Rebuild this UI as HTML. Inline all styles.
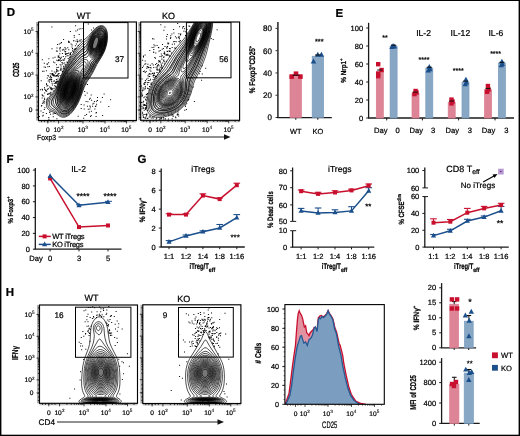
<!DOCTYPE html>
<html><head><meta charset="utf-8"><style>
html,body{margin:0;padding:0;background:#fff;}
svg{display:block;font-family:"Liberation Sans", sans-serif;will-change:transform;text-rendering:geometricPrecision;}
text{stroke:#000;stroke-width:0.22px;}
</style></head><body>
<svg width="520" height="436" viewBox="0 0 520 436" font-family='"Liberation Sans", sans-serif'>
<defs><clipPath id="cdw"><rect x="38.5" y="22.0" width="97.9" height="98.5"/></clipPath><clipPath id="cdk"><rect x="140.7" y="22.0" width="98.9" height="98.3"/></clipPath><clipPath id="chw"><rect x="39.5" y="305.0" width="98.0" height="98.30000000000001"/></clipPath><clipPath id="chk"><rect x="142.8" y="304.8" width="98.1" height="98.69999999999999"/></clipPath><clipPath id="chist"><rect x="284.9" y="304.6" width="99.40000000000003" height="99.69999999999999"/></clipPath></defs>
<rect x="0" y="0" width="520" height="436" fill="#fff"/>
<text x="6.80" y="16.40" font-size="11.5" text-anchor="start" font-weight="bold" fill="#000">D</text>
<text x="335.60" y="16.60" font-size="11.5" text-anchor="start" font-weight="bold" fill="#000">E</text>
<text x="6.60" y="163.00" font-size="11.5" text-anchor="start" font-weight="bold" fill="#000">F</text>
<text x="137.40" y="163.30" font-size="11.5" text-anchor="start" font-weight="bold" fill="#000">G</text>
<text x="5.80" y="296.40" font-size="11.5" text-anchor="start" font-weight="bold" fill="#000">H</text>
<line x1="277.90" y1="22.00" x2="277.90" y2="117.50" stroke="#333" stroke-width="1.6"/>
<line x1="275.50" y1="117.50" x2="277.90" y2="117.50" stroke="#333" stroke-width="1.0"/>
<text x="272.00" y="120.36" font-size="8.0" text-anchor="end" font-weight="normal" fill="#000">0</text>
<line x1="275.50" y1="95.22" x2="277.90" y2="95.22" stroke="#333" stroke-width="1.0"/>
<text x="272.00" y="98.08" font-size="8.0" text-anchor="end" font-weight="normal" fill="#000">20</text>
<line x1="275.50" y1="72.94" x2="277.90" y2="72.94" stroke="#333" stroke-width="1.0"/>
<text x="272.00" y="75.80" font-size="8.0" text-anchor="end" font-weight="normal" fill="#000">40</text>
<line x1="275.50" y1="50.66" x2="277.90" y2="50.66" stroke="#333" stroke-width="1.0"/>
<text x="272.00" y="53.52" font-size="8.0" text-anchor="end" font-weight="normal" fill="#000">60</text>
<line x1="275.50" y1="28.38" x2="277.90" y2="28.38" stroke="#333" stroke-width="1.0"/>
<text x="272.00" y="31.24" font-size="8.0" text-anchor="end" font-weight="normal" fill="#000">80</text>
<line x1="277.20" y1="117.60" x2="331.80" y2="117.60" stroke="#1a1a1a" stroke-width="1.3"/>
<line x1="295.80" y1="117.60" x2="295.80" y2="119.80" stroke="#1a1a1a" stroke-width="1.0"/>
<line x1="317.80" y1="117.60" x2="317.80" y2="119.80" stroke="#1a1a1a" stroke-width="1.0"/>
<rect x="290.00" y="76.28" width="11.40" height="41.22" fill="#dd8596" stroke="#d97a8d" stroke-width="0.7"/>
<rect x="312.20" y="56.23" width="11.40" height="61.27" fill="#87a7c4" stroke="#789cbd" stroke-width="0.7"/>
<rect x="289.40" y="74.30" width="4.60" height="4.60" fill="#c8102e"/>
<rect x="293.70" y="71.40" width="4.60" height="4.60" fill="#c8102e"/>
<rect x="298.10" y="74.30" width="4.60" height="4.60" fill="#c8102e"/>
<line x1="292.50" y1="75.20" x2="299.50" y2="75.20" stroke="#111" stroke-width="1.0"/>
<polygon points="313.50,58.58 310.70,63.62 316.30,63.62" fill="#1b4f8c"/>
<polygon points="317.80,51.78 315.00,56.82 320.60,56.82" fill="#1b4f8c"/>
<polygon points="321.40,51.78 318.60,56.82 324.20,56.82" fill="#1b4f8c"/>
<line x1="315.00" y1="55.00" x2="320.50" y2="55.00" stroke="#111" stroke-width="1.0"/>
<text x="319.20" y="44.40" font-size="7.4" text-anchor="middle" font-weight="normal" fill="#000">***</text>
<text x="295.80" y="133.60" font-size="7.4" text-anchor="middle" font-weight="normal" fill="#000">WT</text>
<text x="317.80" y="133.60" font-size="7.4" text-anchor="middle" font-weight="normal" fill="#000">KO</text>
<line x1="368.60" y1="22.80" x2="368.60" y2="118.00" stroke="#1a1a1a" stroke-width="1.3"/>
<line x1="366.20" y1="118.00" x2="368.60" y2="118.00" stroke="#1a1a1a" stroke-width="1.0"/>
<text x="363.10" y="120.69" font-size="7.5" text-anchor="end" font-weight="normal" fill="#000">0</text>
<line x1="366.20" y1="100.00" x2="368.60" y2="100.00" stroke="#1a1a1a" stroke-width="1.0"/>
<text x="363.10" y="102.69" font-size="7.5" text-anchor="end" font-weight="normal" fill="#000">20</text>
<line x1="366.20" y1="82.00" x2="368.60" y2="82.00" stroke="#1a1a1a" stroke-width="1.0"/>
<text x="363.10" y="84.69" font-size="7.5" text-anchor="end" font-weight="normal" fill="#000">40</text>
<line x1="366.20" y1="64.00" x2="368.60" y2="64.00" stroke="#1a1a1a" stroke-width="1.0"/>
<text x="363.10" y="66.69" font-size="7.5" text-anchor="end" font-weight="normal" fill="#000">60</text>
<line x1="366.20" y1="46.00" x2="368.60" y2="46.00" stroke="#1a1a1a" stroke-width="1.0"/>
<text x="363.10" y="48.69" font-size="7.5" text-anchor="end" font-weight="normal" fill="#000">80</text>
<line x1="366.20" y1="28.00" x2="368.60" y2="28.00" stroke="#1a1a1a" stroke-width="1.0"/>
<text x="363.10" y="30.68" font-size="7.5" text-anchor="end" font-weight="normal" fill="#000">100</text>
<line x1="368.00" y1="118.00" x2="514.00" y2="118.00" stroke="#1a1a1a" stroke-width="1.3"/>
<line x1="386.70" y1="118.00" x2="386.70" y2="120.40" stroke="#1a1a1a" stroke-width="1.0"/>
<line x1="422.40" y1="118.00" x2="422.40" y2="120.40" stroke="#1a1a1a" stroke-width="1.0"/>
<line x1="458.60" y1="118.00" x2="458.60" y2="120.40" stroke="#1a1a1a" stroke-width="1.0"/>
<line x1="495.00" y1="118.00" x2="495.00" y2="120.40" stroke="#1a1a1a" stroke-width="1.0"/>
<rect x="376.30" y="71.20" width="7.00" height="46.80" fill="#dd8596" stroke="#d97a8d" stroke-width="0.7"/>
<rect x="390.10" y="46.00" width="7.00" height="72.00" fill="#87a7c4" stroke="#789cbd" stroke-width="0.7"/>
<rect x="376.00" y="62.00" width="4.40" height="4.40" fill="#c8102e"/>
<rect x="379.40" y="67.80" width="4.40" height="4.40" fill="#c8102e"/>
<rect x="376.00" y="71.60" width="4.40" height="4.40" fill="#c8102e"/>
<rect x="376.00" y="74.00" width="4.40" height="4.40" fill="#c8102e"/>
<polygon points="393.10,43.10 390.41,47.94 395.79,47.94" fill="#1b4f8c"/>
<polygon points="392.00,44.10 389.31,48.94 394.69,48.94" fill="#1b4f8c"/>
<polygon points="394.50,43.70 391.81,48.54 397.19,48.54" fill="#1b4f8c"/>
<line x1="377.20" y1="70.00" x2="382.20" y2="70.00" stroke="#111" stroke-width="1.0"/>
<line x1="391.00" y1="45.20" x2="396.20" y2="45.20" stroke="#111" stroke-width="1.0"/>
<text x="385.00" y="39.90" font-size="7.0" text-anchor="middle" font-weight="normal" fill="#000">**</text>
<rect x="412.00" y="93.25" width="7.00" height="24.75" fill="#dd8596" stroke="#d97a8d" stroke-width="0.7"/>
<rect x="425.80" y="68.05" width="7.00" height="49.95" fill="#87a7c4" stroke="#789cbd" stroke-width="0.7"/>
<rect x="413.40" y="88.80" width="4.40" height="4.40" fill="#c8102e"/>
<rect x="412.30" y="91.90" width="4.40" height="4.40" fill="#c8102e"/>
<rect x="414.30" y="90.30" width="4.40" height="4.40" fill="#c8102e"/>
<polygon points="429.30,64.00 426.61,68.84 431.99,68.84" fill="#1b4f8c"/>
<polygon points="428.30,67.70 425.61,72.54 430.99,72.54" fill="#1b4f8c"/>
<polygon points="430.00,66.30 427.31,71.14 432.69,71.14" fill="#1b4f8c"/>
<line x1="412.90" y1="92.05" x2="417.90" y2="92.05" stroke="#111" stroke-width="1.0"/>
<line x1="426.70" y1="67.25" x2="431.90" y2="67.25" stroke="#111" stroke-width="1.0"/>
<text x="424.00" y="61.80" font-size="7.0" text-anchor="middle" font-weight="normal" fill="#000">****</text>
<rect x="448.20" y="102.25" width="7.00" height="15.75" fill="#dd8596" stroke="#d97a8d" stroke-width="0.7"/>
<rect x="462.00" y="82.00" width="7.00" height="36.00" fill="#87a7c4" stroke="#789cbd" stroke-width="0.7"/>
<rect x="449.30" y="97.40" width="4.40" height="4.40" fill="#c8102e"/>
<rect x="449.30" y="101.20" width="4.40" height="4.40" fill="#c8102e"/>
<rect x="450.30" y="99.30" width="4.40" height="4.40" fill="#c8102e"/>
<polygon points="465.90,76.70 463.21,81.54 468.59,81.54" fill="#1b4f8c"/>
<polygon points="465.30,81.50 462.61,86.34 467.99,86.34" fill="#1b4f8c"/>
<polygon points="466.40,79.60 463.71,84.44 469.09,84.44" fill="#1b4f8c"/>
<line x1="449.10" y1="101.05" x2="454.10" y2="101.05" stroke="#111" stroke-width="1.0"/>
<line x1="462.90" y1="81.20" x2="468.10" y2="81.20" stroke="#111" stroke-width="1.0"/>
<text x="458.30" y="72.90" font-size="7.0" text-anchor="middle" font-weight="normal" fill="#000">****</text>
<rect x="484.60" y="89.65" width="7.00" height="28.35" fill="#dd8596" stroke="#d97a8d" stroke-width="0.7"/>
<rect x="498.40" y="63.10" width="7.00" height="54.90" fill="#87a7c4" stroke="#789cbd" stroke-width="0.7"/>
<rect x="485.70" y="83.80" width="4.40" height="4.40" fill="#c8102e"/>
<rect x="484.90" y="89.60" width="4.40" height="4.40" fill="#c8102e"/>
<rect x="486.30" y="87.30" width="4.40" height="4.40" fill="#c8102e"/>
<polygon points="501.90,58.70 499.21,63.54 504.59,63.54" fill="#1b4f8c"/>
<polygon points="501.30,62.50 498.61,67.34 503.99,67.34" fill="#1b4f8c"/>
<polygon points="502.30,61.10 499.61,65.94 504.99,65.94" fill="#1b4f8c"/>
<line x1="485.50" y1="88.45" x2="490.50" y2="88.45" stroke="#111" stroke-width="1.0"/>
<line x1="499.30" y1="62.30" x2="504.50" y2="62.30" stroke="#111" stroke-width="1.0"/>
<text x="495.60" y="56.20" font-size="7.0" text-anchor="middle" font-weight="normal" fill="#000">****</text>
<text x="380.70" y="133.30" font-size="7.6" text-anchor="middle" font-weight="normal" fill="#000">Day</text>
<text x="416.20" y="133.30" font-size="7.6" text-anchor="middle" font-weight="normal" fill="#000">Day</text>
<text x="452.30" y="133.30" font-size="7.6" text-anchor="middle" font-weight="normal" fill="#000">Day</text>
<text x="488.60" y="133.30" font-size="7.6" text-anchor="middle" font-weight="normal" fill="#000">Day</text>
<text x="397.70" y="133.30" font-size="7.6" text-anchor="middle" font-weight="normal" fill="#000">0</text>
<text x="433.10" y="133.30" font-size="7.6" text-anchor="middle" font-weight="normal" fill="#000">3</text>
<text x="469.90" y="133.30" font-size="7.6" text-anchor="middle" font-weight="normal" fill="#000">3</text>
<text x="506.40" y="133.30" font-size="7.6" text-anchor="middle" font-weight="normal" fill="#000">3</text>
<text x="423.60" y="36.40" font-size="8.6" text-anchor="middle" font-weight="normal" fill="#000">IL-2</text>
<text x="460.40" y="36.40" font-size="8.6" text-anchor="middle" font-weight="normal" fill="#000">IL-12</text>
<text x="495.90" y="36.40" font-size="8.6" text-anchor="middle" font-weight="normal" fill="#000">IL-6</text>
<line x1="35.30" y1="168.00" x2="35.30" y2="249.20" stroke="#1a1a1a" stroke-width="1.3"/>
<line x1="32.90" y1="249.20" x2="35.30" y2="249.20" stroke="#1a1a1a" stroke-width="1.0"/>
<text x="29.80" y="251.88" font-size="7.5" text-anchor="end" font-weight="normal" fill="#000">0</text>
<line x1="32.90" y1="233.38" x2="35.30" y2="233.38" stroke="#1a1a1a" stroke-width="1.0"/>
<text x="29.80" y="236.06" font-size="7.5" text-anchor="end" font-weight="normal" fill="#000">20</text>
<line x1="32.90" y1="217.56" x2="35.30" y2="217.56" stroke="#1a1a1a" stroke-width="1.0"/>
<text x="29.80" y="220.25" font-size="7.5" text-anchor="end" font-weight="normal" fill="#000">40</text>
<line x1="32.90" y1="201.74" x2="35.30" y2="201.74" stroke="#1a1a1a" stroke-width="1.0"/>
<text x="29.80" y="204.42" font-size="7.5" text-anchor="end" font-weight="normal" fill="#000">60</text>
<line x1="32.90" y1="185.92" x2="35.30" y2="185.92" stroke="#1a1a1a" stroke-width="1.0"/>
<text x="29.80" y="188.60" font-size="7.5" text-anchor="end" font-weight="normal" fill="#000">80</text>
<line x1="32.90" y1="170.10" x2="35.30" y2="170.10" stroke="#1a1a1a" stroke-width="1.0"/>
<text x="29.80" y="172.78" font-size="7.5" text-anchor="end" font-weight="normal" fill="#000">100</text>
<line x1="34.60" y1="249.20" x2="121.50" y2="249.20" stroke="#1a1a1a" stroke-width="1.3"/>
<line x1="50.10" y1="249.20" x2="50.10" y2="251.40" stroke="#1a1a1a" stroke-width="1.0"/>
<line x1="79.00" y1="249.20" x2="79.00" y2="251.40" stroke="#1a1a1a" stroke-width="1.0"/>
<line x1="108.00" y1="249.20" x2="108.00" y2="251.40" stroke="#1a1a1a" stroke-width="1.0"/>
<text x="36.00" y="261.00" font-size="7.6" text-anchor="middle" font-weight="normal" fill="#000">Day</text>
<text x="50.10" y="261.00" font-size="7.6" text-anchor="middle" font-weight="normal" fill="#000">0</text>
<text x="79.00" y="261.00" font-size="7.6" text-anchor="middle" font-weight="normal" fill="#000">3</text>
<text x="108.00" y="261.00" font-size="7.6" text-anchor="middle" font-weight="normal" fill="#000">5</text>
<text x="78.60" y="172.20" font-size="8.6" text-anchor="middle" font-weight="normal" fill="#000">IL-2</text>
<polyline points="50.10,178.41 79.00,227.05 108.00,225.47" fill="none" stroke="#c8102e" stroke-width="1.5"/>
<polyline points="50.10,176.03 79.00,205.30 108.00,202.14" fill="none" stroke="#1b4f8c" stroke-width="1.5"/>
<rect x="48.10" y="176.41" width="4.00" height="4.00" fill="#c8102e"/>
<rect x="77.00" y="225.05" width="4.00" height="4.00" fill="#c8102e"/>
<rect x="106.00" y="223.47" width="4.00" height="4.00" fill="#c8102e"/>
<polygon points="50.10,173.25 47.52,177.89 52.68,177.89" fill="#1b4f8c"/>
<polygon points="79.00,202.52 76.42,207.15 81.58,207.15" fill="#1b4f8c"/>
<polygon points="108.00,199.35 105.42,203.99 110.58,203.99" fill="#1b4f8c"/>
<line x1="76.00" y1="204.80" x2="82.00" y2="204.80" stroke="#1b4f8c" stroke-width="1.0"/>
<line x1="105.00" y1="201.34" x2="112.00" y2="201.34" stroke="#1b4f8c" stroke-width="1.0"/>
<text x="83.00" y="199.20" font-size="8.4" text-anchor="middle" font-weight="normal" fill="#000">****</text>
<text x="110.00" y="199.20" font-size="8.4" text-anchor="middle" font-weight="normal" fill="#000">****</text>
<line x1="38.80" y1="236.40" x2="50.80" y2="236.40" stroke="#c8102e" stroke-width="1.5"/>
<rect x="42.60" y="234.40" width="4.00" height="4.00" fill="#c8102e"/>
<text x="52.20" y="239.30" font-size="7.5" text-anchor="start" font-weight="normal" fill="#000" textLength="32.4">WT iTregs</text>
<line x1="38.80" y1="244.40" x2="50.80" y2="244.40" stroke="#1b4f8c" stroke-width="1.5"/>
<polygon points="44.60,241.62 42.02,246.25 47.18,246.25" fill="#1b4f8c"/>
<text x="52.20" y="247.30" font-size="7.5" text-anchor="start" font-weight="normal" fill="#000" textLength="31.2">KO iTregs</text>
<line x1="161.20" y1="168.50" x2="161.20" y2="247.00" stroke="#1a1a1a" stroke-width="1.3"/>
<line x1="158.80" y1="247.00" x2="161.20" y2="247.00" stroke="#1a1a1a" stroke-width="1.0"/>
<text x="155.70" y="249.69" font-size="7.5" text-anchor="end" font-weight="normal" fill="#000">0</text>
<line x1="158.80" y1="228.06" x2="161.20" y2="228.06" stroke="#1a1a1a" stroke-width="1.0"/>
<text x="155.70" y="230.75" font-size="7.5" text-anchor="end" font-weight="normal" fill="#000">2</text>
<line x1="158.80" y1="209.12" x2="161.20" y2="209.12" stroke="#1a1a1a" stroke-width="1.0"/>
<text x="155.70" y="211.81" font-size="7.5" text-anchor="end" font-weight="normal" fill="#000">4</text>
<line x1="158.80" y1="190.18" x2="161.20" y2="190.18" stroke="#1a1a1a" stroke-width="1.0"/>
<text x="155.70" y="192.87" font-size="7.5" text-anchor="end" font-weight="normal" fill="#000">6</text>
<line x1="158.80" y1="171.24" x2="161.20" y2="171.24" stroke="#1a1a1a" stroke-width="1.0"/>
<text x="155.70" y="173.93" font-size="7.5" text-anchor="end" font-weight="normal" fill="#000">8</text>
<line x1="160.60" y1="247.00" x2="244.80" y2="247.00" stroke="#1a1a1a" stroke-width="1.3"/>
<line x1="169.00" y1="247.00" x2="169.00" y2="249.20" stroke="#1a1a1a" stroke-width="1.0"/>
<line x1="186.00" y1="247.00" x2="186.00" y2="249.20" stroke="#1a1a1a" stroke-width="1.0"/>
<line x1="202.90" y1="247.00" x2="202.90" y2="249.20" stroke="#1a1a1a" stroke-width="1.0"/>
<line x1="219.70" y1="247.00" x2="219.70" y2="249.20" stroke="#1a1a1a" stroke-width="1.0"/>
<line x1="236.80" y1="247.00" x2="236.80" y2="249.20" stroke="#1a1a1a" stroke-width="1.0"/>
<line x1="202.90" y1="195.60" x2="202.90" y2="193.90" stroke="#c8102e" stroke-width="1.0"/>
<line x1="199.60" y1="193.90" x2="206.20" y2="193.90" stroke="#c8102e" stroke-width="1.1"/>
<line x1="236.80" y1="185.20" x2="236.80" y2="183.20" stroke="#c8102e" stroke-width="1.0"/>
<line x1="233.50" y1="183.20" x2="240.10" y2="183.20" stroke="#c8102e" stroke-width="1.1"/>
<line x1="219.70" y1="199.10" x2="219.70" y2="198.00" stroke="#c8102e" stroke-width="1.0"/>
<line x1="216.40" y1="198.00" x2="223.00" y2="198.00" stroke="#c8102e" stroke-width="1.1"/>
<line x1="169.00" y1="214.60" x2="169.00" y2="213.80" stroke="#c8102e" stroke-width="1.0"/>
<line x1="165.70" y1="213.80" x2="172.30" y2="213.80" stroke="#c8102e" stroke-width="1.1"/>
<line x1="186.00" y1="214.60" x2="186.00" y2="213.80" stroke="#c8102e" stroke-width="1.0"/>
<line x1="182.70" y1="213.80" x2="189.30" y2="213.80" stroke="#c8102e" stroke-width="1.1"/>
<line x1="169.00" y1="241.90" x2="169.00" y2="240.60" stroke="#1b4f8c" stroke-width="1.0"/>
<line x1="165.70" y1="240.60" x2="172.30" y2="240.60" stroke="#1b4f8c" stroke-width="1.1"/>
<line x1="219.70" y1="228.00" x2="219.70" y2="224.50" stroke="#1b4f8c" stroke-width="1.0"/>
<line x1="216.40" y1="224.50" x2="223.00" y2="224.50" stroke="#1b4f8c" stroke-width="1.1"/>
<line x1="236.80" y1="217.70" x2="236.80" y2="214.60" stroke="#1b4f8c" stroke-width="1.0"/>
<line x1="233.50" y1="214.60" x2="240.10" y2="214.60" stroke="#1b4f8c" stroke-width="1.1"/>
<line x1="186.00" y1="235.90" x2="186.00" y2="235.00" stroke="#1b4f8c" stroke-width="1.0"/>
<line x1="182.70" y1="235.00" x2="189.30" y2="235.00" stroke="#1b4f8c" stroke-width="1.1"/>
<line x1="202.90" y1="231.70" x2="202.90" y2="230.80" stroke="#1b4f8c" stroke-width="1.0"/>
<line x1="199.60" y1="230.80" x2="206.20" y2="230.80" stroke="#1b4f8c" stroke-width="1.1"/>
<polyline points="169.00,214.60 186.00,214.60 202.90,195.60 219.70,199.10 236.80,185.20" fill="none" stroke="#c8102e" stroke-width="1.5"/>
<rect x="167.00" y="212.60" width="4.00" height="4.00" fill="#c8102e"/>
<rect x="184.00" y="212.60" width="4.00" height="4.00" fill="#c8102e"/>
<rect x="200.90" y="193.60" width="4.00" height="4.00" fill="#c8102e"/>
<rect x="217.70" y="197.10" width="4.00" height="4.00" fill="#c8102e"/>
<rect x="234.80" y="183.20" width="4.00" height="4.00" fill="#c8102e"/>
<polyline points="169.00,241.90 186.00,235.90 202.90,231.70 219.70,228.00 236.80,217.70" fill="none" stroke="#1b4f8c" stroke-width="1.5"/>
<polygon points="169.00,239.12 166.42,243.75 171.58,243.75" fill="#1b4f8c"/>
<polygon points="186.00,233.12 183.42,237.75 188.58,237.75" fill="#1b4f8c"/>
<polygon points="202.90,228.92 200.32,233.55 205.48,233.55" fill="#1b4f8c"/>
<polygon points="219.70,225.22 217.12,229.85 222.28,229.85" fill="#1b4f8c"/>
<polygon points="236.80,214.92 234.22,219.55 239.38,219.55" fill="#1b4f8c"/>
<text x="235.10" y="239.60" font-size="8.0" text-anchor="middle" font-weight="normal" fill="#000">***</text>
<text x="203.00" y="172.20" font-size="8.6" text-anchor="middle" font-weight="normal" fill="#000">iTregs</text>
<text x="169.00" y="258.60" font-size="7.5" text-anchor="middle" font-weight="normal" fill="#000">1:1</text>
<text x="186.00" y="258.60" font-size="7.5" text-anchor="middle" font-weight="normal" fill="#000">1:2</text>
<text x="202.90" y="258.60" font-size="7.5" text-anchor="middle" font-weight="normal" fill="#000">1:4</text>
<text x="219.70" y="258.60" font-size="7.5" text-anchor="middle" font-weight="normal" fill="#000">1:8</text>
<text x="236.80" y="258.60" font-size="7.5" text-anchor="middle" font-weight="normal" fill="#000">1:16</text>
<text x="189.60" y="269.3" font-size="8.2" font-weight="bold" textLength="19.2" lengthAdjust="spacingAndGlyphs">iTreg/T</text>
<text x="208.80" y="271.6" font-size="6.2" font-weight="bold" textLength="6.3" lengthAdjust="spacingAndGlyphs">eff</text>
<line x1="292.60" y1="167.50" x2="292.60" y2="221.40" stroke="#1a1a1a" stroke-width="1.3"/>
<line x1="292.60" y1="230.70" x2="292.60" y2="247.20" stroke="#1a1a1a" stroke-width="1.3"/>
<line x1="290.20" y1="170.80" x2="292.60" y2="170.80" stroke="#1a1a1a" stroke-width="1.0"/>
<text x="287.10" y="173.50" font-size="7.5" text-anchor="end" font-weight="normal" fill="#000">80</text>
<line x1="290.20" y1="187.70" x2="292.60" y2="187.70" stroke="#1a1a1a" stroke-width="1.0"/>
<text x="287.10" y="190.40" font-size="7.5" text-anchor="end" font-weight="normal" fill="#000">70</text>
<line x1="290.20" y1="204.90" x2="292.60" y2="204.90" stroke="#1a1a1a" stroke-width="1.0"/>
<text x="287.10" y="207.60" font-size="7.5" text-anchor="end" font-weight="normal" fill="#000">60</text>
<line x1="290.20" y1="221.40" x2="292.60" y2="221.40" stroke="#1a1a1a" stroke-width="1.0"/>
<text x="287.10" y="224.10" font-size="7.5" text-anchor="end" font-weight="normal" fill="#000">50</text>
<line x1="290.20" y1="230.70" x2="292.60" y2="230.70" stroke="#1a1a1a" stroke-width="1.0"/>
<text x="287.10" y="233.40" font-size="7.5" text-anchor="end" font-weight="normal" fill="#000">10</text>
<line x1="290.20" y1="247.20" x2="292.60" y2="247.20" stroke="#1a1a1a" stroke-width="1.0"/>
<text x="287.10" y="249.90" font-size="7.5" text-anchor="end" font-weight="normal" fill="#000">0</text>
<line x1="292.60" y1="221.40" x2="296.20" y2="221.40" stroke="#1a1a1a" stroke-width="1.0"/>
<line x1="292.60" y1="230.70" x2="296.20" y2="230.70" stroke="#1a1a1a" stroke-width="1.0"/>
<line x1="292.00" y1="247.20" x2="374.30" y2="247.20" stroke="#1a1a1a" stroke-width="1.3"/>
<line x1="301.10" y1="247.20" x2="301.10" y2="249.40" stroke="#1a1a1a" stroke-width="1.0"/>
<line x1="318.10" y1="247.20" x2="318.10" y2="249.40" stroke="#1a1a1a" stroke-width="1.0"/>
<line x1="335.00" y1="247.20" x2="335.00" y2="249.40" stroke="#1a1a1a" stroke-width="1.0"/>
<line x1="351.50" y1="247.20" x2="351.50" y2="249.40" stroke="#1a1a1a" stroke-width="1.0"/>
<line x1="368.70" y1="247.20" x2="368.70" y2="249.40" stroke="#1a1a1a" stroke-width="1.0"/>
<line x1="301.10" y1="191.20" x2="301.10" y2="190.00" stroke="#c8102e" stroke-width="1.0"/>
<line x1="297.80" y1="190.00" x2="304.40" y2="190.00" stroke="#c8102e" stroke-width="1.1"/>
<line x1="318.10" y1="193.90" x2="318.10" y2="192.30" stroke="#c8102e" stroke-width="1.0"/>
<line x1="314.80" y1="192.30" x2="321.40" y2="192.30" stroke="#c8102e" stroke-width="1.1"/>
<line x1="335.00" y1="192.50" x2="335.00" y2="190.80" stroke="#c8102e" stroke-width="1.0"/>
<line x1="331.70" y1="190.80" x2="338.30" y2="190.80" stroke="#c8102e" stroke-width="1.1"/>
<line x1="351.50" y1="190.40" x2="351.50" y2="189.20" stroke="#c8102e" stroke-width="1.0"/>
<line x1="348.20" y1="189.20" x2="354.80" y2="189.20" stroke="#c8102e" stroke-width="1.1"/>
<line x1="368.70" y1="185.70" x2="368.70" y2="184.00" stroke="#c8102e" stroke-width="1.0"/>
<line x1="365.40" y1="184.00" x2="372.00" y2="184.00" stroke="#c8102e" stroke-width="1.1"/>
<line x1="301.10" y1="210.90" x2="301.10" y2="208.40" stroke="#1b4f8c" stroke-width="1.0"/>
<line x1="297.80" y1="208.40" x2="304.40" y2="208.40" stroke="#1b4f8c" stroke-width="1.1"/>
<line x1="318.10" y1="212.90" x2="318.10" y2="208.00" stroke="#1b4f8c" stroke-width="1.0"/>
<line x1="314.80" y1="208.00" x2="321.40" y2="208.00" stroke="#1b4f8c" stroke-width="1.1"/>
<line x1="335.00" y1="212.50" x2="335.00" y2="209.80" stroke="#1b4f8c" stroke-width="1.0"/>
<line x1="331.70" y1="209.80" x2="338.30" y2="209.80" stroke="#1b4f8c" stroke-width="1.1"/>
<line x1="351.50" y1="210.90" x2="351.50" y2="206.70" stroke="#1b4f8c" stroke-width="1.0"/>
<line x1="348.20" y1="206.70" x2="354.80" y2="206.70" stroke="#1b4f8c" stroke-width="1.1"/>
<line x1="368.70" y1="190.80" x2="368.70" y2="187.70" stroke="#1b4f8c" stroke-width="1.0"/>
<line x1="365.40" y1="187.70" x2="372.00" y2="187.70" stroke="#1b4f8c" stroke-width="1.1"/>
<polyline points="301.10,191.20 318.10,193.90 335.00,192.50 351.50,190.40 368.70,185.70" fill="none" stroke="#c8102e" stroke-width="1.5"/>
<rect x="299.10" y="189.20" width="4.00" height="4.00" fill="#c8102e"/>
<rect x="316.10" y="191.90" width="4.00" height="4.00" fill="#c8102e"/>
<rect x="333.00" y="190.50" width="4.00" height="4.00" fill="#c8102e"/>
<rect x="349.50" y="188.40" width="4.00" height="4.00" fill="#c8102e"/>
<rect x="366.70" y="183.70" width="4.00" height="4.00" fill="#c8102e"/>
<polyline points="301.10,210.90 318.10,212.90 335.00,212.50 351.50,210.90 368.70,190.80" fill="none" stroke="#1b4f8c" stroke-width="1.5"/>
<polygon points="301.10,208.12 298.52,212.75 303.68,212.75" fill="#1b4f8c"/>
<polygon points="318.10,210.12 315.52,214.75 320.68,214.75" fill="#1b4f8c"/>
<polygon points="335.00,209.72 332.42,214.35 337.58,214.35" fill="#1b4f8c"/>
<polygon points="351.50,208.12 348.92,212.75 354.08,212.75" fill="#1b4f8c"/>
<polygon points="368.70,188.02 366.12,192.65 371.28,192.65" fill="#1b4f8c"/>
<text x="368.30" y="209.40" font-size="7.8" text-anchor="middle" font-weight="normal" fill="#000">**</text>
<text x="339.80" y="172.20" font-size="8.6" text-anchor="middle" font-weight="normal" fill="#000">iTregs</text>
<text x="301.10" y="258.60" font-size="7.5" text-anchor="middle" font-weight="normal" fill="#000">1:1</text>
<text x="318.10" y="258.60" font-size="7.5" text-anchor="middle" font-weight="normal" fill="#000">1:2</text>
<text x="335.00" y="258.60" font-size="7.5" text-anchor="middle" font-weight="normal" fill="#000">1:4</text>
<text x="351.50" y="258.60" font-size="7.5" text-anchor="middle" font-weight="normal" fill="#000">1:8</text>
<text x="368.70" y="258.60" font-size="7.5" text-anchor="middle" font-weight="normal" fill="#000">1:16</text>
<text x="321.75" y="269.3" font-size="8.2" font-weight="bold" textLength="19.2" lengthAdjust="spacingAndGlyphs">iTreg/T</text>
<text x="340.95" y="271.6" font-size="6.2" font-weight="bold" textLength="6.3" lengthAdjust="spacingAndGlyphs">eff</text>
<line x1="424.80" y1="167.60" x2="424.80" y2="187.90" stroke="#1a1a1a" stroke-width="1.3"/>
<line x1="424.80" y1="196.00" x2="424.80" y2="247.10" stroke="#1a1a1a" stroke-width="1.3"/>
<line x1="422.40" y1="170.50" x2="424.80" y2="170.50" stroke="#1a1a1a" stroke-width="1.0"/>
<text x="419.30" y="173.20" font-size="7.5" text-anchor="end" font-weight="normal" fill="#000">100</text>
<line x1="422.40" y1="187.90" x2="424.80" y2="187.90" stroke="#1a1a1a" stroke-width="1.0"/>
<text x="419.30" y="190.60" font-size="7.5" text-anchor="end" font-weight="normal" fill="#000">60</text>
<line x1="422.40" y1="247.10" x2="424.80" y2="247.10" stroke="#1a1a1a" stroke-width="1.0"/>
<text x="419.30" y="249.80" font-size="7.5" text-anchor="end" font-weight="normal" fill="#000">0</text>
<line x1="422.40" y1="230.25" x2="424.80" y2="230.25" stroke="#1a1a1a" stroke-width="1.0"/>
<text x="419.30" y="232.95" font-size="7.5" text-anchor="end" font-weight="normal" fill="#000">20</text>
<line x1="422.40" y1="213.40" x2="424.80" y2="213.40" stroke="#1a1a1a" stroke-width="1.0"/>
<text x="419.30" y="216.10" font-size="7.5" text-anchor="end" font-weight="normal" fill="#000">40</text>
<line x1="422.40" y1="196.55" x2="424.80" y2="196.55" stroke="#1a1a1a" stroke-width="1.0"/>
<text x="419.30" y="199.25" font-size="7.5" text-anchor="end" font-weight="normal" fill="#000">60</text>
<line x1="424.80" y1="187.90" x2="428.00" y2="187.90" stroke="#1a1a1a" stroke-width="1.0"/>
<line x1="424.80" y1="196.60" x2="428.00" y2="196.60" stroke="#1a1a1a" stroke-width="1.0"/>
<line x1="424.20" y1="247.10" x2="508.80" y2="247.10" stroke="#1a1a1a" stroke-width="1.3"/>
<line x1="433.50" y1="247.10" x2="433.50" y2="249.30" stroke="#1a1a1a" stroke-width="1.0"/>
<line x1="450.30" y1="247.10" x2="450.30" y2="249.30" stroke="#1a1a1a" stroke-width="1.0"/>
<line x1="467.30" y1="247.10" x2="467.30" y2="249.30" stroke="#1a1a1a" stroke-width="1.0"/>
<line x1="484.10" y1="247.10" x2="484.10" y2="249.30" stroke="#1a1a1a" stroke-width="1.0"/>
<line x1="501.10" y1="247.10" x2="501.10" y2="249.30" stroke="#1a1a1a" stroke-width="1.0"/>
<line x1="433.50" y1="222.70" x2="433.50" y2="218.80" stroke="#c8102e" stroke-width="1.0"/>
<line x1="430.20" y1="218.80" x2="436.80" y2="218.80" stroke="#c8102e" stroke-width="1.1"/>
<line x1="450.30" y1="221.70" x2="450.30" y2="219.50" stroke="#c8102e" stroke-width="1.0"/>
<line x1="447.00" y1="219.50" x2="453.60" y2="219.50" stroke="#c8102e" stroke-width="1.1"/>
<line x1="467.30" y1="212.70" x2="467.30" y2="208.40" stroke="#c8102e" stroke-width="1.0"/>
<line x1="464.00" y1="208.40" x2="470.60" y2="208.40" stroke="#c8102e" stroke-width="1.1"/>
<line x1="484.10" y1="208.40" x2="484.10" y2="206.40" stroke="#c8102e" stroke-width="1.0"/>
<line x1="480.80" y1="206.40" x2="487.40" y2="206.40" stroke="#c8102e" stroke-width="1.1"/>
<line x1="501.10" y1="205.10" x2="501.10" y2="203.30" stroke="#c8102e" stroke-width="1.0"/>
<line x1="497.80" y1="203.30" x2="504.40" y2="203.30" stroke="#c8102e" stroke-width="1.1"/>
<line x1="433.50" y1="235.60" x2="433.50" y2="234.50" stroke="#1b4f8c" stroke-width="1.0"/>
<line x1="430.20" y1="234.50" x2="436.80" y2="234.50" stroke="#1b4f8c" stroke-width="1.1"/>
<line x1="450.30" y1="230.80" x2="450.30" y2="229.30" stroke="#1b4f8c" stroke-width="1.0"/>
<line x1="447.00" y1="229.30" x2="453.60" y2="229.30" stroke="#1b4f8c" stroke-width="1.1"/>
<line x1="467.30" y1="221.00" x2="467.30" y2="219.30" stroke="#1b4f8c" stroke-width="1.0"/>
<line x1="464.00" y1="219.30" x2="470.60" y2="219.30" stroke="#1b4f8c" stroke-width="1.1"/>
<line x1="484.10" y1="217.10" x2="484.10" y2="216.00" stroke="#1b4f8c" stroke-width="1.0"/>
<line x1="480.80" y1="216.00" x2="487.40" y2="216.00" stroke="#1b4f8c" stroke-width="1.1"/>
<line x1="501.10" y1="210.80" x2="501.10" y2="206.40" stroke="#1b4f8c" stroke-width="1.0"/>
<line x1="497.80" y1="206.40" x2="504.40" y2="206.40" stroke="#1b4f8c" stroke-width="1.1"/>
<polyline points="433.50,222.70 450.30,221.70 467.30,212.70 484.10,208.40 501.10,205.10" fill="none" stroke="#c8102e" stroke-width="1.5"/>
<rect x="431.50" y="220.70" width="4.00" height="4.00" fill="#c8102e"/>
<rect x="448.30" y="219.70" width="4.00" height="4.00" fill="#c8102e"/>
<rect x="465.30" y="210.70" width="4.00" height="4.00" fill="#c8102e"/>
<rect x="482.10" y="206.40" width="4.00" height="4.00" fill="#c8102e"/>
<rect x="499.10" y="203.10" width="4.00" height="4.00" fill="#c8102e"/>
<polyline points="433.50,235.60 450.30,230.80 467.30,221.00 484.10,217.10 501.10,210.80" fill="none" stroke="#1b4f8c" stroke-width="1.5"/>
<polygon points="433.50,232.82 430.92,237.45 436.08,237.45" fill="#1b4f8c"/>
<polygon points="450.30,228.02 447.72,232.65 452.88,232.65" fill="#1b4f8c"/>
<polygon points="467.30,218.22 464.72,222.85 469.88,222.85" fill="#1b4f8c"/>
<polygon points="484.10,214.32 481.52,218.95 486.68,218.95" fill="#1b4f8c"/>
<polygon points="501.10,208.02 498.52,212.65 503.68,212.65" fill="#1b4f8c"/>
<text x="499.90" y="225.90" font-size="8.4" text-anchor="middle" font-weight="normal" fill="#000">**</text>
<text x="446.30" y="172.40" font-size="9.0" text-anchor="start" font-weight="normal" fill="#000">CD8 T<tspan font-size="6.8" dy="2">eff</tspan></text>
<rect x="498.10" y="168.70" width="5.60" height="5.80" fill="#b89bd2"/>
<circle cx="500.8" cy="171.5" r="0.75" fill="#5b1f7a"/>
<line x1="483.10" y1="182.00" x2="494.00" y2="175.90" stroke="#000" stroke-width="1.1"/>
<polygon points="497.4,174.0 494.5,177.9 492.5,174.5" fill="#000"/>
<text x="478.00" y="188.30" font-size="8.0" text-anchor="middle" font-weight="normal" fill="#000">No iTregs</text>
<text x="433.50" y="258.60" font-size="7.5" text-anchor="middle" font-weight="normal" fill="#000">1:1</text>
<text x="450.30" y="258.60" font-size="7.5" text-anchor="middle" font-weight="normal" fill="#000">1:2</text>
<text x="467.30" y="258.60" font-size="7.5" text-anchor="middle" font-weight="normal" fill="#000">1:4</text>
<text x="484.10" y="258.60" font-size="7.5" text-anchor="middle" font-weight="normal" fill="#000">1:8</text>
<text x="501.10" y="258.60" font-size="7.5" text-anchor="middle" font-weight="normal" fill="#000">1:16</text>
<text x="454.05" y="269.3" font-size="8.2" font-weight="bold" textLength="19.2" lengthAdjust="spacingAndGlyphs">iTreg/T</text>
<text x="473.25" y="271.6" font-size="6.2" font-weight="bold" textLength="6.3" lengthAdjust="spacingAndGlyphs">eff</text>
<g fill="none" stroke="#000" stroke-width="0.7" stroke-linejoin="round" clip-path="url(#cdw)">
<path d="M69.1 93.5l-0.7 0.1l-0.6-0.7l-0.2-1.3l0.1-1.5l0.5-1.5l0.7-1.4l1-1l0.7-0.2l0.5 0.5l0.3 0.6l0.1 1.3l-0.2 1.2l-0.9 2.6l-0.5 0.7l-0.8 0.6z" fill="#000" fill-opacity="0.14" stroke="none"/>
<path d="M68.6 95.4l-1-0.1l-0.7-1.2l-0.2-2l0.2-2.2l0.9-2.5l1.1-2l1.2-1.1l1-0.1l0.8 0.6l0.4 1.3l0.1 1.8l-0.3 2l-0.6 2l-0.9 1.7l-1 1.2l-1 0.6z" fill="#000" fill-opacity="0.14" stroke="none"/>
<path d="M68.1 96.9l-0.7-0.1l-0.5-0.3l-0.5-0.8l-0.3-0.8l-0.2-2.5l0.5-3l1-2.9l1.2-2.1l1.5-1.5l0.8-0.3l0.7 0.1l0.5 0.2l0.5 0.7l0.5 1.5l0.1 2.3l-0.4 2.7l-0.9 2.7l-1.2 2.1l-1.3 1.5l-1.3 0.5z" fill="#000" fill-opacity="0.14" stroke="none"/>
<path d="M96.9 46.2l-0.3-0.1l-0.2-0.5l0-1l0.5-1.1l0.7-0.5l0.3 0.1l0.2 0.5l-0.1 1l-0.4 1l-0.7 0.6zM68.4 97.9l-1 0.1l-0.8-0.3l-0.5-0.6l-0.5-1l-0.3-2.7l0.4-3.3l1-3.5l1.7-3l1.7-1.8l1-0.4l0.8 0l0.7 0.4l0.4 0.6l0.7 1.7l0.1 2.5l-0.4 3l-0.8 2.8l-1.2 2.6l-1.5 1.9l-1.5 1z" fill="#000" fill-opacity="0.14" stroke="none"/>
<path d="M96.6 47.7l-0.5-0.1l-0.5-0.7l-0.1-1l0.2-1.3l0.4-1.2l0.6-1l0.7-0.7l0.7-0.2l0.5 0.4l0.3 0.6l-0.1 2.1l-0.9 2.1l-0.7 0.7l-0.6 0.3zM68.4 98.7l-1 0.2l-0.8-0.2l-0.7-0.7l-0.5-0.9l-0.4-1.2l-0.1-1.8l0.3-3.7l1.2-3.9l1.7-3.3l1-1.3l1-0.8l1-0.5l1 0l0.8 0.3l0.5 0.6l0.6 1.9l0.2 2.7l-0.4 3.3l-0.9 3.2l-1.3 2.7l-1.5 2.1l-1.7 1.3z" fill="#000" fill-opacity="0.14" stroke="none"/>
<path d="M96.6 48.7l-0.9-0.1l-0.6-0.7l-0.2-1.3l0.2-1.7l0.5-1.8l0.8-1.4l1-1l1-0.3l0.7 0.5l0.3 0.7l0.1 1.3l-0.1 1.5l-0.5 1.5l-0.6 1.2l-0.9 1.1l-0.8 0.5zM67.6 99.7l-1-0.1l-0.7-0.5l-0.7-1l-0.5-1.2l-0.3-3.3l0.6-4l1.4-4l1.9-3.5l1.1-1.2l1-0.8l1-0.4l1 0l0.7 0.3l0.7 0.9l0.7 2.2l0.1 3.3l-0.6 3.7l-1.1 3.5l-1.6 3l-1.9 2.2l-1 0.6l-0.8 0.3z" fill="#000" fill-opacity="0.14" stroke="none"/>
<path d="M96.4 49.7l-1-0.1l-0.8-1.1l-0.2-1.6l0.2-2l0.7-2.3l1.1-1.7l1.2-1.2l1-0.2l0.8 0.5l0.5 1l0.1 1.6l-0.2 1.8l-0.6 2l-0.8 1.5l-1 1.2l-1 0.6zM67.6 100.4l-1 0l-1-0.5l-0.7-0.9l-0.5-1.2l-0.3-1.7l-0.1-1.7l0.6-4.5l1.4-4.5l2.1-3.8l1-1.2l1.3-1l1.2-0.6l1 0l0.8 0.3l0.7 0.8l0.5 1.1l0.3 1.4l0.2 3.5l-0.6 4l-1.2 3.7l-1.7 3.3l-2 2.4l-1 0.7l-1 0.4z" fill="#000" fill-opacity="0.14" stroke="none"/>
<path d="M96.4 50.4l-0.8 0.1l-0.5-0.1l-0.8-1l-0.4-2l0.3-2.5l0.8-2.5l1.1-2l1.5-1.4l1.3-0.3l0.9 0.7l0.5 1.2l0.2 1.8l-0.3 2l-0.6 2l-1 1.9l-1 1.2l-1.2 0.9zM67.6 101.2l-1.2 0l-1-0.5l-0.8-0.9l-0.6-1.4l-0.4-1.8l0-2l0.6-4.7l1.5-4.8l1.1-2.2l1.1-1.8l1.2-1.4l1.3-1.1l1.2-0.6l1.3-0.1l0.7 0.3l0.8 0.7l0.6 1.2l0.3 1.5l0.2 3.8l-0.6 4.2l-1.2 4l-1.8 3.7l-2 2.5l-1.3 1l-1 0.4z" fill="#000" fill-opacity="0.14" stroke="none"/>
<path d="M96.4 51.2l-0.8 0.1l-0.7-0.1l-0.5-0.4l-0.5-0.8l-0.4-2.1l0.2-2.8l0.9-2.8l1.4-2.4l1.6-1.6l0.8-0.3l0.7 0l1 0.6l0.6 1.3l0.2 2l-0.3 2.2l-0.7 2.5l-1 2l-1.3 1.7l-1.2 0.9zM67.6 101.9l-1.2 0.1l-1.1-0.4l-0.9-0.9l-0.8-1.6l-0.4-1.7l-0.1-2.3l0.2-2.5l0.5-2.7l0.8-2.8l1-2.7l1.2-2.3l1.3-2l1.3-1.4l1.5-1.2l1.2-0.5l1.3 0l0.8 0.4l0.7 0.8l0.5 1.2l0.4 1.7l0.1 4l-0.7 4.8l-1.3 4.2l-1.9 3.8l-2.1 2.6l-1.3 1l-1 0.4z" fill="#000" fill-opacity="0.14" stroke="none"/>
<path d="M95.6 52.1l-0.7 0l-0.8-0.4l-0.5-0.7l-0.3-0.9l-0.3-2.5l0.5-3l1-3l1.6-2.6l1.8-1.5l0.7-0.3l0.8 0l1 0.7l0.7 1.7l0.2 2.5l-0.5 2.8l-0.9 2.7l-1.3 2.2l-1.5 1.6l-1.5 0.7zM67.6 102.7l-1.2 0.2l-1.3-0.4l-1.1-1.1l-0.8-1.5l-0.4-2l-0.1-2.3l0.1-2.5l0.5-2.7l0.7-2.8l1.1-3l1.2-2.5l1.4-2.2l1.4-1.8l1.5-1.3l1.5-0.7l1.5-0.2l1 0.5l0.8 0.9l0.5 1.1l0.4 1.7l0.1 4.5l-0.7 5l-1.4 4.5l-1.9 4l-2.3 2.9l-1.2 1.1l-1.3 0.6z" fill="#000" fill-opacity="0.14" stroke="none"/>
<path d="M95.4 52.9l-0.8 0l-0.7-0.4l-0.7-0.9l-0.4-1l-0.2-2.7l0.5-3.5l1.2-3.3l1.7-2.7l1.9-1.6l1-0.3l0.7 0l0.8 0.4l0.5 0.6l0.7 1.9l0.1 2.5l-0.5 3l-1.1 3l-1.4 2.5l-1.6 1.7l-1 0.6l-0.7 0.2zM66.9 103.6l-1.5-0.1l-1.3-0.8l-0.9-1.3l-0.6-1.8l-0.4-2l0-2.5l0.3-2.7l0.7-3l0.9-3l1.1-3l1.3-2.5l1.4-2.1l1.5-1.8l1.7-1.4l1.5-0.6l1.5-0.1l1 0.5l0.8 0.9l0.5 1.3l0.4 2l0.1 2.5l-0.1 2.8l-0.9 5.5l-1.7 5l-2.3 4.2l-1.3 1.7l-1.2 1.1l-1.3 0.8l-1.2 0.4z" fill="#000" fill-opacity="0.14" stroke="none"/>
<path d="M95.4 53.7l-1 0l-0.8-0.3l-0.7-0.8l-0.4-1l-0.3-1.5l-0.1-1.7l0.6-3.8l1.3-3.7l1.9-3l1-1.1l1-0.7l1-0.4l1 0.1l0.7 0.4l0.5 0.5l0.5 1l0.4 1.2l0.1 2.7l-0.5 3.3l-1.2 3.2l-1.5 2.8l-1.8 1.9l-1.7 0.9zM67.1 104.4l-1.5 0.1l-1.5-0.7l-1.2-1.4l-0.7-1.8l-0.5-2.2l0-2.5l0.3-3l0.7-3.5l1-3.3l1.3-3.2l1.4-2.8l1.7-2.5l1.8-1.9l1.7-1.3l1.8-0.7l1.5 0l1 0.6l0.7 1l0.5 1.3l0.3 2l0.1 2.8l-0.2 3l-1 6l-1.6 5l-2.3 4.4l-1.3 1.7l-1.2 1.3l-1.5 1.1l-1.3 0.5z" fill="#000" fill-opacity="0.14" stroke="none"/>
<path d="M95.6 54.4l-1.2 0.2l-0.9-0.2l-0.9-0.8l-0.5-1l-0.3-1.5l-0.2-1.7l0.5-4l1.4-4.3l1.9-3.3l1-1.2l1.2-1l1.3-0.6l1 0l0.7 0.3l0.8 0.7l0.8 1.9l0.3 3l-0.4 3.5l-1.2 3.5l-1.5 3l-1.8 2.1l-2 1.4zM66.4 105.4l-1.5-0.2l-1.5-0.9l-1.2-1.7l-0.8-2.2l-0.2-2.5l0.1-2.8l0.5-3.5l0.9-3.7l1.1-3.3l1.4-3.2l1.7-2.9l1.7-2.4l1.8-1.7l2-1.4l2-0.7l1.5 0.1l1 0.6l0.5 0.9l0.5 1.6l0.2 2.4l-0.1 3.5l-0.3 3.5l-0.5 3.2l-0.7 3.3l-1.9 5.2l-1.3 2.5l-1.3 2l-1.4 1.8l-1.5 1.3l-1.5 0.9l-1.2 0.3z" fill="#000" fill-opacity="0.14" stroke="none"/>
<path d="M94.9 55.4l-1 0.1l-1.1-0.4l-0.7-0.7l-0.6-1.3l-0.3-1.7l0-2l0.6-4.5l1.5-4.3l2.1-3.5l1.2-1.4l1.3-0.9l1.2-0.5l1 0l0.9 0.3l0.7 0.8l0.6 1l0.4 1.2l0.2 3.3l-0.6 4l-1.3 3.7l-1.8 3.3l-2.1 2.3l-1.2 0.8l-1 0.4zM66.9 106.2l-1 0.1l-1-0.1l-1.6-0.8l-1.4-1.8l-1-2.5l-0.3-2.7l0.1-3l0.7-4.3l1.1-4l1.5-4l1.5-3.2l1.6-2.8l2-2.5l2.3-2l2.2-1.3l2.5-0.8l1.8 0.1l0.7 0.5l0.4 1.3l-0.2 6.5l-0.8 7.5l-1.5 6.2l-1.9 5l-2.5 4.3l-1.2 1.5l-1.5 1.4l-1.3 0.9l-1.2 0.5z" fill="#000" fill-opacity="0.14" stroke="none"/>
<path d="M94.4 56.2l-1 0l-1-0.4l-0.8-0.8l-0.5-1.4l-0.3-1.7l0-2.3l0.2-2.5l0.6-2.5l1.6-4.5l1.1-2l1.2-1.7l1.4-1.4l1.2-0.9l1.3-0.4l1 0l1 0.5l0.7 0.9l0.5 1l0.5 1.5l0.1 3.5l-0.7 4.3l-1.5 4l-2 3.2l-1.1 1.4l-1.3 1.1l-1.2 0.7l-1 0.4zM66.6 106.9l-1.2 0.1l-1-0.2l-1-0.5l-0.8-0.7l-0.8-1l-0.8-1.5l-0.8-3l0-3.2l0.5-4l1.2-5l1.6-4.5l1.5-3.3l1.5-2.7l1.8-2.5l1.8-2l3-2.3l5.2-2.7l3.6-2.9l0.7-0.3l0.8 0l0.5 0.7l-0.1 1.5l-0.7 1.3l-2 3.2l-1 2.7l-2 13.8l-1.1 4.2l-1.2 3.5l-2 4.3l-2.4 3.5l-2.3 2.2l-1.2 0.8l-1.3 0.5z" fill="#000" fill-opacity="0.14" stroke="none"/>
<path d="M69.1 93.5l-0.7 0.1l-0.6-0.7l-0.2-1.3l0.1-1.5l0.5-1.5l0.7-1.4l1-1l0.7-0.2l0.5 0.5l0.3 0.6l0.1 1.3l-0.2 1.2l-0.9 2.6l-0.5 0.7l-0.8 0.6M68.6 95.4l-1-0.1l-0.7-1.2l-0.2-2l0.2-2.2l0.9-2.5l1.1-2l1.2-1.1l1-0.1l0.8 0.6l0.4 1.3l0.1 1.8l-0.3 2l-0.6 2l-0.9 1.7l-1 1.2l-1 0.6M68.1 96.9l-0.7-0.1l-0.5-0.3l-0.5-0.8l-0.3-0.8l-0.2-2.5l0.5-3l1-2.9l1.2-2.1l1.5-1.5l0.8-0.3l0.7 0.1l0.5 0.2l0.5 0.7l0.5 1.5l0.1 2.3l-0.4 2.7l-0.9 2.7l-1.2 2.1l-1.3 1.5l-1.3 0.5M96.9 46.2l-0.3-0.1l-0.2-0.5l0-1l0.5-1.1l0.7-0.5l0.3 0.1l0.2 0.5l-0.1 1l-0.4 1l-0.7 0.6M68.4 97.9l-1 0.1l-0.8-0.3l-0.5-0.6l-0.5-1l-0.3-2.7l0.4-3.3l1-3.5l1.7-3l1.7-1.8l1-0.4l0.8 0l0.7 0.4l0.4 0.6l0.7 1.7l0.1 2.5l-0.4 3l-0.8 2.8l-1.2 2.6l-1.5 1.9l-1.5 1M96.6 47.7l-0.5-0.1l-0.5-0.7l-0.1-1l0.2-1.3l0.4-1.2l0.6-1l0.7-0.7l0.7-0.2l0.5 0.4l0.3 0.6l-0.1 2.1l-0.9 2.1l-0.7 0.7l-0.6 0.3M68.4 98.7l-1 0.2l-0.8-0.2l-0.7-0.7l-0.5-0.9l-0.4-1.2l-0.1-1.8l0.3-3.7l1.2-3.9l1.7-3.3l1-1.3l1-0.8l1-0.5l1 0l0.8 0.3l0.5 0.6l0.6 1.9l0.2 2.7l-0.4 3.3l-0.9 3.2l-1.3 2.7l-1.5 2.1l-1.7 1.3M96.6 48.7l-0.9-0.1l-0.6-0.7l-0.2-1.3l0.2-1.7l0.5-1.8l0.8-1.4l1-1l1-0.3l0.7 0.5l0.3 0.7l0.1 1.3l-0.1 1.5l-0.5 1.5l-0.6 1.2l-0.9 1.1l-0.8 0.5M67.6 99.7l-1-0.1l-0.7-0.5l-0.7-1l-0.5-1.2l-0.3-3.3l0.6-4l1.4-4l1.9-3.5l1.1-1.2l1-0.8l1-0.4l1 0l0.7 0.3l0.7 0.9l0.7 2.2l0.1 3.3l-0.6 3.7l-1.1 3.5l-1.6 3l-1.9 2.2l-1 0.6l-0.8 0.3M96.4 49.7l-1-0.1l-0.8-1.1l-0.2-1.6l0.2-2l0.7-2.3l1.1-1.7l1.2-1.2l1-0.2l0.8 0.5l0.5 1l0.1 1.6l-0.2 1.8l-0.6 2l-0.8 1.5l-1 1.2l-1 0.6M67.6 100.4l-1 0l-1-0.5l-0.7-0.9l-0.5-1.2l-0.3-1.7l-0.1-1.7l0.6-4.5l1.4-4.5l2.1-3.8l1-1.2l1.3-1l1.2-0.6l1 0l0.8 0.3l0.7 0.8l0.5 1.1l0.3 1.4l0.2 3.5l-0.6 4l-1.2 3.7l-1.7 3.3l-2 2.4l-1 0.7l-1 0.4M96.4 50.4l-0.8 0.1l-0.5-0.1l-0.8-1l-0.4-2l0.3-2.5l0.8-2.5l1.1-2l1.5-1.4l1.3-0.3l0.9 0.7l0.5 1.2l0.2 1.8l-0.3 2l-0.6 2l-1 1.9l-1 1.2l-1.2 0.9M67.6 101.2l-1.2 0l-1-0.5l-0.8-0.9l-0.6-1.4l-0.4-1.8l0-2l0.6-4.7l1.5-4.8l1.1-2.2l1.1-1.8l1.2-1.4l1.3-1.1l1.2-0.6l1.3-0.1l0.7 0.3l0.8 0.7l0.6 1.2l0.3 1.5l0.2 3.8l-0.6 4.2l-1.2 4l-1.8 3.7l-2 2.5l-1.3 1l-1 0.4M96.4 51.2l-0.8 0.1l-0.7-0.1l-0.5-0.4l-0.5-0.8l-0.4-2.1l0.2-2.8l0.9-2.8l1.4-2.4l1.6-1.6l0.8-0.3l0.7 0l1 0.6l0.6 1.3l0.2 2l-0.3 2.2l-0.7 2.5l-1 2l-1.3 1.7l-1.2 0.9M67.6 101.9l-1.2 0.1l-1.1-0.4l-0.9-0.9l-0.8-1.6l-0.4-1.7l-0.1-2.3l0.2-2.5l0.5-2.7l0.8-2.8l1-2.7l1.2-2.3l1.3-2l1.3-1.4l1.5-1.2l1.2-0.5l1.3 0l0.8 0.4l0.7 0.8l0.5 1.2l0.4 1.7l0.1 4l-0.7 4.8l-1.3 4.2l-1.9 3.8l-2.1 2.6l-1.3 1l-1 0.4M95.6 52.1l-0.7 0l-0.8-0.4l-0.5-0.7l-0.3-0.9l-0.3-2.5l0.5-3l1-3l1.6-2.6l1.8-1.5l0.7-0.3l0.8 0l1 0.7l0.7 1.7l0.2 2.5l-0.5 2.8l-0.9 2.7l-1.3 2.2l-1.5 1.6l-1.5 0.7M67.6 102.7l-1.2 0.2l-1.3-0.4l-1.1-1.1l-0.8-1.5l-0.4-2l-0.1-2.3l0.1-2.5l0.5-2.7l0.7-2.8l1.1-3l1.2-2.5l1.4-2.2l1.4-1.8l1.5-1.3l1.5-0.7l1.5-0.2l1 0.5l0.8 0.9l0.5 1.1l0.4 1.7l0.1 4.5l-0.7 5l-1.4 4.5l-1.9 4l-2.3 2.9l-1.2 1.1l-1.3 0.6M95.4 52.9l-0.8 0l-0.7-0.4l-0.7-0.9l-0.4-1l-0.2-2.7l0.5-3.5l1.2-3.3l1.7-2.7l1.9-1.6l1-0.3l0.7 0l0.8 0.4l0.5 0.6l0.7 1.9l0.1 2.5l-0.5 3l-1.1 3l-1.4 2.5l-1.6 1.7l-1 0.6l-0.7 0.2M66.9 103.6l-1.5-0.1l-1.3-0.8l-0.9-1.3l-0.6-1.8l-0.4-2l0-2.5l0.3-2.7l0.7-3l0.9-3l1.1-3l1.3-2.5l1.4-2.1l1.5-1.8l1.7-1.4l1.5-0.6l1.5-0.1l1 0.5l0.8 0.9l0.5 1.3l0.4 2l0.1 2.5l-0.1 2.8l-0.9 5.5l-1.7 5l-2.3 4.2l-1.3 1.7l-1.2 1.1l-1.3 0.8l-1.2 0.4M95.4 53.7l-1 0l-0.8-0.3l-0.7-0.8l-0.4-1l-0.3-1.5l-0.1-1.7l0.6-3.8l1.3-3.7l1.9-3l1-1.1l1-0.7l1-0.4l1 0.1l0.7 0.4l0.5 0.5l0.5 1l0.4 1.2l0.1 2.7l-0.5 3.3l-1.2 3.2l-1.5 2.8l-1.8 1.9l-1.7 0.9M67.1 104.4l-1.5 0.1l-1.5-0.7l-1.2-1.4l-0.7-1.8l-0.5-2.2l0-2.5l0.3-3l0.7-3.5l1-3.3l1.3-3.2l1.4-2.8l1.7-2.5l1.8-1.9l1.7-1.3l1.8-0.7l1.5 0l1 0.6l0.7 1l0.5 1.3l0.3 2l0.1 2.8l-0.2 3l-1 6l-1.6 5l-2.3 4.4l-1.3 1.7l-1.2 1.3l-1.5 1.1l-1.3 0.5M95.6 54.4l-1.2 0.2l-0.9-0.2l-0.9-0.8l-0.5-1l-0.3-1.5l-0.2-1.7l0.5-4l1.4-4.3l1.9-3.3l1-1.2l1.2-1l1.3-0.6l1 0l0.7 0.3l0.8 0.7l0.8 1.9l0.3 3l-0.4 3.5l-1.2 3.5l-1.5 3l-1.8 2.1l-2 1.4M66.4 105.4l-1.5-0.2l-1.5-0.9l-1.2-1.7l-0.8-2.2l-0.2-2.5l0.1-2.8l0.5-3.5l0.9-3.7l1.1-3.3l1.4-3.2l1.7-2.9l1.7-2.4l1.8-1.7l2-1.4l2-0.7l1.5 0.1l1 0.6l0.5 0.9l0.5 1.6l0.2 2.4l-0.1 3.5l-0.3 3.5l-0.5 3.2l-0.7 3.3l-1.9 5.2l-1.3 2.5l-1.3 2l-1.4 1.8l-1.5 1.3l-1.5 0.9l-1.2 0.3M94.9 55.4l-1 0.1l-1.1-0.4l-0.7-0.7l-0.6-1.3l-0.3-1.7l0-2l0.6-4.5l1.5-4.3l2.1-3.5l1.2-1.4l1.3-0.9l1.2-0.5l1 0l0.9 0.3l0.7 0.8l0.6 1l0.4 1.2l0.2 3.3l-0.6 4l-1.3 3.7l-1.8 3.3l-2.1 2.3l-1.2 0.8l-1 0.4M66.9 106.2l-1 0.1l-1-0.1l-1.6-0.8l-1.4-1.8l-1-2.5l-0.3-2.7l0.1-3l0.7-4.3l1.1-4l1.5-4l1.5-3.2l1.6-2.8l2-2.5l2.3-2l2.2-1.3l2.5-0.8l1.8 0.1l0.7 0.5l0.4 1.3l-0.2 6.5l-0.8 7.5l-1.5 6.2l-1.9 5l-2.5 4.3l-1.2 1.5l-1.5 1.4l-1.3 0.9l-1.2 0.5M94.4 56.2l-1 0l-1-0.4l-0.8-0.8l-0.5-1.4l-0.3-1.7l0-2.3l0.2-2.5l0.6-2.5l1.6-4.5l1.1-2l1.2-1.7l1.4-1.4l1.2-0.9l1.3-0.4l1 0l1 0.5l0.7 0.9l0.5 1l0.5 1.5l0.1 3.5l-0.7 4.3l-1.5 4l-2 3.2l-1.1 1.4l-1.3 1.1l-1.2 0.7l-1 0.4M66.6 106.9l-1.2 0.1l-1-0.2l-1-0.5l-0.8-0.7l-0.8-1l-0.8-1.5l-0.8-3l0-3.2l0.5-4l1.2-5l1.6-4.5l1.5-3.3l1.5-2.7l1.8-2.5l1.8-2l3-2.3l5.2-2.7l3.6-2.9l0.7-0.3l0.8 0l0.5 0.7l-0.1 1.5l-0.7 1.3l-2 3.2l-1 2.7l-2 13.8l-1.1 4.2l-1.2 3.5l-2 4.3l-2.4 3.5l-2.3 2.2l-1.2 0.8l-1.3 0.5M93.9 56.9l-1.3 0l-1-0.5l-0.7-1l-0.4-1.3l-0.2-2.2l0.1-2.5l0.4-2.8l0.7-2.7l1.7-4.5l1.2-2l1.2-1.7l1.3-1.3l1.2-0.8l1.3-0.4l1.2 0l1 0.5l0.8 0.9l0.6 1.3l0.4 1.5l0.1 3.7l-0.8 4.5l-1.7 4.3l-2.1 3.5l-1.3 1.4l-1.2 1l-1.3 0.7l-1.2 0.4M65.9 107.6l-1.3 0l-1-0.4l-1.7-1.5l-0.8-1.1l-0.7-1.5l-0.7-3l0.1-3.5l0.7-4.2l1.3-5l1.7-5l1.4-3l1.7-2.9l1.8-2.4l2-2.2l2-1.7l4.7-3.3l4.8-4.3l1.7-0.8l0.8-0.1l0.7 0.2l0.8 0.7l0.3 0.8l0 1.2l-0.2 1.3l-0.9 2.2l-3.2 4.6l-1.2 2.7l-0.8 3l-1.7 10.5l-1.2 4.2l-1.2 3.5l-2.3 4.5l-2.4 3.3l-1.2 1.2l-1.5 1.2l-1.3 0.6l-1.2 0.2M93.4 57.9l-1.5 0.1l-1-0.3l-0.6-0.6l-0.4-1.2l-0.2-2.5l0.2-3l0.4-3l0.7-3.3l1-2.7l1-2.3l1.3-2.2l1.3-1.8l1.3-1.2l1.5-1l1.2-0.4l1.3 0.1l1 0.6l0.8 0.9l0.7 1.5l0.4 1.8l0.1 2l-0.1 2.2l-1 4.5l-1.7 4.3l-2.2 3.6l-1.3 1.4l-1.5 1.2l-1.5 0.9l-1.2 0.4M66.1 108.4l-1.2 0l-1-0.2l-1.3-0.7l-0.9-0.9l-1-1.2l-0.7-1.5l-0.8-3.3l0-3.5l0.8-4.5l1.5-5.7l1.9-5.3l1.6-3.2l1.9-3.2l2-2.6l2.2-2.3l4.7-3.9l4.3-4.4l1.8-1.4l1.2-0.7l1.3-0.4l1.2 0l1.3 0.3l0.7 0.6l0.4 1.2l0 1.8l-0.4 2l-1.5 3.4l-3.7 5.3l-1.3 2.5l-0.7 2.8l-2.1 10.7l-1 3.5l-1.3 3.5l-2.2 4.3l-2.5 3.5l-1.4 1.5l-1.3 0.9l-1.2 0.7l-1.3 0.4M66.1 109.2l-1.2 0.1l-1.3-0.3l-1.2-0.7l-1.1-0.9l-1.1-1.5l-0.9-1.8l-0.6-1.7l-0.2-1.8l0.1-3.5l1.1-5.2l1.8-6.3l2.2-5.5l2.4-4.5l2.5-3.6l2-2.2l4.7-4.4l4.3-4.6l1.5-1.4l1.5-0.9l1.5-0.7l2.8-0.7l1-0.7l0.8-1.8l1-6.5l0.8-3.5l1.3-3.7l1.4-3l2.1-3l2.1-2l2-1l1-0.1l1 0.3l1.1 0.8l0.9 1.5l0.6 2l0.2 2.5l-0.1 2.7l-0.5 2.8l-0.9 3l-1 2.5l-1.9 3.5l-2.4 2.8l-2.3 1.8l-3.8 1.9l-1 1l-1.8 5.2l-1 2.3l-1.4 2.3l-3.2 4.4l-1.3 2.4l-0.8 2.9l-1.6 7.5l-0.9 3.7l-1.3 4l-1.8 4l-2.1 3.7l-2.2 2.8l-2.5 2.1l-2.3 1M66.4 110.2l-1.5 0.2l-1.3-0.2l-1.2-0.5l-1.4-1.1l-1.2-1.5l-1.2-2l-0.8-2l-0.3-1.7l0-3l1-4.5l2.5-8.5l2.3-5.8l2.2-4.2l2.6-4l10-11.3l3.3-3l1.7-1l3-1.4l1.1-1.1l0.9-1.9l1.7-6.6l1.2-3.7l1.8-3.8l2-3l1.8-1.9l1.8-1.2l1.7-0.5l1.5 0.2l1.3 0.9l0.9 1.5l0.6 2l0.3 2.5l-0.1 2.8l-0.4 2.7l-0.8 3l-1.2 3.3l-1.7 3.2l-2.1 3l-2 1.9l-3.5 2.7l-1.1 1.2l-0.7 1.2l-1.8 4.3l-1.2 2.5l-5.3 7.5l-1.4 3.7l-1.9 8.3l-1.5 5l-1.8 4.5l-2 3.7l-1.8 2.8l-2 2.2l-2 1.6l-2 1M65.9 111.7l-1.5 0.1l-1.5-0.2l-1.3-0.7l-1.3-1l-1.5-1.8l-1.8-2.5l-0.9-2l-0.5-1.7l0.1-2l0.6-2.5l4.4-13.3l2.1-5.2l2.2-4.5l2.6-4l9.5-11.9l3.5-3.6l1.8-1.2l3-1.7l1.2-1.2l1-2l2.2-6.2l1.2-3l1.7-3.2l1.9-2.7l2-2.1l2-1.3l1.8-0.5l1.7 0.3l1.3 1l1 1.8l0.7 2.2l0.2 2.8l-0.1 2.7l-0.5 3.3l-0.9 3.5l-1.3 3.2l-1.6 3l-1.8 2.7l-1.7 2l-3.1 3.1l-1.2 1.5l-4.1 8l-4.4 6.2l-1.2 2l-1.3 3.2l-2.1 8.1l-1.5 4.7l-2 4.8l-2 3.7l-2 3l-2.1 2.4l-2.3 1.7l-2.2 1M64.4 113.9l-1.3-0.1l-1.2-0.4l-2.3-1.4l-6.7-6.4l-0.8-1.2l-0.4-1.5l0.2-1.5l0.4-1.5l3.3-5.8l1.3-2.5l5.4-14.2l1.9-4l2.5-4.3l9.4-13.4l4-4.5l1.8-1.5l3.2-2.2l1.5-1.7l4.6-8.9l1.6-2.5l1.5-2l2.1-2.1l2.2-1.5l2-0.6l1 0.1l1 0.3l1.5 1.2l1.1 1.8l0.7 2.5l0.3 3l-0.2 3.3l-0.5 3.5l-1 3.7l-1.5 3.8l-1.3 2.5l-1.5 2.5l-5.6 7.2l-4.3 8.5l-5.9 8.7l-1.5 3.6l-2.4 8l-1.7 4.7l-1.9 4.3l-2.2 4l-2.5 3.5l-2.6 2.6l-2.7 1.8l-1.3 0.4l-1.2 0.2M64.9 117.2l-2.3 0.1l-2-0.6l-1.7-1l-3.8-2.8l-5-2.2l-1.8-1.3l-1.3-1.8l-0.6-2.2l0.1-2.5l0.8-2.8l0.9-1.7l1.2-1.8l4.5-5.1l1.7-2.6l1.5-3.2l3.9-10.1l3-6.5l7.8-13.7l2.8-4.5l2.6-3.8l3.9-4.6l2.3-2.1l4.5-3.7l5.3-6.1l2.7-2.6l2-1.4l2-0.8l1.7-0.2l1.5 0.3l1.8 1.2l1.3 2l0.9 2.8l0.4 3.5l-0.1 3.7l-0.6 4.5l-1.1 4l-1.4 4l-2.6 5l-4.8 7.8l-4.6 9.2l-5.2 8l-1.5 2.7l-1.5 3.4l-4.4 11.7l-1.7 3.7l-2.1 3.8l-2.7 4l-2.8 3.1l-2.8 2l-2.7 1.2M65.6 110.6l-1.5 0l-1.2-0.3l-1.3-0.7l-1.2-1.2l-1.3-1.8l-1.1-2l-0.6-1.7l-0.3-1.8l0.2-3l1-4.2l2.6-8.8l2.3-5.7l2.3-4.5l2.5-3.8l9.9-11.3l3.2-3.1l1.8-1.1l3-1.5l1.2-1.2l0.9-2l1.7-6.3l1.3-3.5l1.8-3.7l2-3l1.8-2l1.8-1.2l1.7-0.5l1 0.1l0.8 0.2l1.2 1.1l0.9 1.5l0.6 2l0.2 2.8l-0.1 2.7l-0.5 3l-0.9 3.3l-1.1 2.7l-1.7 3.3l-1.9 2.6l-2 2.1l-3.3 2.8l-1.2 1.2l-0.7 1.3l-1.9 4.5l-1.2 2.2l-5.4 7.8l-1.3 3.3l-2.1 8.7l-1.3 4.2l-1.7 4.5l-2.2 4.3l-2.1 3l-2.1 2.3l-2.2 1.6l-2.3 0.8M65.1 111.9l-1.5-0.1l-1.2-0.4l-1.3-0.7l-1.2-1.1l-1.8-2.2l-1.6-2.5l-0.7-1.8l-0.3-1.5l0.1-1.7l0.6-2.5l4.5-13.5l2-5l2.3-4.5l2.5-4l9.4-11.8l2-2.2l1.7-1.6l1.8-1.3l3-1.7l1.2-1.2l1-2l2.1-6l1.3-3l1.7-3.2l1.9-2.8l2-2.1l2-1.3l1.8-0.4l1.7 0.3l1.3 1l1.1 1.8l0.6 2.2l0.3 2.8l-0.2 3l-0.5 3.2l-0.9 3.3l-1.3 3.2l-1.5 3l-1.7 2.5l-1.9 2.3l-3 3l-1.2 1.5l-4.2 8.2l-4.4 6.1l-1.1 1.9l-1.4 3.3l-2.1 8.2l-1.6 4.8l-1.8 4.5l-2.2 4l-2.3 3.2l-2.2 2.4l-2.5 1.7l-2.3 0.7M65.6 112.9l-1.5 0.2l-1.2-0.2l-1.5-0.7l-1.3-0.9l-1.7-1.7l-3.9-4.5l-0.7-1.2l-0.4-1.5l0.1-1.5l0.4-1.5l3.5-7.6l3.1-8.9l1.8-4.5l2.2-4.5l2.6-4.3l9.3-12.6l2-2.3l2-2l1.7-1.4l3-1.9l1.3-1.3l1-1.7l3.8-8.5l1.6-2.8l1.6-2.1l2.2-2.3l2-1.3l2-0.6l1.8 0.4l1.2 0.9l1.2 1.8l0.7 2.2l0.3 3l-0.1 3l-0.5 3.5l-1 3.8l-1.2 3.2l-1.5 3l-1.6 2.6l-5.9 7.2l-4.2 8.2l-4.7 6.7l-1.2 2.1l-1.3 3l-2.3 8.2l-1.5 4.5l-1.8 4.3l-2 3.7l-2.2 3.3l-2.4 2.7l-2.5 1.9l-2.3 0.9M64.9 114.1l-2.3-0.1l-2-0.9l-1.5-1.2l-3.2-3.1l-3.5-2.9l-0.9-1.3l-0.3-1.5l0.1-1.5l0.5-1.7l0.9-1.8l2.7-4.1l1.2-2.4l4.6-12.2l2.8-6l3.4-5.8l6.9-10l2.8-3.7l2.5-2.8l2.3-2l3.2-2.4l1.3-1.3l1.2-1.9l4.2-7.9l1.7-2.5l1.7-2l1.9-1.6l2-1.2l1.8-0.3l1.7 0.3l1.5 1.2l1.2 1.9l0.7 2.5l0.3 3l-0.1 3.2l-0.7 4l-1 3.8l-1.3 3.2l-1.2 2.5l-1.6 2.8l-5.5 7.2l-4.4 8.5l-4.9 7.1l-1.2 2.1l-1.3 3l-2.6 8.6l-1.5 4.2l-2 4.5l-1.9 3.5l-2.6 3.8l-2.6 2.7l-2.5 1.7l-2.5 0.8M64.9 115.2l-2.3-0.1l-2-0.7l-1.5-1.1l-3.5-3l-3.7-2.2l-1.2-1l-0.9-1.2l-0.5-1.8l0.1-2l0.6-2l1.3-2.2l3.3-4.5l1.8-2.9l4.8-12.6l3.6-7.3l4.2-7l6.8-10.2l2.3-3l2.3-2.4l5-4.2l1.2-1.2l5.6-8.7l3.2-3.8l2-1.6l2-1l1.7-0.4l1.8 0.4l1.5 1.2l1.2 1.9l0.8 2.8l0.3 3l-0.1 3.7l-0.6 3.8l-1 3.7l-1.4 3.8l-2.9 5.2l-5.2 7.5l-4.8 9.3l-4.6 6.7l-1.2 2.1l-1.5 3.6l-2.4 7.3l-1.8 4.8l-2 4.5l-1.9 3.5l-2.6 3.7l-2.6 2.7l-2.7 2l-2.5 0.9M64.9 116.2l-2.3 0l-2-0.6l-1.5-1l-3.7-3l-4.3-2l-1.6-1.2l-1.1-1.5l-0.6-2l0-2.3l0.8-2.5l1.7-3l3.8-4.5l1.5-2.3l1.5-3.1l4.2-10.8l2.7-5.8l7.5-12.7l5.1-7.8l4.3-5l6.5-5.7l5.4-7.3l2.8-3.1l2-1.5l1.8-0.8l1.7-0.4l1.8 0.3l1 0.6l0.7 0.7l1.3 2l0.9 2.7l0.3 3.3l-0.1 3.7l-0.5 3.8l-1.1 4l-1.4 4l-2.7 5.2l-5.2 7.8l-4.6 9.2l-6.1 9.4l-1.5 3.4l-4.4 12.2l-1.7 3.8l-2 3.7l-2.7 3.9l-2.7 3l-2.8 2.1l-2.7 1.1"/>
</g>
<path fill="#000" d="M63.4 66.6h1.0v1.0h-1.0zM56.1 69.6h1.0v1.0h-1.0zM56.7 81.5h1.0v1.0h-1.0zM58.1 59.2h1.0v1.0h-1.0zM93.4 102.8h1.0v1.0h-1.0zM93.9 101.0h1.0v1.0h-1.0zM66.8 55.2h1.0v1.0h-1.0zM77.5 40.7h1.0v1.0h-1.0zM56.0 64.2h1.0v1.0h-1.0zM56.6 70.2h1.0v1.0h-1.0zM87.8 23.4h1.0v1.0h-1.0zM75.5 40.7h1.0v1.0h-1.0zM51.5 48.2h1.0v1.0h-1.0zM53.7 83.0h1.0v1.0h-1.0zM95.5 112.5h1.0v1.0h-1.0zM60.0 60.6h1.0v1.0h-1.0zM57.1 44.0h1.0v1.0h-1.0zM48.1 93.5h1.0v1.0h-1.0zM75.4 30.5h1.0v1.0h-1.0zM41.7 97.6h1.0v1.0h-1.0zM68.4 59.6h1.0v1.0h-1.0zM41.2 105.0h1.0v1.0h-1.0zM60.2 69.2h1.0v1.0h-1.0zM59.4 58.8h1.0v1.0h-1.0zM59.8 47.0h1.0v1.0h-1.0zM87.4 101.3h1.0v1.0h-1.0zM63.9 58.4h1.0v1.0h-1.0zM45.9 112.9h1.0v1.0h-1.0zM50.3 93.8h1.0v1.0h-1.0zM42.6 111.9h1.0v1.0h-1.0zM58.7 60.0h1.0v1.0h-1.0zM72.5 51.1h1.0v1.0h-1.0zM89.0 98.7h1.0v1.0h-1.0zM64.6 64.3h1.0v1.0h-1.0zM45.0 66.7h1.0v1.0h-1.0zM78.7 33.9h1.0v1.0h-1.0zM73.8 36.8h1.0v1.0h-1.0zM50.2 76.1h1.0v1.0h-1.0zM45.8 90.6h1.0v1.0h-1.0zM57.4 73.9h1.0v1.0h-1.0zM51.2 79.1h1.0v1.0h-1.0zM95.5 105.6h1.0v1.0h-1.0zM56.6 81.7h1.0v1.0h-1.0zM53.8 112.7h1.0v1.0h-1.0zM46.8 77.4h1.0v1.0h-1.0zM38.9 116.0h1.0v1.0h-1.0zM88.8 111.5h1.0v1.0h-1.0zM75.1 25.2h1.0v1.0h-1.0zM59.6 47.4h1.0v1.0h-1.0zM52.5 57.6h1.0v1.0h-1.0zM49.2 112.0h1.0v1.0h-1.0zM72.0 48.1h1.0v1.0h-1.0zM55.0 82.8h1.0v1.0h-1.0zM58.8 43.5h1.0v1.0h-1.0zM62.5 49.6h1.0v1.0h-1.0zM87.0 84.1h1.0v1.0h-1.0zM43.8 109.0h1.0v1.0h-1.0zM101.9 97.0h1.0v1.0h-1.0zM94.4 108.5h1.0v1.0h-1.0zM56.5 67.1h1.0v1.0h-1.0zM61.2 60.0h1.0v1.0h-1.0zM58.1 73.3h1.0v1.0h-1.0zM45.9 70.2h1.0v1.0h-1.0zM59.8 69.7h1.0v1.0h-1.0zM54.3 62.3h1.0v1.0h-1.0zM44.1 97.7h1.0v1.0h-1.0zM51.1 76.9h1.0v1.0h-1.0zM57.5 60.3h1.0v1.0h-1.0zM80.7 39.2h1.0v1.0h-1.0zM64.3 58.2h1.0v1.0h-1.0zM63.4 59.9h1.0v1.0h-1.0zM66.5 61.5h1.0v1.0h-1.0zM42.1 70.8h1.0v1.0h-1.0zM52.5 74.0h1.0v1.0h-1.0zM61.0 41.9h1.0v1.0h-1.0zM51.5 73.1h1.0v1.0h-1.0zM45.3 89.6h1.0v1.0h-1.0zM57.8 80.7h1.0v1.0h-1.0zM65.3 48.7h1.0v1.0h-1.0zM92.1 105.8h1.0v1.0h-1.0zM66.6 55.3h1.0v1.0h-1.0zM77.7 115.8h1.0v1.0h-1.0zM60.5 67.6h1.0v1.0h-1.0zM43.9 100.8h1.0v1.0h-1.0zM63.5 66.2h1.0v1.0h-1.0zM53.7 87.8h1.0v1.0h-1.0zM110.1 99.3h1.0v1.0h-1.0zM46.0 99.4h1.0v1.0h-1.0zM41.9 102.7h1.0v1.0h-1.0zM68.1 40.7h1.0v1.0h-1.0zM74.5 48.2h1.0v1.0h-1.0zM43.8 102.5h1.0v1.0h-1.0zM49.9 92.6h1.0v1.0h-1.0zM64.5 47.1h1.0v1.0h-1.0zM46.0 83.3h1.0v1.0h-1.0zM55.7 71.4h1.0v1.0h-1.0zM56.4 118.2h1.0v1.0h-1.0zM57.5 75.3h1.0v1.0h-1.0zM46.7 63.2h1.0v1.0h-1.0zM95.6 115.9h1.0v1.0h-1.0zM96.1 103.7h1.0v1.0h-1.0zM57.3 80.5h1.0v1.0h-1.0zM42.7 114.7h1.0v1.0h-1.0zM71.6 44.5h1.0v1.0h-1.0zM57.4 73.8h1.0v1.0h-1.0zM48.6 79.3h1.0v1.0h-1.0zM78.7 28.5h1.0v1.0h-1.0zM73.7 35.1h1.0v1.0h-1.0zM49.5 76.9h1.0v1.0h-1.0zM49.6 79.1h1.0v1.0h-1.0zM74.3 49.1h1.0v1.0h-1.0zM66.9 62.0h1.0v1.0h-1.0zM61.6 63.7h1.0v1.0h-1.0zM55.1 72.8h1.0v1.0h-1.0zM70.1 54.1h1.0v1.0h-1.0zM70.0 52.7h1.0v1.0h-1.0zM53.0 61.4h1.0v1.0h-1.0zM56.5 69.4h1.0v1.0h-1.0zM56.3 59.8h1.0v1.0h-1.0zM64.8 52.4h1.0v1.0h-1.0zM76.6 39.3h1.0v1.0h-1.0zM75.9 43.4h1.0v1.0h-1.0zM51.4 26.5h1.0v1.0h-1.0zM77.1 41.4h1.0v1.0h-1.0zM56.2 82.3h1.0v1.0h-1.0zM45.8 101.6h1.0v1.0h-1.0zM58.8 56.9h1.0v1.0h-1.0zM69.7 56.5h1.0v1.0h-1.0zM52.8 116.3h1.0v1.0h-1.0zM47.4 74.9h1.0v1.0h-1.0zM53.8 71.5h1.0v1.0h-1.0zM73.4 40.3h1.0v1.0h-1.0zM54.9 113.0h1.0v1.0h-1.0zM69.1 41.7h1.0v1.0h-1.0zM49.5 111.3h1.0v1.0h-1.0zM45.0 90.1h1.0v1.0h-1.0zM89.4 108.4h1.0v1.0h-1.0zM80.4 28.2h1.0v1.0h-1.0zM90.9 110.7h1.0v1.0h-1.0zM44.2 88.7h1.0v1.0h-1.0zM61.5 62.0h1.0v1.0h-1.0zM54.8 75.8h1.0v1.0h-1.0zM43.2 95.4h1.0v1.0h-1.0zM50.4 86.9h1.0v1.0h-1.0zM83.7 108.4h1.0v1.0h-1.0zM44.0 87.2h1.0v1.0h-1.0zM56.2 75.8h1.0v1.0h-1.0zM48.4 118.7h1.0v1.0h-1.0zM103.6 93.4h1.0v1.0h-1.0zM61.9 71.0h1.0v1.0h-1.0zM59.7 50.6h1.0v1.0h-1.0zM86.9 105.7h1.0v1.0h-1.0zM50.9 88.7h1.0v1.0h-1.0zM46.8 97.7h1.0v1.0h-1.0zM62.5 62.7h1.0v1.0h-1.0zM53.9 75.3h1.0v1.0h-1.0zM58.5 72.9h1.0v1.0h-1.0zM41.7 94.3h1.0v1.0h-1.0zM47.5 93.2h1.0v1.0h-1.0zM91.1 29.4h1.0v1.0h-1.0zM67.7 58.1h1.0v1.0h-1.0zM68.3 52.4h1.0v1.0h-1.0zM51.9 84.6h1.0v1.0h-1.0zM56.1 68.8h1.0v1.0h-1.0zM54.9 82.3h1.0v1.0h-1.0zM55.6 86.8h1.0v1.0h-1.0zM56.5 47.6h1.0v1.0h-1.0zM86.1 113.9h1.0v1.0h-1.0zM56.5 50.6h1.0v1.0h-1.0zM46.1 84.1h1.0v1.0h-1.0zM57.7 70.5h1.0v1.0h-1.0zM56.7 50.7h1.0v1.0h-1.0zM68.0 41.7h1.0v1.0h-1.0zM43.5 70.7h1.0v1.0h-1.0zM51.2 81.1h1.0v1.0h-1.0zM63.1 39.1h1.0v1.0h-1.0zM40.7 80.3h1.0v1.0h-1.0zM89.8 97.7h1.0v1.0h-1.0zM52.2 73.0h1.0v1.0h-1.0zM73.1 51.5h1.0v1.0h-1.0zM47.9 75.4h1.0v1.0h-1.0zM74.9 45.3h1.0v1.0h-1.0zM40.9 105.6h1.0v1.0h-1.0zM67.3 47.3h1.0v1.0h-1.0zM59.3 48.6h1.0v1.0h-1.0zM52.6 113.6h1.0v1.0h-1.0zM65.2 56.2h1.0v1.0h-1.0zM56.6 83.3h1.0v1.0h-1.0zM55.3 81.5h1.0v1.0h-1.0zM64.1 50.4h1.0v1.0h-1.0zM41.7 88.7h1.0v1.0h-1.0zM49.9 88.3h1.0v1.0h-1.0zM83.6 104.6h1.0v1.0h-1.0zM48.4 58.3h1.0v1.0h-1.0zM52.6 74.7h1.0v1.0h-1.0zM60.5 68.3h1.0v1.0h-1.0zM50.5 91.8h1.0v1.0h-1.0zM69.8 31.1h1.0v1.0h-1.0zM65.0 64.5h1.0v1.0h-1.0zM85.6 101.1h1.0v1.0h-1.0zM97.0 96.9h1.0v1.0h-1.0zM49.7 92.4h1.0v1.0h-1.0zM68.8 41.4h1.0v1.0h-1.0zM49.2 86.5h1.0v1.0h-1.0zM47.7 87.9h1.0v1.0h-1.0zM95.9 112.0h1.0v1.0h-1.0zM90.7 114.9h1.0v1.0h-1.0zM84.5 115.1h1.0v1.0h-1.0zM63.4 48.8h1.0v1.0h-1.0zM48.9 93.3h1.0v1.0h-1.0zM52.9 90.5h1.0v1.0h-1.0zM46.4 85.5h1.0v1.0h-1.0zM67.3 53.1h1.0v1.0h-1.0zM95.9 100.8h1.0v1.0h-1.0zM80.7 103.9h1.0v1.0h-1.0zM41.9 95.2h1.0v1.0h-1.0zM56.3 71.1h1.0v1.0h-1.0zM61.4 69.6h1.0v1.0h-1.0zM65.0 53.9h1.0v1.0h-1.0zM52.4 73.4h1.0v1.0h-1.0zM93.1 27.5h1.0v1.0h-1.0zM80.7 108.1h1.0v1.0h-1.0zM73.5 49.5h1.0v1.0h-1.0zM54.5 56.7h1.0v1.0h-1.0zM60.8 56.8h1.0v1.0h-1.0zM39.9 89.2h1.0v1.0h-1.0zM61.9 49.4h1.0v1.0h-1.0zM54.8 86.0h1.0v1.0h-1.0zM49.0 81.5h1.0v1.0h-1.0zM50.4 78.3h1.0v1.0h-1.0zM62.8 55.9h1.0v1.0h-1.0zM52.1 74.0h1.0v1.0h-1.0zM47.4 66.3h1.0v1.0h-1.0zM56.7 67.1h1.0v1.0h-1.0zM52.5 75.1h1.0v1.0h-1.0zM40.5 110.4h1.0v1.0h-1.0zM44.3 107.3h1.0v1.0h-1.0zM48.3 117.0h1.0v1.0h-1.0zM62.8 67.7h1.0v1.0h-1.0zM57.3 81.0h1.0v1.0h-1.0zM75.5 48.3h1.0v1.0h-1.0zM97.0 100.0h1.0v1.0h-1.0zM44.1 99.1h1.0v1.0h-1.0zM100.2 101.4h1.0v1.0h-1.0zM60.3 57.7h1.0v1.0h-1.0zM44.2 92.4h1.0v1.0h-1.0zM55.9 50.6h1.0v1.0h-1.0zM57.4 78.5h1.0v1.0h-1.0zM68.4 55.3h1.0v1.0h-1.0zM49.4 79.6h1.0v1.0h-1.0zM91.1 99.8h1.0v1.0h-1.0zM61.9 53.0h1.0v1.0h-1.0zM73.0 40.3h1.0v1.0h-1.0zM46.2 90.8h1.0v1.0h-1.0zM79.4 39.7h1.0v1.0h-1.0zM43.6 66.6h1.0v1.0h-1.0zM55.7 74.9h1.0v1.0h-1.0zM65.5 53.0h1.0v1.0h-1.0zM94.9 106.1h1.0v1.0h-1.0zM43.8 62.7h1.0v1.0h-1.0zM102.1 115.1h1.0v1.0h-1.0zM41.8 59.3h1.0v1.0h-1.0zM90.1 116.0h1.0v1.0h-1.0zM70.4 55.6h1.0v1.0h-1.0zM71.5 46.6h1.0v1.0h-1.0zM84.7 94.7h1.0v1.0h-1.0zM63.2 65.8h1.0v1.0h-1.0zM65.2 50.9h1.0v1.0h-1.0zM66.2 53.6h1.0v1.0h-1.0zM50.7 87.4h1.0v1.0h-1.0zM92.3 103.5h1.0v1.0h-1.0zM51.4 74.3h1.0v1.0h-1.0zM108.3 106.1h1.0v1.0h-1.0zM57.7 55.6h1.0v1.0h-1.0zM42.0 89.4h1.0v1.0h-1.0zM60.6 65.6h1.0v1.0h-1.0zM89.9 106.6h1.0v1.0h-1.0zM83.2 117.7h1.0v1.0h-1.0zM59.8 58.5h1.0v1.0h-1.0zM59.7 64.2h1.0v1.0h-1.0zM42.9 102.2h1.0v1.0h-1.0zM86.7 92.6h1.0v1.0h-1.0zM77.7 44.9h1.0v1.0h-1.0zM51.3 88.3h1.0v1.0h-1.0zM50.8 79.5h1.0v1.0h-1.0zM65.4 48.2h1.0v1.0h-1.0zM57.7 56.8h1.0v1.0h-1.0zM42.8 100.6h1.0v1.0h-1.0zM56.1 80.7h1.0v1.0h-1.0zM48.1 62.2h1.0v1.0h-1.0zM49.9 113.8h1.0v1.0h-1.0zM70.6 43.5h1.0v1.0h-1.0zM47.1 94.1h1.0v1.0h-1.0zM59.3 53.3h1.0v1.0h-1.0zM57.9 55.8h1.0v1.0h-1.0zM85.4 83.4h1.0v1.0h-1.0zM46.7 64.1h1.0v1.0h-1.0zM51.5 89.3h1.0v1.0h-1.0zM59.6 75.1h1.0v1.0h-1.0zM51.6 82.7h1.0v1.0h-1.0zM49.9 75.6h1.0v1.0h-1.0zM58.4 55.5h1.0v1.0h-1.0zM47.2 89.0h1.0v1.0h-1.0zM48.9 66.0h1.0v1.0h-1.0zM68.3 49.2h1.0v1.0h-1.0zM77.0 40.7h1.0v1.0h-1.0zM55.9 79.0h1.0v1.0h-1.0zM79.5 40.8h1.0v1.0h-1.0zM70.6 51.9h1.0v1.0h-1.0zM90.7 94.4h1.0v1.0h-1.0zM58.0 59.9h1.0v1.0h-1.0zM54.3 85.1h1.0v1.0h-1.0zM60.3 42.7h1.0v1.0h-1.0zM63.7 68.2h1.0v1.0h-1.0zM42.3 115.4h1.0v1.0h-1.0zM49.7 73.2h1.0v1.0h-1.0zM58.1 66.7h1.0v1.0h-1.0zM69.1 57.3h1.0v1.0h-1.0zM47.3 85.3h1.0v1.0h-1.0zM57.8 76.2h1.0v1.0h-1.0zM89.3 105.4h1.0v1.0h-1.0zM62.5 59.2h1.0v1.0h-1.0zM87.8 108.7h1.0v1.0h-1.0zM53.2 75.0h1.0v1.0h-1.0zM53.6 74.2h1.0v1.0h-1.0zM71.9 49.8h1.0v1.0h-1.0zM64.2 62.6h1.0v1.0h-1.0zM77.0 29.4h1.0v1.0h-1.0zM56.5 75.1h1.0v1.0h-1.0zM52.4 88.2h1.0v1.0h-1.0zM53.7 80.3h1.0v1.0h-1.0zM53.5 80.9h1.0v1.0h-1.0zM82.5 28.1h1.0v1.0h-1.0zM69.4 53.8h1.0v1.0h-1.0zM53.3 75.4h1.0v1.0h-1.0zM84.2 91.0h1.0v1.0h-1.0zM56.2 69.5h1.0v1.0h-1.0zM51.4 70.5h1.0v1.0h-1.0zM56.2 82.6h1.0v1.0h-1.0zM47.7 80.4h1.0v1.0h-1.0z"/>
<ellipse cx="0" cy="0" rx="5.5" ry="1.8" fill="#fff" fill-opacity="0.45" transform="translate(95.5 43.0) rotate(-73)"/>
<line x1="35.50" y1="31.50" x2="38.50" y2="31.50" stroke="#1a1a1a" stroke-width="0.8"/>
<line x1="36.90" y1="46.74" x2="38.50" y2="46.74" stroke="#1a1a1a" stroke-width="0.8"/>
<line x1="36.90" y1="42.90" x2="38.50" y2="42.90" stroke="#1a1a1a" stroke-width="0.8"/>
<line x1="36.90" y1="40.18" x2="38.50" y2="40.18" stroke="#1a1a1a" stroke-width="0.8"/>
<line x1="36.90" y1="38.06" x2="38.50" y2="38.06" stroke="#1a1a1a" stroke-width="0.8"/>
<line x1="36.90" y1="36.34" x2="38.50" y2="36.34" stroke="#1a1a1a" stroke-width="0.8"/>
<line x1="36.90" y1="34.88" x2="38.50" y2="34.88" stroke="#1a1a1a" stroke-width="0.8"/>
<line x1="36.90" y1="33.61" x2="38.50" y2="33.61" stroke="#1a1a1a" stroke-width="0.8"/>
<line x1="36.90" y1="32.50" x2="38.50" y2="32.50" stroke="#1a1a1a" stroke-width="0.8"/>
<line x1="35.50" y1="53.30" x2="38.50" y2="53.30" stroke="#1a1a1a" stroke-width="0.8"/>
<line x1="36.90" y1="68.54" x2="38.50" y2="68.54" stroke="#1a1a1a" stroke-width="0.8"/>
<line x1="36.90" y1="64.70" x2="38.50" y2="64.70" stroke="#1a1a1a" stroke-width="0.8"/>
<line x1="36.90" y1="61.98" x2="38.50" y2="61.98" stroke="#1a1a1a" stroke-width="0.8"/>
<line x1="36.90" y1="59.86" x2="38.50" y2="59.86" stroke="#1a1a1a" stroke-width="0.8"/>
<line x1="36.90" y1="58.14" x2="38.50" y2="58.14" stroke="#1a1a1a" stroke-width="0.8"/>
<line x1="36.90" y1="56.68" x2="38.50" y2="56.68" stroke="#1a1a1a" stroke-width="0.8"/>
<line x1="36.90" y1="55.41" x2="38.50" y2="55.41" stroke="#1a1a1a" stroke-width="0.8"/>
<line x1="36.90" y1="54.30" x2="38.50" y2="54.30" stroke="#1a1a1a" stroke-width="0.8"/>
<line x1="35.50" y1="75.10" x2="38.50" y2="75.10" stroke="#1a1a1a" stroke-width="0.8"/>
<line x1="36.90" y1="90.34" x2="38.50" y2="90.34" stroke="#1a1a1a" stroke-width="0.8"/>
<line x1="36.90" y1="86.50" x2="38.50" y2="86.50" stroke="#1a1a1a" stroke-width="0.8"/>
<line x1="36.90" y1="83.78" x2="38.50" y2="83.78" stroke="#1a1a1a" stroke-width="0.8"/>
<line x1="36.90" y1="81.66" x2="38.50" y2="81.66" stroke="#1a1a1a" stroke-width="0.8"/>
<line x1="36.90" y1="79.94" x2="38.50" y2="79.94" stroke="#1a1a1a" stroke-width="0.8"/>
<line x1="36.90" y1="78.48" x2="38.50" y2="78.48" stroke="#1a1a1a" stroke-width="0.8"/>
<line x1="36.90" y1="77.21" x2="38.50" y2="77.21" stroke="#1a1a1a" stroke-width="0.8"/>
<line x1="36.90" y1="76.10" x2="38.50" y2="76.10" stroke="#1a1a1a" stroke-width="0.8"/>
<line x1="35.50" y1="96.90" x2="38.50" y2="96.90" stroke="#1a1a1a" stroke-width="0.8"/>
<line x1="36.90" y1="102.00" x2="38.50" y2="102.00" stroke="#1a1a1a" stroke-width="0.8"/>
<line x1="36.90" y1="106.00" x2="38.50" y2="106.00" stroke="#1a1a1a" stroke-width="0.8"/>
<line x1="36.90" y1="110.00" x2="38.50" y2="110.00" stroke="#1a1a1a" stroke-width="0.8"/>
<line x1="36.90" y1="114.00" x2="38.50" y2="114.00" stroke="#1a1a1a" stroke-width="0.8"/>
<line x1="36.90" y1="117.50" x2="38.50" y2="117.50" stroke="#1a1a1a" stroke-width="0.8"/>
<line x1="35.50" y1="110.00" x2="38.50" y2="110.00" stroke="#1a1a1a" stroke-width="0.8"/>
<line x1="36.90" y1="24.94" x2="38.50" y2="24.94" stroke="#1a1a1a" stroke-width="0.8"/>
<line x1="58.60" y1="120.50" x2="58.60" y2="123.50" stroke="#1a1a1a" stroke-width="0.8"/>
<line x1="65.95" y1="120.50" x2="65.95" y2="122.10" stroke="#1a1a1a" stroke-width="0.8"/>
<line x1="70.24" y1="120.50" x2="70.24" y2="122.10" stroke="#1a1a1a" stroke-width="0.8"/>
<line x1="73.29" y1="120.50" x2="73.29" y2="122.10" stroke="#1a1a1a" stroke-width="0.8"/>
<line x1="75.65" y1="120.50" x2="75.65" y2="122.10" stroke="#1a1a1a" stroke-width="0.8"/>
<line x1="77.59" y1="120.50" x2="77.59" y2="122.10" stroke="#1a1a1a" stroke-width="0.8"/>
<line x1="79.22" y1="120.50" x2="79.22" y2="122.10" stroke="#1a1a1a" stroke-width="0.8"/>
<line x1="80.64" y1="120.50" x2="80.64" y2="122.10" stroke="#1a1a1a" stroke-width="0.8"/>
<line x1="81.88" y1="120.50" x2="81.88" y2="122.10" stroke="#1a1a1a" stroke-width="0.8"/>
<line x1="83.00" y1="120.50" x2="83.00" y2="123.50" stroke="#1a1a1a" stroke-width="0.8"/>
<line x1="89.62" y1="120.50" x2="89.62" y2="122.10" stroke="#1a1a1a" stroke-width="0.8"/>
<line x1="93.50" y1="120.50" x2="93.50" y2="122.10" stroke="#1a1a1a" stroke-width="0.8"/>
<line x1="96.25" y1="120.50" x2="96.25" y2="122.10" stroke="#1a1a1a" stroke-width="0.8"/>
<line x1="98.38" y1="120.50" x2="98.38" y2="122.10" stroke="#1a1a1a" stroke-width="0.8"/>
<line x1="100.12" y1="120.50" x2="100.12" y2="122.10" stroke="#1a1a1a" stroke-width="0.8"/>
<line x1="101.59" y1="120.50" x2="101.59" y2="122.10" stroke="#1a1a1a" stroke-width="0.8"/>
<line x1="102.87" y1="120.50" x2="102.87" y2="122.10" stroke="#1a1a1a" stroke-width="0.8"/>
<line x1="103.99" y1="120.50" x2="103.99" y2="122.10" stroke="#1a1a1a" stroke-width="0.8"/>
<line x1="105.00" y1="120.50" x2="105.00" y2="123.50" stroke="#1a1a1a" stroke-width="0.8"/>
<line x1="111.47" y1="120.50" x2="111.47" y2="122.10" stroke="#1a1a1a" stroke-width="0.8"/>
<line x1="115.26" y1="120.50" x2="115.26" y2="122.10" stroke="#1a1a1a" stroke-width="0.8"/>
<line x1="117.94" y1="120.50" x2="117.94" y2="122.10" stroke="#1a1a1a" stroke-width="0.8"/>
<line x1="120.03" y1="120.50" x2="120.03" y2="122.10" stroke="#1a1a1a" stroke-width="0.8"/>
<line x1="121.73" y1="120.50" x2="121.73" y2="122.10" stroke="#1a1a1a" stroke-width="0.8"/>
<line x1="123.17" y1="120.50" x2="123.17" y2="122.10" stroke="#1a1a1a" stroke-width="0.8"/>
<line x1="124.42" y1="120.50" x2="124.42" y2="122.10" stroke="#1a1a1a" stroke-width="0.8"/>
<line x1="125.52" y1="120.50" x2="125.52" y2="122.10" stroke="#1a1a1a" stroke-width="0.8"/>
<line x1="126.50" y1="120.50" x2="126.50" y2="123.50" stroke="#1a1a1a" stroke-width="0.8"/>
<line x1="132.97" y1="120.50" x2="132.97" y2="122.10" stroke="#1a1a1a" stroke-width="0.8"/>
<line x1="41.50" y1="120.50" x2="41.50" y2="122.10" stroke="#1a1a1a" stroke-width="0.8"/>
<line x1="44.50" y1="120.50" x2="44.50" y2="122.10" stroke="#1a1a1a" stroke-width="0.8"/>
<line x1="47.80" y1="120.50" x2="47.80" y2="122.10" stroke="#1a1a1a" stroke-width="0.8"/>
<line x1="51.00" y1="120.50" x2="51.00" y2="122.10" stroke="#1a1a1a" stroke-width="0.8"/>
<line x1="54.00" y1="120.50" x2="54.00" y2="122.10" stroke="#1a1a1a" stroke-width="0.8"/>
<line x1="47.80" y1="120.50" x2="47.80" y2="123.50" stroke="#1a1a1a" stroke-width="0.8"/>
<rect x="36.10" y="22.00" width="2.40" height="98.50" fill="#000" fill-opacity="0.35"/>
<rect x="38.50" y="120.50" width="97.90" height="2.00" fill="#000" fill-opacity="0.25"/>
<rect x="38.50" y="22.00" width="97.90" height="98.50" fill="none" stroke="#000" stroke-width="1.15"/>
<text x="30.90" y="33.80" font-size="6.6" text-anchor="end" font-weight="normal" fill="#000">10</text>
<text x="31.10" y="31.10" font-size="4.6" text-anchor="start" font-weight="normal" fill="#000" style="stroke-width:0.1px">5</text>
<text x="30.90" y="55.60" font-size="6.6" text-anchor="end" font-weight="normal" fill="#000">10</text>
<text x="31.10" y="52.90" font-size="4.6" text-anchor="start" font-weight="normal" fill="#000" style="stroke-width:0.1px">4</text>
<text x="30.90" y="77.40" font-size="6.6" text-anchor="end" font-weight="normal" fill="#000">10</text>
<text x="31.10" y="74.70" font-size="4.6" text-anchor="start" font-weight="normal" fill="#000" style="stroke-width:0.1px">3</text>
<text x="30.90" y="99.20" font-size="6.6" text-anchor="end" font-weight="normal" fill="#000">10</text>
<text x="31.10" y="96.50" font-size="4.6" text-anchor="start" font-weight="normal" fill="#000" style="stroke-width:0.1px">2</text>
<text x="32.50" y="112.30" font-size="6.6" text-anchor="end" font-weight="normal" fill="#000">0</text>
<text x="47.80" y="131.70" font-size="6.6" text-anchor="middle" font-weight="normal" fill="#000">0</text>
<text x="57.10" y="131.70" font-size="6.6" text-anchor="middle" font-weight="normal" fill="#000">10</text>
<text x="60.90" y="129.00" font-size="4.6" text-anchor="start" font-weight="normal" fill="#000" style="stroke-width:0.1px">2</text>
<text x="81.50" y="131.70" font-size="6.6" text-anchor="middle" font-weight="normal" fill="#000">10</text>
<text x="85.30" y="129.00" font-size="4.6" text-anchor="start" font-weight="normal" fill="#000" style="stroke-width:0.1px">3</text>
<text x="103.50" y="131.70" font-size="6.6" text-anchor="middle" font-weight="normal" fill="#000">10</text>
<text x="107.30" y="129.00" font-size="4.6" text-anchor="start" font-weight="normal" fill="#000" style="stroke-width:0.1px">4</text>
<text x="125.00" y="131.70" font-size="6.6" text-anchor="middle" font-weight="normal" fill="#000">10</text>
<text x="128.80" y="129.00" font-size="4.6" text-anchor="start" font-weight="normal" fill="#000" style="stroke-width:0.1px">5</text>
<rect x="83.50" y="22.60" width="44.50" height="55.40" fill="none" stroke="#000" stroke-width="1.0"/>
<text x="124.00" y="61.70" font-size="8.2" text-anchor="end" font-weight="normal" fill="#000">37</text>
<text x="83.80" y="19.30" font-size="9.0" text-anchor="middle" font-weight="normal" fill="#000">WT</text>
<g fill="none" stroke="#000" stroke-width="0.7" stroke-linejoin="round" clip-path="url(#cdk)">
<path d="M197.3 41.7l-0.7 0.1l-0.5-0.8l0-1.6l0.4-1.8l0.8-2l1-1.6l1-1l0.8-0.2l0.5 0.5l0.1 0.8l-0.4 2.8l-1.2 2.8l-1 1.3l-0.8 0.7M196.1 44.2l-0.5-0.1l-0.5-0.5l-0.3-1.5l0.3-2.5l0.7-2.6l1.3-2.8l1.5-2.2l1.2-1.1l0.8-0.3l0.5 0.1l0.7 0.9l0.1 1.5l-0.3 2.3l-0.7 2.5l-1.1 2.3l-1.2 2l-1.3 1.3l-1.2 0.7M195.6 46.1l-0.8 0l-0.5-0.4l-0.3-0.8l-0.2-1l0.2-3l1-3.8l1.6-3.5l2-2.9l1.7-1.6l0.8-0.2l0.7 0.1l0.8 0.9l0.3 2l-0.4 2.7l-0.8 3l-1.3 3l-1.6 2.6l-1.7 2.1l-1.5 0.8M170.1 93.6l-0.6 0l-0.2-0.2l0-0.5l0.3-0.6l0.7-0.3l0.4 0.4l0.1 0.5l-0.7 0.7M195.3 46.9l-0.7 0l-0.6-0.5l-0.4-1l-0.2-1l0.3-3.3l1.1-4l1.8-4l2-2.9l1-1l1-0.7l0.7-0.3l0.8 0.1l0.5 0.4l0.3 0.7l0.3 2.2l-0.4 3l-0.9 3.3l-1.6 3.4l-1.7 2.8l-1.8 1.9l-1.5 0.9M170.1 95.9l-1.3 0.1l-1-0.5l-0.7-1.1l0-1.3l0.5-1.3l1-1.2l1.2-0.8l1.5-0.1l0.8 0.4l0.5 0.5l0.4 1l-0.1 1l-0.3 1l-0.6 1l-0.9 0.8l-1 0.5M195.1 47.6l-0.8 0l-0.7-0.5l-0.4-1l-0.2-1.2l0.3-3.5l1.2-4.3l1.8-4l2.1-3.2l1.2-1.2l1-0.8l1-0.3l0.7 0.1l0.5 0.4l0.5 0.8l0.3 2.2l-0.5 3.3l-1 3.5l-1.5 3.5l-1.8 2.9l-2 2.3l-1 0.7l-0.7 0.3M170.1 97.2l-1.8 0.1l-0.7-0.2l-0.8-0.5l-0.8-1.5l-0.1-2l0.8-2l1.4-1.6l1.7-0.9l1-0.2l1 0l1.1 0.5l0.9 1l0.4 1.2l-0.1 1.5l-0.5 1.5l-0.8 1.3l-1.2 1l-1.5 0.8M194.8 48.4l-0.7 0l-0.8-0.5l-0.4-1l-0.2-1.3l0-1.7l0.3-2.3l1.3-4.5l1.8-4.2l2.3-3.5l1.2-1.2l1.2-0.9l1-0.3l0.8 0.1l0.6 0.5l0.4 0.8l0.3 2.5l-0.4 3.2l-1.1 3.8l-1.7 3.7l-1.9 3.2l-2 2.3l-1 0.8l-1 0.5M169.1 98.4l-1 0l-1-0.3l-0.9-0.5l-0.6-0.7l-0.5-1l-0.2-1l0-1.3l0.2-1.2l1.2-2.3l1.8-1.7l2.2-1l1.3-0.1l1 0.1l1.5 0.9l0.8 1.3l0.3 1.8l-0.3 2l-0.9 1.7l-1.4 1.7l-1.8 1.1l-1.7 0.5M194.8 49.2l-1 0.1l-0.7-0.4l-0.5-0.9l-0.3-1.4l0-2l0.3-2.2l1.3-5l2.1-4.8l2.3-3.6l1.3-1.3l1.2-1l1-0.4l1 0.1l0.6 0.5l0.5 1l0.3 2.5l-0.4 3.5l-1.1 3.7l-1.6 3.8l-2 3.6l-2.3 2.7l-2 1.5M168.3 99.4l-1.2-0.2l-1-0.4l-0.9-0.7l-0.7-1l-0.5-1.2l-0.1-1.3l0.2-1.5l0.3-1.2l0.8-1.5l0.9-1.3l2.2-1.8l1.3-0.6l1.2-0.4l1.3-0.1l1.2 0.3l0.8 0.4l0.8 0.7l1 1.8l0.2 2.2l-0.5 2.3l-1.3 2.2l-1.7 1.7l-2 1.1l-2.3 0.5M194.1 50.2l-1-0.1l-0.7-0.7l-0.4-1.3l-0.2-1.5l0.5-4.5l1.5-5.2l2.2-4.8l2.6-3.9l1.2-1.3l1.3-0.8l1-0.4l1 0.1l0.7 0.6l0.5 1l0.3 2.7l-0.5 3.8l-1.3 4.2l-1.9 4.3l-2.3 3.8l-2.5 2.8l-1 0.8l-1 0.4M169.3 100.2l-1.5 0.1l-1.5-0.3l-1.2-0.6l-1-1l-0.7-1.3l-0.3-1.5l0-1.5l0.4-1.7l0.7-1.8l0.9-1.4l1.1-1.3l1.4-1.1l1.5-0.8l1.5-0.5l1.5-0.2l1.5 0.2l1 0.4l0.7 0.6l0.7 0.9l0.5 1l0.4 2.2l-0.3 2.7l-1.1 2.3l-1.7 2.1l-2.2 1.7l-2.3 0.8M193.6 51.2l-1-0.2l-0.6-0.6l-0.4-1.3l-0.2-2l0.2-2.2l0.4-2.8l1.6-5.5l2.3-5l2.7-3.9l1.2-1.3l1.3-0.9l1.2-0.5l1 0.2l0.8 0.6l0.4 0.8l0.3 1.3l0.1 1.7l-0.5 4l-1.4 4.8l-2 4.5l-2.7 4.2l-2.5 2.8l-1.2 0.9l-1 0.4M168.1 101.1l-1.5-0.1l-1.5-0.5l-1.2-0.9l-0.8-1.1l-0.6-1.4l-0.2-1.7l0.1-1.8l0.5-2l0.9-1.7l1-1.5l1.5-1.5l1.5-1.1l1.8-0.9l1.7-0.4l1.5-0.1l1.5 0.3l1 0.5l1 0.9l0.7 1l0.4 1.3l0.3 2.7l-0.6 3l-1.6 2.8l-2.2 2.2l-2.5 1.4l-2.7 0.6M193.6 52.2l-1.3 0.1l-0.7-0.6l-0.5-1.3l-0.2-1.8l0.1-2.5l0.5-3l1.7-6l2.3-5.2l1.3-2.3l1.5-2.1l1.5-1.6l1.5-1.1l1.3-0.4l1 0.1l0.7 0.5l0.6 1.1l0.3 1.3l0.1 1.7l-0.5 4.3l-1.3 4.5l-2.1 4.7l-2.6 4.4l-2.7 3.4l-1.3 1.1l-1.2 0.7M168.8 101.9l-1.7 0.1l-1.8-0.3l-1.5-0.8l-1-1l-0.8-1.5l-0.5-2l0-2l0.5-2.3l0.8-2l1.1-1.7l1.4-1.6l1.8-1.5l2-1.1l2-0.6l1.7-0.2l1.8 0.2l1.1 0.5l0.9 0.8l0.8 1l0.7 1.5l0.3 1.5l0.1 1.5l-0.1 1.7l-0.4 1.5l-1.4 3l-2.2 2.5l-2.6 1.8l-3 1M192.6 53.7l-1 0l-0.7-0.8l-0.4-1.5l-0.1-2.3l0.2-3l0.5-3l1.9-6.2l2.4-5.5l1.5-2.5l1.5-2l1.4-1.5l1.5-1.2l1.3-0.5l1.2 0.1l0.8 0.5l0.6 1.1l0.4 1.5l0.1 2l-0.7 4.7l-1.5 5l-2.3 5l-2.9 4.8l-3 3.5l-1.5 1.2l-1.2 0.6M169.1 102.6l-2 0.3l-2-0.3l-1.7-0.7l-1.3-1.3l-0.9-1.7l-0.4-2l-0.1-2.3l0.5-2.5l0.9-2.2l1.3-2l1.6-1.8l1.8-1.5l2-1.1l2.3-0.8l2.2-0.3l1.8 0.2l1.2 0.6l1 0.9l0.8 1l0.7 1.5l0.3 1.5l0.2 1.8l-0.1 1.7l-0.4 1.8l-0.6 1.7l-0.8 1.5l-2.3 2.8l-2.8 2l-1.5 0.7l-1.7 0.5M191.3 55.7l-0.5 0l-0.5-0.3l-0.4-1l-0.2-2l0.1-3l0.4-3.3l0.7-3.5l2.1-6.5l2.5-5.5l1.6-2.5l1.5-1.9l1.5-1.6l1.5-1.1l1.2-0.5l1.3 0.1l0.8 0.5l0.7 1.3l0.4 1.7l0 2l-0.2 2.5l-0.6 2.8l-1.7 5.5l-2.6 5.5l-3.1 4.8l-3.5 4l-1.7 1.4l-1.3 0.6M167.8 103.6l-2.2 0l-1.9-0.5l-1.5-1l-1.2-1.5l-0.8-2l-0.3-2.5l0.2-2.5l0.7-2.5l1.1-2.2l1.4-2l1.8-1.8l2-1.5l2.5-1.2l2.5-0.8l2.2-0.2l1.8 0.3l1.1 0.7l1 1l0.9 1.5l0.6 1.7l0.3 1.8l0 2l-0.2 2l-0.6 2l-0.8 1.7l-1.1 1.8l-1.2 1.5l-1.4 1.2l-1.6 1.2l-1.8 0.9l-1.7 0.6l-1.8 0.3M187.1 62.2l-0.1-0.6l0.9-2.7l0.5-2.3l1.1-8.2l0.9-4.8l1.3-4.7l1.7-4.5l2.7-5.3l3-4l1.5-1.4l1.5-1l1.2-0.3l1 0.1l1 0.7l0.7 1.4l0.3 2l0 2.3l-0.3 2.7l-0.8 3.3l-2.2 6.2l-2.6 5.3l-3.1 4.6l-2.7 3.3l-7.5 7.9M167.3 104.4l-2.2-0.1l-2-0.5l-1.7-1.2l-1.1-1.5l-0.8-2.2l-0.2-2.8l0.2-2.7l0.9-2.8l1.1-2.2l1.6-2.1l1.9-1.9l2.1-1.5l2.7-1.4l2.8-0.9l2.5-0.2l1.7 0.3l1.1 0.7l1 1.2l0.9 1.9l0.6 2.1l0.3 2l0 2.3l-0.4 2l-0.6 2l-0.9 1.7l-1.1 1.8l-1.4 1.5l-1.6 1.5l-1.6 1.1l-2 1l-1.8 0.5l-2 0.4M184.1 68.7l-0.8-0.2l-0.3-0.6l-0.1-1l0.3-1.5l0.9-2.4l2.6-4.9l1-2.5l2.8-13.2l1.2-4.3l1.7-4.2l2.8-5.3l1.5-2.2l1.6-1.9l1.5-1.4l1.5-0.9l2.5-0.1l1 1l0.5 1.5l0.3 2.3l-0.1 2.5l-0.5 3.2l-0.8 3l-2.3 6.3l-1.7 3.5l-2.2 3.7l-2.4 3.4l-5.2 6.6l-4.1 6.7l-1.7 2l-1.5 0.9M167.6 104.9l-2.5 0l-2.3-0.5l-1.7-1.2l-1.2-1.6l-0.8-2.2l-0.3-2.8l0.2-3l0.8-2.7l1.2-2.5l1.6-2.3l2-2l2.2-1.6l2.8-1.5l3.2-1.1l2.8-0.4l1.7 0.2l1 0.6l1 1.3l0.9 2l0.7 2.5l0.3 2.3l0 2l-0.4 2.2l-0.6 2l-0.9 2l-1.1 1.8l-1.4 1.6l-1.5 1.4l-1.7 1.3l-2 1.1l-2 0.7l-2 0.4M182.6 71.9l-1-0.2l-0.6-1.1l0-2l0.5-2.2l1.3-3.4l3.3-5.8l1.1-2.6l0.9-2.9l2.4-10.3l1.4-4.3l1.5-3.7l1.5-3l1.8-3l1.6-2.2l1.8-1.9l1.5-1.2l4 0l0.8 1.3l0.4 1.7l0.1 2.3l-0.2 2.7l-0.5 2.8l-1 3.5l-2.5 6.5l-3.3 6l-6.7 9.7l-4.9 8.5l-2.7 3.2l-1.3 1l-1.2 0.6M167.8 105.4l-2.7 0.2l-2.5-0.6l-1.8-1l-1.3-1.6l-0.9-2.3l-0.4-3l0.2-3.2l0.9-3l1.1-2.5l1.6-2.3l1.8-2l2.3-1.8l3-1.7l3.5-1.4l3.5-0.9l2 0l1 0.7l0.7 1.2l1 2.8l0.7 3.1l0.3 2.3l-0.1 2l-0.3 2.2l-0.6 2l-0.9 2l-1.3 2l-1.4 1.8l-1.6 1.5l-1.8 1.2l-2 1.1l-2 0.8l-2 0.4M166.3 106.1l-2.7-0.1l-2.3-0.8l-1.7-1.3l-1-1.8l-0.8-2.7l-0.1-3.5l0.5-3.3l1.2-3.2l1.1-2l1.3-1.9l1.8-1.8l1.7-1.5l3.8-2.2l7.1-3.1l1.4-0.9l0.8-0.9l0.5-1.2l0.8-4.8l1-3.2l1.5-3.5l3.5-6l1.1-2.5l1-3l1.9-7.5l1.3-4.3l1.7-4.5l1.7-3.7l1.6-2.8l1.7-2.5l1.6-1.9l1.7-1.6l5.2 0l0.6 1.5l0.3 2l0 2.5l-0.3 2.8l-0.6 3l-1 3.2l-2.5 6.3l-2.8 5.2l-6.2 9.5l-5.4 9.7l-2.2 3l-4.4 4.3l-0.8 1.3l-0.2 1l0 1.2l1.3 6.8l0.3 3.5l-0.4 3.7l-1.3 3.5l-1.1 2l-1.3 1.8l-1.6 1.7l-1.8 1.4l-2 1.2l-2.2 1l-2 0.6l-2.3 0.3M166.1 106.9l-2.8-0.1l-2.5-0.8l-1.8-1.4l-1.2-2l-0.7-3l-0.1-3.7l0.6-3.5l1.2-3.3l2.3-3.6l3-3.1l3.5-2.5l6.5-3.4l1.2-0.9l1.1-1.2l1-2l1.8-5.5l1.3-3.3l1.6-3l3.2-5.4l1.3-2.5l1-2.8l2.1-7.8l1.5-4.5l1.8-4.5l2.2-4.2l2.6-4l2.6-2.8l6.5 0l0.4 1.5l0.2 2l0 2.3l-0.4 2.7l-1.4 5.8l-2.2 6l-2.8 5.5l-6 10l-4.9 9.3l-2.2 3.4l-3.9 5l-1.1 2l-0.3 1.3l0 1.5l0.6 6.2l0 3.3l-0.5 3.2l-1.2 3.3l-1.1 2l-1.5 2l-1.8 1.8l-2 1.6l-2 1.1l-2.2 1l-2.3 0.7l-2.2 0.3M167.3 107.6l-3.5 0.2l-3-0.5l-2-1.2l-0.9-1l-0.7-1l-0.6-1.5l-0.3-1.7l-0.2-4.3l0.6-4l1.3-3.7l2.1-3.5l3-3.2l3.2-2.5l6.4-3.8l1.4-1.3l1.2-1.5l0.9-1.7l2.1-5.5l1.4-3.3l1.7-3l3.4-5.4l1.3-2.4l1.2-3.2l2.9-9.2l1.8-4.8l2.7-5.5l2.7-4.2l2.3-2.8l7.9 0l0.3 1.8l0.1 2l-0.5 4.7l-1.3 5.5l-2 5.5l-2.5 5.3l-5.8 10.5l-4.7 9.5l-2.1 3.5l-3.8 5.5l-1.3 2.5l-0.4 2.7l0.3 6.3l-0.2 3l-0.6 3l-1.1 3l-1.1 2l-1.4 2l-1.5 1.7l-1.9 1.7l-2 1.3l-2.3 1.2l-2.2 0.8l-2.3 0.5M166.3 108.9l-3.7 0.1l-3-0.6l-1.3-0.7l-1-0.8l-1.4-2l-0.5-1.5l-0.3-2l-0.1-4.8l0.7-4.2l1.5-4l2.1-3.5l2.8-3.2l3-2.5l6.3-4.3l1.3-1.3l1.2-1.5l5-10.7l6.7-10.8l1.2-2.9l3.1-9.1l2-5l2.8-5.5l3-4.5l1.2-1.5l4.7-0.1l4.7 0.1l0.3 4l-0.6 4.8l-1.3 5l-2 5.7l-2 4.5l-5.4 10.5l-4.5 9.8l-2.1 3.7l-3.9 6.1l-1.2 2.7l-0.6 3l0 6l-0.3 3l-0.7 3l-1.2 3l-1.4 2.5l-1.5 2l-1.8 1.9l-2 1.7l-2 1.3l-2.5 1.2l-2.5 0.8l-2.8 0.6M164.1 110.6l-3.5-0.1l-1.5-0.3l-1.5-0.6l-1.3-0.8l-1-0.9l-1.2-2.3l-0.5-1.7l-0.2-2.3l0.2-5.5l0.9-4.5l1.7-4.2l2-3.3l2.6-3.2l3-2.7l6-4.6l1.3-1.3l1.2-1.6l5.7-11.1l5.8-8.7l1.5-2.6l1.5-3.3l3.4-8.9l2-4.5l2.7-5l3.1-4.5l5.6-0.1l5.7 0.1l0.1 3.3l-0.4 3.7l-1 4.5l-1.3 4.5l-2.5 6.3l-4.9 10.7l-4.4 10.3l-2.2 4.2l-4.1 7l-1 2.3l-0.8 3.2l-0.4 6.3l-0.4 3l-0.9 3.2l-1.2 3l-1.7 2.8l-1.9 2.4l-2.2 2.1l-2.5 1.9l-2.5 1.4l-3 1.3l-3 0.7l-3 0.4M164.1 112.9l-4.5 0l-2-0.3l-1.8-0.6l-1.2-0.7l-1.3-1l-0.9-1.2l-0.7-1.5l-0.5-2l-0.2-2.2l0.5-7l1-5l1-2.8l1-2.2l1.9-3.3l2.4-3.1l2.8-2.9l5.6-5.2l2.6-3.3l7-12l8-11.3l1.8-3.4l5.3-11.8l2.4-4.2l2.4-3.8l6.9-0.2l7 0.2l-0.1 3.5l-0.6 4l-0.9 4.3l-1.5 5l-9.5 25l-2.2 4.7l-4.5 8.2l-1.2 2.8l-0.8 3l-0.8 6.3l-0.6 3l-0.9 3.2l-1.4 3l-1.6 2.8l-2.1 2.7l-2.3 2.4l-2.8 2.2l-3 1.8l-3 1.3l-3.2 1l-3.5 0.6M160.1 117.4l-2.5 0l-2.5-0.3l-2-0.6l-1.8-0.9l-1.5-1.1l-1.2-1.4l-1-1.7l-0.6-2l-0.3-2.5l0-2.8l1.3-9.2l0.7-3l0.9-3l1.2-2.8l1.5-3l2.9-4.7l6.8-9.5l6.5-10.3l3.9-5.7l4.6-6l6.8-7.8l2.3-2.9l8.5-14.1l9-0.2l9.1 0.2l-0.4 5.5l-1.1 6l-4 16.8l-1.7 6l-1.8 5l-1.9 4.7l-7.2 14.7l-1.1 3.1l-2.5 9.5l-1.3 3.2l-1.4 3l-2.4 3.8l-2.7 3.2l-3.1 2.9l-3.5 2.5l-3.8 2.1l-4.2 1.6l-4.3 1.1l-4.2 0.6M165.6 109.4l-3.5 0l-3-0.7l-1.3-0.6l-1-0.9l-0.7-0.9l-0.7-1.2l-0.4-1.5l-0.4-2l0-5l0.8-4.5l1.5-4l2.1-3.5l2.6-3l3-2.6l6.3-4.4l1.4-1.4l1.2-1.6l5.2-10.7l5.6-8.8l1.3-2.3l1.5-3.5l3.1-8.9l2-4.8l2.8-5.2l2.8-4.2l0.9-1.1l4.9-0.1l5 0.1l0.2 3.8l-0.6 4.7l-1.2 5l-2 5.8l-2.1 4.7l-5.1 10.2l-4.6 10.1l-2 3.7l-3.9 6.3l-1.2 2.6l-0.6 2.9l-0.1 6l-0.3 3l-0.8 3.2l-1.2 3l-1.5 2.5l-1.7 2.3l-1.8 1.9l-2.3 1.7l-2.2 1.4l-2.5 1.2l-2.8 0.8l-2.7 0.5M162.8 110.9l-3.2-0.3l-2.8-1.1l-1.8-1.6l-0.8-1.3l-0.5-1.2l-0.3-1.8l-0.2-2.5l0.3-5.5l1-4.5l1.6-4l2-3.2l2.5-3l3-2.7l5.8-4.6l1.5-1.5l1.2-1.6l5.8-11.1l7.2-11l1.5-3.2l3.4-8.8l2.2-5l2.7-5l3-4.3l5.7-0.1l5.8 0.1l0.1 3.3l-0.5 4l-0.8 4l-1.5 4.7l-2.2 6l-4.9 10.8l-4.4 10.2l-2.2 4.5l-4.1 7l-1.1 2.3l-0.8 3.2l-0.4 6.3l-0.5 3.2l-0.9 3.3l-1.3 3l-1.7 2.7l-2 2.5l-2.4 2.3l-2.7 1.9l-2.8 1.5l-3.2 1.2l-3.3 0.6l-3 0.3M163.6 112.1l-2.3 0.1l-2-0.2l-1.7-0.4l-1.5-0.6l-1.3-0.8l-1-1l-0.7-1.1l-0.7-1.5l-0.4-2l-0.1-2.2l0.3-6.3l1-4.7l0.9-2.5l1.1-2.3l1.9-3.2l2.5-3.1l2.7-2.8l6-5.1l2.5-3.2l6.3-11.3l6.5-9.2l1.5-2.5l1.5-3l3.3-8.1l2.3-4.7l2.4-4.5l2.6-3.8l6.4-0.2l6.5 0.2l0 3.5l-0.6 4l-0.9 4l-1.4 4.8l-2 5.5l-8.4 20.7l-2.1 4.3l-4.2 7.5l-1.2 2.7l-0.9 3.3l-0.7 6.5l-0.5 3l-0.9 3.2l-1.4 3l-1.6 2.8l-2.2 2.7l-2.3 2.3l-2.7 2l-2.8 1.6l-3.2 1.3l-3.3 0.9l-3.2 0.4M163.1 113.4l-2.3 0.1l-2.2-0.2l-1.8-0.4l-1.7-0.7l-1.4-0.8l-1.1-1l-0.8-1.3l-0.7-1.5l-0.4-2l-0.1-2.5l0.5-7.2l1.2-5l1.9-4.8l2-3.2l2.2-3l2.7-2.9l5.5-5.4l2.7-3.4l7.2-12.1l8.3-11.5l1.8-3.4l5.4-11.6l2.2-4l2.3-3.5l7.1-0.2l7.2 0.2l-0.2 3.8l-0.6 4.2l-1 4.5l-1.3 4.3l-9.3 25l-2.2 4.7l-4.4 8.2l-1.2 2.8l-0.9 3l-0.8 6.3l-0.7 3.2l-1 3.3l-1.3 3l-1.8 3l-2.2 2.7l-2.6 2.6l-2.7 2l-3 1.8l-3.5 1.4l-3.3 0.9l-3.7 0.6M162.6 114.6l-2.5 0.1l-2.3-0.1l-2-0.5l-1.7-0.6l-1.5-1l-1.2-1.1l-1-1.5l-0.6-1.5l-0.4-2l-0.1-2.5l0.7-8l1.2-5.3l1-2.7l1.2-2.5l1.8-3l2.2-3l7.1-8l2.1-2.6l9.1-14.4l8.6-11.2l2.3-3.9l5.6-11.2l3.7-6l7.7-0.2l7.8 0.2l-0.2 4l-0.7 4.5l-1.1 4.5l-1.5 5l-6 18l-1.7 4.8l-2.5 5.5l-4.6 8.7l-1.3 3l-0.8 3l-1.8 9.3l-1 3.2l-1.5 3.3l-2 3.2l-2.3 2.8l-2.6 2.5l-3 2.3l-3.2 1.9l-3.5 1.4l-3.8 1.1l-3.7 0.5M162.3 115.9l-2.5 0.1l-2.5-0.1l-2-0.4l-2-0.7l-1.6-0.9l-1.4-1.3l-1-1.5l-0.8-1.7l-0.4-2.3l-0.1-2.7l0.9-8.5l0.6-3l0.9-3l2.3-5.3l3.4-5.5l8.5-10.7l6.6-10.5l3.4-5l3.1-4l5.6-6.7l1.8-2.3l2-3.4l4.9-9.1l3.2-5.3l8.4-0.2l8.5 0.2l-0.4 5l-1.3 6.5l-1.4 5.5l-5.1 17.3l-1.7 5l-2 4.7l-6.9 14l-1 3.1l-2.1 9.4l-1 3l-1.5 3.3l-2 3.2l-2.5 3.3l-2.9 2.8l-3 2.3l-3.5 2l-3.5 1.5l-4 1.2l-4 0.7"/>
</g>
<path fill="#000" d="M179.3 41.4h1.0v1.0h-1.0zM145.6 116.2h1.0v1.0h-1.0zM153.3 66.9h1.0v1.0h-1.0zM163.4 59.4h1.0v1.0h-1.0zM159.1 70.6h1.0v1.0h-1.0zM174.1 47.4h1.0v1.0h-1.0zM149.2 76.0h1.0v1.0h-1.0zM142.9 65.4h1.0v1.0h-1.0zM143.2 87.6h1.0v1.0h-1.0zM147.0 92.9h1.0v1.0h-1.0zM142.5 106.7h1.0v1.0h-1.0zM159.0 61.1h1.0v1.0h-1.0zM147.8 80.0h1.0v1.0h-1.0zM143.7 83.9h1.0v1.0h-1.0zM141.4 105.7h1.0v1.0h-1.0zM186.5 28.9h1.0v1.0h-1.0zM168.5 54.7h1.0v1.0h-1.0zM141.5 78.5h1.0v1.0h-1.0zM150.0 78.8h1.0v1.0h-1.0zM157.7 72.5h1.0v1.0h-1.0zM167.6 43.5h1.0v1.0h-1.0zM183.9 28.3h1.0v1.0h-1.0zM164.5 46.1h1.0v1.0h-1.0zM167.1 54.5h1.0v1.0h-1.0zM205.2 67.8h1.0v1.0h-1.0zM150.5 67.6h1.0v1.0h-1.0zM145.2 107.1h1.0v1.0h-1.0zM156.2 63.0h1.0v1.0h-1.0zM161.1 64.8h1.0v1.0h-1.0zM152.8 64.5h1.0v1.0h-1.0zM141.1 85.5h1.0v1.0h-1.0zM164.1 53.2h1.0v1.0h-1.0zM155.1 63.9h1.0v1.0h-1.0zM176.0 37.5h1.0v1.0h-1.0zM157.7 69.5h1.0v1.0h-1.0zM179.8 39.9h1.0v1.0h-1.0zM179.9 34.6h1.0v1.0h-1.0zM163.5 53.1h1.0v1.0h-1.0zM162.8 117.1h1.0v1.0h-1.0zM146.5 93.9h1.0v1.0h-1.0zM143.2 89.6h1.0v1.0h-1.0zM163.1 118.5h1.0v1.0h-1.0zM157.8 64.0h1.0v1.0h-1.0zM174.0 43.5h1.0v1.0h-1.0zM171.7 118.3h1.0v1.0h-1.0zM145.1 108.1h1.0v1.0h-1.0zM161.3 65.2h1.0v1.0h-1.0zM142.1 95.3h1.0v1.0h-1.0zM141.5 87.5h1.0v1.0h-1.0zM146.1 102.7h1.0v1.0h-1.0zM160.8 53.6h1.0v1.0h-1.0zM156.7 69.4h1.0v1.0h-1.0zM146.7 118.0h1.0v1.0h-1.0zM167.2 54.7h1.0v1.0h-1.0zM142.0 67.1h1.0v1.0h-1.0zM176.7 114.5h1.0v1.0h-1.0zM151.6 47.1h1.0v1.0h-1.0zM142.6 114.8h1.0v1.0h-1.0zM142.1 113.3h1.0v1.0h-1.0zM157.1 74.3h1.0v1.0h-1.0zM156.4 72.1h1.0v1.0h-1.0zM167.1 46.0h1.0v1.0h-1.0zM147.4 117.8h1.0v1.0h-1.0zM171.8 114.2h1.0v1.0h-1.0zM177.9 113.8h1.0v1.0h-1.0zM145.3 81.7h1.0v1.0h-1.0zM162.0 44.0h1.0v1.0h-1.0zM178.2 115.5h1.0v1.0h-1.0zM172.7 114.6h1.0v1.0h-1.0zM176.8 114.5h1.0v1.0h-1.0zM141.2 92.6h1.0v1.0h-1.0zM185.9 28.4h1.0v1.0h-1.0zM175.0 47.7h1.0v1.0h-1.0zM178.4 33.2h1.0v1.0h-1.0zM196.4 76.7h1.0v1.0h-1.0zM153.4 38.5h1.0v1.0h-1.0zM160.3 24.3h1.0v1.0h-1.0zM159.6 60.5h1.0v1.0h-1.0zM170.3 35.2h1.0v1.0h-1.0zM173.1 29.1h1.0v1.0h-1.0zM166.6 50.8h1.0v1.0h-1.0zM171.4 33.6h1.0v1.0h-1.0zM153.6 116.6h1.0v1.0h-1.0zM144.8 104.4h1.0v1.0h-1.0zM155.8 75.5h1.0v1.0h-1.0zM148.6 89.6h1.0v1.0h-1.0zM152.9 74.6h1.0v1.0h-1.0zM147.5 77.8h1.0v1.0h-1.0zM178.5 40.9h1.0v1.0h-1.0zM145.6 99.8h1.0v1.0h-1.0zM184.3 109.7h1.0v1.0h-1.0zM171.8 43.8h1.0v1.0h-1.0zM159.4 119.0h1.0v1.0h-1.0zM149.5 69.6h1.0v1.0h-1.0zM180.0 33.7h1.0v1.0h-1.0zM175.4 117.3h1.0v1.0h-1.0zM145.7 71.0h1.0v1.0h-1.0zM161.4 58.5h1.0v1.0h-1.0zM147.7 66.6h1.0v1.0h-1.0zM164.0 63.6h1.0v1.0h-1.0zM166.4 47.8h1.0v1.0h-1.0zM143.2 107.7h1.0v1.0h-1.0zM163.5 56.3h1.0v1.0h-1.0zM166.8 34.1h1.0v1.0h-1.0zM144.3 63.7h1.0v1.0h-1.0zM166.0 38.5h1.0v1.0h-1.0zM159.7 50.1h1.0v1.0h-1.0zM152.8 75.3h1.0v1.0h-1.0zM141.8 90.6h1.0v1.0h-1.0zM143.9 104.0h1.0v1.0h-1.0zM167.3 53.7h1.0v1.0h-1.0zM143.3 108.1h1.0v1.0h-1.0zM179.0 38.2h1.0v1.0h-1.0zM146.8 110.0h1.0v1.0h-1.0zM146.4 93.7h1.0v1.0h-1.0zM146.3 96.4h1.0v1.0h-1.0zM153.3 49.0h1.0v1.0h-1.0zM182.6 26.2h1.0v1.0h-1.0zM144.9 81.8h1.0v1.0h-1.0zM142.7 103.8h1.0v1.0h-1.0zM142.9 55.6h1.0v1.0h-1.0zM145.8 99.4h1.0v1.0h-1.0zM153.8 72.9h1.0v1.0h-1.0zM198.8 73.2h1.0v1.0h-1.0zM183.4 30.8h1.0v1.0h-1.0zM141.8 89.4h1.0v1.0h-1.0zM145.4 114.1h1.0v1.0h-1.0zM155.8 76.2h1.0v1.0h-1.0zM144.3 82.0h1.0v1.0h-1.0zM154.9 75.8h1.0v1.0h-1.0zM186.3 32.2h1.0v1.0h-1.0zM156.8 65.7h1.0v1.0h-1.0zM159.3 69.4h1.0v1.0h-1.0zM159.7 70.4h1.0v1.0h-1.0zM144.4 88.5h1.0v1.0h-1.0zM167.2 50.9h1.0v1.0h-1.0zM152.1 72.8h1.0v1.0h-1.0zM143.3 105.1h1.0v1.0h-1.0zM150.8 82.6h1.0v1.0h-1.0zM160.8 68.6h1.0v1.0h-1.0zM159.8 66.7h1.0v1.0h-1.0zM185.9 108.9h1.0v1.0h-1.0zM149.4 79.9h1.0v1.0h-1.0zM153.4 44.3h1.0v1.0h-1.0zM147.1 84.3h1.0v1.0h-1.0zM152.1 116.6h1.0v1.0h-1.0zM152.0 73.0h1.0v1.0h-1.0zM145.8 94.3h1.0v1.0h-1.0zM141.1 102.0h1.0v1.0h-1.0zM170.4 114.4h1.0v1.0h-1.0zM161.6 55.0h1.0v1.0h-1.0zM161.2 56.2h1.0v1.0h-1.0zM164.3 53.7h1.0v1.0h-1.0zM163.1 60.5h1.0v1.0h-1.0zM176.9 113.6h1.0v1.0h-1.0zM156.6 45.0h1.0v1.0h-1.0zM189.2 25.7h1.0v1.0h-1.0zM144.5 117.0h1.0v1.0h-1.0zM178.5 36.1h1.0v1.0h-1.0zM141.4 94.5h1.0v1.0h-1.0zM154.3 56.9h1.0v1.0h-1.0zM164.4 26.5h1.0v1.0h-1.0zM142.1 111.8h1.0v1.0h-1.0zM168.2 42.7h1.0v1.0h-1.0zM142.8 116.3h1.0v1.0h-1.0zM177.6 111.5h1.0v1.0h-1.0zM142.5 101.8h1.0v1.0h-1.0zM210.8 38.1h1.0v1.0h-1.0zM168.6 50.3h1.0v1.0h-1.0zM167.3 42.6h1.0v1.0h-1.0zM145.3 63.3h1.0v1.0h-1.0zM169.8 50.7h1.0v1.0h-1.0zM159.5 56.0h1.0v1.0h-1.0zM172.6 115.9h1.0v1.0h-1.0zM159.6 118.1h1.0v1.0h-1.0zM184.9 104.5h1.0v1.0h-1.0zM143.6 114.0h1.0v1.0h-1.0zM142.9 117.0h1.0v1.0h-1.0zM144.7 117.9h1.0v1.0h-1.0zM153.2 52.0h1.0v1.0h-1.0zM212.7 39.0h1.0v1.0h-1.0zM147.5 67.2h1.0v1.0h-1.0zM171.7 46.9h1.0v1.0h-1.0zM156.2 68.8h1.0v1.0h-1.0zM179.1 26.2h1.0v1.0h-1.0zM169.8 50.8h1.0v1.0h-1.0zM143.0 56.6h1.0v1.0h-1.0zM158.5 50.8h1.0v1.0h-1.0zM141.3 95.7h1.0v1.0h-1.0zM216.6 29.2h1.0v1.0h-1.0zM150.6 73.5h1.0v1.0h-1.0zM154.5 45.2h1.0v1.0h-1.0zM159.8 61.7h1.0v1.0h-1.0zM145.0 87.5h1.0v1.0h-1.0zM201.6 65.3h1.0v1.0h-1.0zM144.1 70.6h1.0v1.0h-1.0zM164.2 52.6h1.0v1.0h-1.0zM144.5 96.2h1.0v1.0h-1.0zM201.1 79.7h1.0v1.0h-1.0zM148.5 67.1h1.0v1.0h-1.0zM142.2 59.8h1.0v1.0h-1.0zM169.9 38.1h1.0v1.0h-1.0zM144.8 85.9h1.0v1.0h-1.0zM185.0 35.0h1.0v1.0h-1.0zM158.5 65.3h1.0v1.0h-1.0zM161.1 118.3h1.0v1.0h-1.0zM145.9 107.3h1.0v1.0h-1.0zM155.7 118.6h1.0v1.0h-1.0zM144.7 60.5h1.0v1.0h-1.0zM146.7 66.1h1.0v1.0h-1.0zM153.2 51.5h1.0v1.0h-1.0zM149.3 50.1h1.0v1.0h-1.0zM156.8 67.4h1.0v1.0h-1.0zM156.7 69.2h1.0v1.0h-1.0zM150.2 73.6h1.0v1.0h-1.0zM157.9 47.0h1.0v1.0h-1.0zM186.4 33.1h1.0v1.0h-1.0zM173.4 32.5h1.0v1.0h-1.0zM168.3 115.3h1.0v1.0h-1.0zM174.9 116.5h1.0v1.0h-1.0zM175.7 41.3h1.0v1.0h-1.0zM164.7 118.2h1.0v1.0h-1.0zM158.3 47.2h1.0v1.0h-1.0zM174.9 36.2h1.0v1.0h-1.0zM143.7 109.8h1.0v1.0h-1.0zM170.3 37.0h1.0v1.0h-1.0zM193.9 101.0h1.0v1.0h-1.0zM153.0 74.9h1.0v1.0h-1.0zM199.6 70.9h1.0v1.0h-1.0zM162.9 48.0h1.0v1.0h-1.0zM161.7 48.8h1.0v1.0h-1.0zM146.3 114.4h1.0v1.0h-1.0zM154.9 57.8h1.0v1.0h-1.0zM182.0 27.6h1.0v1.0h-1.0zM150.2 67.0h1.0v1.0h-1.0zM161.7 67.7h1.0v1.0h-1.0zM147.1 82.2h1.0v1.0h-1.0zM174.3 40.9h1.0v1.0h-1.0zM171.0 52.6h1.0v1.0h-1.0zM165.7 55.0h1.0v1.0h-1.0zM161.4 58.7h1.0v1.0h-1.0zM169.8 48.3h1.0v1.0h-1.0zM169.4 55.5h1.0v1.0h-1.0zM153.4 72.7h1.0v1.0h-1.0zM178.7 36.8h1.0v1.0h-1.0zM173.1 41.2h1.0v1.0h-1.0zM160.6 63.6h1.0v1.0h-1.0zM145.1 108.9h1.0v1.0h-1.0zM157.2 65.1h1.0v1.0h-1.0zM157.8 69.5h1.0v1.0h-1.0zM149.8 64.8h1.0v1.0h-1.0zM161.5 66.7h1.0v1.0h-1.0zM166.7 46.2h1.0v1.0h-1.0zM153.9 74.8h1.0v1.0h-1.0zM155.3 52.4h1.0v1.0h-1.0zM147.4 63.8h1.0v1.0h-1.0zM167.9 118.4h1.0v1.0h-1.0zM161.1 66.5h1.0v1.0h-1.0zM161.9 67.7h1.0v1.0h-1.0zM158.2 61.6h1.0v1.0h-1.0zM148.3 82.0h1.0v1.0h-1.0zM150.4 83.6h1.0v1.0h-1.0zM152.6 79.1h1.0v1.0h-1.0zM165.9 60.7h1.0v1.0h-1.0zM163.8 51.5h1.0v1.0h-1.0zM155.0 76.4h1.0v1.0h-1.0zM165.8 54.0h1.0v1.0h-1.0zM152.6 117.7h1.0v1.0h-1.0zM158.3 59.9h1.0v1.0h-1.0zM180.3 33.5h1.0v1.0h-1.0zM145.7 105.1h1.0v1.0h-1.0zM143.4 83.2h1.0v1.0h-1.0zM144.6 54.4h1.0v1.0h-1.0zM146.0 114.7h1.0v1.0h-1.0zM162.2 62.5h1.0v1.0h-1.0zM148.8 72.9h1.0v1.0h-1.0zM148.5 74.0h1.0v1.0h-1.0zM159.1 68.6h1.0v1.0h-1.0zM141.5 93.8h1.0v1.0h-1.0zM144.3 83.6h1.0v1.0h-1.0zM177.8 37.2h1.0v1.0h-1.0zM166.3 47.3h1.0v1.0h-1.0zM147.5 75.3h1.0v1.0h-1.0zM183.2 26.0h1.0v1.0h-1.0zM201.8 73.4h1.0v1.0h-1.0zM149.8 116.3h1.0v1.0h-1.0zM149.0 86.1h1.0v1.0h-1.0zM163.4 29.8h1.0v1.0h-1.0zM155.6 66.7h1.0v1.0h-1.0zM185.3 31.2h1.0v1.0h-1.0zM153.3 46.7h1.0v1.0h-1.0zM154.4 78.2h1.0v1.0h-1.0zM146.2 67.8h1.0v1.0h-1.0zM144.4 105.0h1.0v1.0h-1.0zM166.2 35.9h1.0v1.0h-1.0zM146.1 113.6h1.0v1.0h-1.0zM164.9 118.4h1.0v1.0h-1.0zM142.9 70.9h1.0v1.0h-1.0zM177.2 22.9h1.0v1.0h-1.0zM160.9 117.2h1.0v1.0h-1.0zM143.1 100.7h1.0v1.0h-1.0zM150.4 70.8h1.0v1.0h-1.0zM145.6 107.9h1.0v1.0h-1.0zM169.3 56.0h1.0v1.0h-1.0zM186.2 103.2h1.0v1.0h-1.0zM146.4 113.6h1.0v1.0h-1.0zM145.9 106.3h1.0v1.0h-1.0zM144.7 72.0h1.0v1.0h-1.0zM169.1 51.1h1.0v1.0h-1.0zM150.8 117.6h1.0v1.0h-1.0zM145.1 98.7h1.0v1.0h-1.0zM143.4 97.3h1.0v1.0h-1.0zM147.7 87.9h1.0v1.0h-1.0zM152.6 75.6h1.0v1.0h-1.0zM143.9 83.8h1.0v1.0h-1.0zM147.0 87.8h1.0v1.0h-1.0zM171.6 114.5h1.0v1.0h-1.0zM163.2 56.9h1.0v1.0h-1.0zM156.2 117.4h1.0v1.0h-1.0zM146.1 78.8h1.0v1.0h-1.0zM150.8 84.1h1.0v1.0h-1.0zM148.6 76.0h1.0v1.0h-1.0zM188.2 98.9h1.0v1.0h-1.0zM169.1 48.0h1.0v1.0h-1.0zM187.5 99.7h1.0v1.0h-1.0zM153.5 77.0h1.0v1.0h-1.0zM144.9 79.9h1.0v1.0h-1.0zM159.4 71.4h1.0v1.0h-1.0zM154.0 72.4h1.0v1.0h-1.0zM146.3 97.3h1.0v1.0h-1.0zM141.6 108.2h1.0v1.0h-1.0zM151.6 63.2h1.0v1.0h-1.0zM188.4 25.5h1.0v1.0h-1.0zM164.2 61.3h1.0v1.0h-1.0zM149.4 114.7h1.0v1.0h-1.0zM184.9 106.0h1.0v1.0h-1.0zM148.7 116.4h1.0v1.0h-1.0zM152.0 38.2h1.0v1.0h-1.0zM159.7 117.8h1.0v1.0h-1.0zM192.8 86.4h1.0v1.0h-1.0z"/>
<line x1="137.70" y1="31.50" x2="140.70" y2="31.50" stroke="#1a1a1a" stroke-width="0.8"/>
<line x1="139.10" y1="46.74" x2="140.70" y2="46.74" stroke="#1a1a1a" stroke-width="0.8"/>
<line x1="139.10" y1="42.90" x2="140.70" y2="42.90" stroke="#1a1a1a" stroke-width="0.8"/>
<line x1="139.10" y1="40.18" x2="140.70" y2="40.18" stroke="#1a1a1a" stroke-width="0.8"/>
<line x1="139.10" y1="38.06" x2="140.70" y2="38.06" stroke="#1a1a1a" stroke-width="0.8"/>
<line x1="139.10" y1="36.34" x2="140.70" y2="36.34" stroke="#1a1a1a" stroke-width="0.8"/>
<line x1="139.10" y1="34.88" x2="140.70" y2="34.88" stroke="#1a1a1a" stroke-width="0.8"/>
<line x1="139.10" y1="33.61" x2="140.70" y2="33.61" stroke="#1a1a1a" stroke-width="0.8"/>
<line x1="139.10" y1="32.50" x2="140.70" y2="32.50" stroke="#1a1a1a" stroke-width="0.8"/>
<line x1="137.70" y1="53.30" x2="140.70" y2="53.30" stroke="#1a1a1a" stroke-width="0.8"/>
<line x1="139.10" y1="68.54" x2="140.70" y2="68.54" stroke="#1a1a1a" stroke-width="0.8"/>
<line x1="139.10" y1="64.70" x2="140.70" y2="64.70" stroke="#1a1a1a" stroke-width="0.8"/>
<line x1="139.10" y1="61.98" x2="140.70" y2="61.98" stroke="#1a1a1a" stroke-width="0.8"/>
<line x1="139.10" y1="59.86" x2="140.70" y2="59.86" stroke="#1a1a1a" stroke-width="0.8"/>
<line x1="139.10" y1="58.14" x2="140.70" y2="58.14" stroke="#1a1a1a" stroke-width="0.8"/>
<line x1="139.10" y1="56.68" x2="140.70" y2="56.68" stroke="#1a1a1a" stroke-width="0.8"/>
<line x1="139.10" y1="55.41" x2="140.70" y2="55.41" stroke="#1a1a1a" stroke-width="0.8"/>
<line x1="139.10" y1="54.30" x2="140.70" y2="54.30" stroke="#1a1a1a" stroke-width="0.8"/>
<line x1="137.70" y1="75.10" x2="140.70" y2="75.10" stroke="#1a1a1a" stroke-width="0.8"/>
<line x1="139.10" y1="90.34" x2="140.70" y2="90.34" stroke="#1a1a1a" stroke-width="0.8"/>
<line x1="139.10" y1="86.50" x2="140.70" y2="86.50" stroke="#1a1a1a" stroke-width="0.8"/>
<line x1="139.10" y1="83.78" x2="140.70" y2="83.78" stroke="#1a1a1a" stroke-width="0.8"/>
<line x1="139.10" y1="81.66" x2="140.70" y2="81.66" stroke="#1a1a1a" stroke-width="0.8"/>
<line x1="139.10" y1="79.94" x2="140.70" y2="79.94" stroke="#1a1a1a" stroke-width="0.8"/>
<line x1="139.10" y1="78.48" x2="140.70" y2="78.48" stroke="#1a1a1a" stroke-width="0.8"/>
<line x1="139.10" y1="77.21" x2="140.70" y2="77.21" stroke="#1a1a1a" stroke-width="0.8"/>
<line x1="139.10" y1="76.10" x2="140.70" y2="76.10" stroke="#1a1a1a" stroke-width="0.8"/>
<line x1="137.70" y1="96.90" x2="140.70" y2="96.90" stroke="#1a1a1a" stroke-width="0.8"/>
<line x1="139.10" y1="102.00" x2="140.70" y2="102.00" stroke="#1a1a1a" stroke-width="0.8"/>
<line x1="139.10" y1="106.00" x2="140.70" y2="106.00" stroke="#1a1a1a" stroke-width="0.8"/>
<line x1="139.10" y1="110.00" x2="140.70" y2="110.00" stroke="#1a1a1a" stroke-width="0.8"/>
<line x1="139.10" y1="114.00" x2="140.70" y2="114.00" stroke="#1a1a1a" stroke-width="0.8"/>
<line x1="139.10" y1="117.50" x2="140.70" y2="117.50" stroke="#1a1a1a" stroke-width="0.8"/>
<line x1="137.70" y1="110.00" x2="140.70" y2="110.00" stroke="#1a1a1a" stroke-width="0.8"/>
<line x1="139.10" y1="24.94" x2="140.70" y2="24.94" stroke="#1a1a1a" stroke-width="0.8"/>
<line x1="160.80" y1="120.30" x2="160.80" y2="123.30" stroke="#1a1a1a" stroke-width="0.8"/>
<line x1="168.15" y1="120.30" x2="168.15" y2="121.90" stroke="#1a1a1a" stroke-width="0.8"/>
<line x1="172.44" y1="120.30" x2="172.44" y2="121.90" stroke="#1a1a1a" stroke-width="0.8"/>
<line x1="175.49" y1="120.30" x2="175.49" y2="121.90" stroke="#1a1a1a" stroke-width="0.8"/>
<line x1="177.85" y1="120.30" x2="177.85" y2="121.90" stroke="#1a1a1a" stroke-width="0.8"/>
<line x1="179.79" y1="120.30" x2="179.79" y2="121.90" stroke="#1a1a1a" stroke-width="0.8"/>
<line x1="181.42" y1="120.30" x2="181.42" y2="121.90" stroke="#1a1a1a" stroke-width="0.8"/>
<line x1="182.84" y1="120.30" x2="182.84" y2="121.90" stroke="#1a1a1a" stroke-width="0.8"/>
<line x1="184.08" y1="120.30" x2="184.08" y2="121.90" stroke="#1a1a1a" stroke-width="0.8"/>
<line x1="185.20" y1="120.30" x2="185.20" y2="123.30" stroke="#1a1a1a" stroke-width="0.8"/>
<line x1="191.82" y1="120.30" x2="191.82" y2="121.90" stroke="#1a1a1a" stroke-width="0.8"/>
<line x1="195.70" y1="120.30" x2="195.70" y2="121.90" stroke="#1a1a1a" stroke-width="0.8"/>
<line x1="198.45" y1="120.30" x2="198.45" y2="121.90" stroke="#1a1a1a" stroke-width="0.8"/>
<line x1="200.58" y1="120.30" x2="200.58" y2="121.90" stroke="#1a1a1a" stroke-width="0.8"/>
<line x1="202.32" y1="120.30" x2="202.32" y2="121.90" stroke="#1a1a1a" stroke-width="0.8"/>
<line x1="203.79" y1="120.30" x2="203.79" y2="121.90" stroke="#1a1a1a" stroke-width="0.8"/>
<line x1="205.07" y1="120.30" x2="205.07" y2="121.90" stroke="#1a1a1a" stroke-width="0.8"/>
<line x1="206.19" y1="120.30" x2="206.19" y2="121.90" stroke="#1a1a1a" stroke-width="0.8"/>
<line x1="207.20" y1="120.30" x2="207.20" y2="123.30" stroke="#1a1a1a" stroke-width="0.8"/>
<line x1="213.67" y1="120.30" x2="213.67" y2="121.90" stroke="#1a1a1a" stroke-width="0.8"/>
<line x1="217.46" y1="120.30" x2="217.46" y2="121.90" stroke="#1a1a1a" stroke-width="0.8"/>
<line x1="220.14" y1="120.30" x2="220.14" y2="121.90" stroke="#1a1a1a" stroke-width="0.8"/>
<line x1="222.23" y1="120.30" x2="222.23" y2="121.90" stroke="#1a1a1a" stroke-width="0.8"/>
<line x1="223.93" y1="120.30" x2="223.93" y2="121.90" stroke="#1a1a1a" stroke-width="0.8"/>
<line x1="225.37" y1="120.30" x2="225.37" y2="121.90" stroke="#1a1a1a" stroke-width="0.8"/>
<line x1="226.62" y1="120.30" x2="226.62" y2="121.90" stroke="#1a1a1a" stroke-width="0.8"/>
<line x1="227.72" y1="120.30" x2="227.72" y2="121.90" stroke="#1a1a1a" stroke-width="0.8"/>
<line x1="228.70" y1="120.30" x2="228.70" y2="123.30" stroke="#1a1a1a" stroke-width="0.8"/>
<line x1="235.17" y1="120.30" x2="235.17" y2="121.90" stroke="#1a1a1a" stroke-width="0.8"/>
<line x1="238.96" y1="120.30" x2="238.96" y2="121.90" stroke="#1a1a1a" stroke-width="0.8"/>
<line x1="143.70" y1="120.30" x2="143.70" y2="121.90" stroke="#1a1a1a" stroke-width="0.8"/>
<line x1="146.70" y1="120.30" x2="146.70" y2="121.90" stroke="#1a1a1a" stroke-width="0.8"/>
<line x1="150.00" y1="120.30" x2="150.00" y2="121.90" stroke="#1a1a1a" stroke-width="0.8"/>
<line x1="153.20" y1="120.30" x2="153.20" y2="121.90" stroke="#1a1a1a" stroke-width="0.8"/>
<line x1="156.20" y1="120.30" x2="156.20" y2="121.90" stroke="#1a1a1a" stroke-width="0.8"/>
<line x1="150.00" y1="120.30" x2="150.00" y2="123.30" stroke="#1a1a1a" stroke-width="0.8"/>
<rect x="138.30" y="22.00" width="2.40" height="98.30" fill="#000" fill-opacity="0.35"/>
<rect x="140.70" y="120.30" width="98.90" height="2.00" fill="#000" fill-opacity="0.25"/>
<rect x="140.70" y="22.00" width="98.90" height="98.30" fill="none" stroke="#000" stroke-width="1.15"/>
<text x="150.00" y="131.50" font-size="6.6" text-anchor="middle" font-weight="normal" fill="#000">0</text>
<text x="159.30" y="131.50" font-size="6.6" text-anchor="middle" font-weight="normal" fill="#000">10</text>
<text x="163.10" y="128.80" font-size="4.6" text-anchor="start" font-weight="normal" fill="#000" style="stroke-width:0.1px">2</text>
<text x="183.70" y="131.50" font-size="6.6" text-anchor="middle" font-weight="normal" fill="#000">10</text>
<text x="187.50" y="128.80" font-size="4.6" text-anchor="start" font-weight="normal" fill="#000" style="stroke-width:0.1px">3</text>
<text x="205.70" y="131.50" font-size="6.6" text-anchor="middle" font-weight="normal" fill="#000">10</text>
<text x="209.50" y="128.80" font-size="4.6" text-anchor="start" font-weight="normal" fill="#000" style="stroke-width:0.1px">4</text>
<text x="227.20" y="131.50" font-size="6.6" text-anchor="middle" font-weight="normal" fill="#000">10</text>
<text x="231.00" y="128.80" font-size="4.6" text-anchor="start" font-weight="normal" fill="#000" style="stroke-width:0.1px">5</text>
<rect x="186.40" y="22.60" width="44.60" height="55.20" fill="none" stroke="#000" stroke-width="1.0"/>
<text x="228.30" y="61.70" font-size="8.2" text-anchor="end" font-weight="normal" fill="#000">56</text>
<text x="168.40" y="19.30" font-size="9.0" text-anchor="middle" font-weight="normal" fill="#000">KO</text>
<text x="37.00" y="139.60" font-size="7.4" text-anchor="start" font-weight="normal" fill="#000" textLength="19" lengthAdjust="spacingAndGlyphs">Foxp3</text>
<line x1="58.50" y1="137.00" x2="226.00" y2="137.00" stroke="#222" stroke-width="1.2"/>
<polygon points="230.5,137.0 224.0,134.3 224.0,139.7" fill="#111"/>
<g fill="none" stroke="#000" stroke-width="0.7" stroke-linejoin="round" clip-path="url(#chw)">
<path d="M101.4 376.5l-1-0.1l-1-0.7l-0.8-1.5l-0.3-1.6l0.1-1.7l0.6-1.5l0.9-1l1-0.4l1 0.3l0.9 0.8l0.5 1.3l0.3 1.5l-0.1 1.5l-0.5 1.5l-0.7 1l-0.9 0.6zM101.6 402.1l-3.2 0l-1.2-0.2l-0.5-0.3l-0.1-0.2l0.9-0.5l2.6-0.3l2.5 0.3l0.9 0.5l-0.1 0.2l-0.5 0.3l-1.3 0.2z" fill="#000" fill-opacity="0.07" stroke="none"/>
<path d="M101.4 378.6l-0.8 0l-0.7-0.2l-0.8-0.5l-0.7-0.8l-0.9-2l-0.4-2.5l0.2-2.5l0.8-2.1l1.3-1.4l1.5-0.5l1.5 0.4l1.2 1.3l0.9 1.8l0.3 2.3l-0.2 2.4l-0.7 2.1l-1.1 1.5l-1.4 0.7zM102.1 402.4l-2.2 0.1l-2.3-0.2l-1.8-0.4l-0.4-0.5l0.6-0.5l0.8-0.3l3.3-0.3l3.3 0.3l0.8 0.3l0.5 0.5l0 0.2l-0.6 0.3l-2 0.5z" fill="#000" fill-opacity="0.07" stroke="none"/>
<path d="M101.4 380.4l-1 0l-1-0.4l-0.8-0.6l-0.9-1l-1.1-2.5l-0.5-3.3l0.3-3l1-2.5l1.5-1.8l1-0.5l1-0.2l1 0.2l1 0.5l1.5 1.5l1 2.3l0.4 2.8l-0.2 3l-1 2.7l-1.5 1.9l-0.7 0.5l-1 0.4zM102.4 402.6l-2.8 0.1l-2.7-0.2l-1.8-0.4l-0.7-0.5l-0.1-0.2l0.5-0.5l1.6-0.5l3.7-0.4l3.8 0.4l1.4 0.5l0.5 0.5l-0.4 0.5l-0.5 0.2l-2.5 0.5z" fill="#000" fill-opacity="0.07" stroke="none"/>
<path d="M101.6 381.9l-1.2 0l-1-0.3l-1-0.6l-1-1.1l-0.8-1.3l-0.7-1.7l-0.4-1.8l-0.2-2l0.2-3.5l0.5-1.7l0.6-1.5l0.8-1.1l1-1l1-0.6l1.2-0.4l1.3 0.2l1 0.4l1 0.7l0.8 1l0.8 1.3l0.6 1.5l0.5 3.2l-0.2 3.5l-1 3.3l-0.8 1.2l-1 1.2l-1 0.7l-1 0.4zM102.1 402.9l-3.2 0l-2.9-0.3l-1.8-0.5l-0.5-0.2l-0.3-0.5l0.4-0.5l1.6-0.6l2.2-0.4l2.5-0.1l2.5 0.1l2 0.4l1.7 0.6l0.4 0.5l-0.3 0.5l-1.2 0.5l-3.1 0.5z" fill="#000" fill-opacity="0.07" stroke="none"/>
<path d="M101.4 383.4l-1.3 0l-1.2-0.5l-1.3-1l-1-1.2l-0.8-1.6l-0.7-2l-0.4-2l-0.2-2.2l0-2l0.3-2l0.6-1.8l0.8-1.7l0.9-1.3l1.3-1.2l1.2-0.6l1.3-0.2l1.2 0.2l1.3 0.6l1.1 1l1 1.2l0.8 1.5l0.6 1.8l0.5 3.7l-0.4 4l-0.5 2l-0.8 1.8l-1 1.5l-1 1l-1.1 0.6l-1.2 0.4zM101.1 403.1l-3.2 0l-2.8-0.4l-1.9-0.6l-0.4-0.2l-0.2-0.5l0.8-0.8l1.5-0.5l2.5-0.4l2.7-0.1l2.8 0.1l2.4 0.4l1.5 0.5l0.7 0.8l-0.2 0.5l-0.4 0.2l-1.3 0.5l-2 0.3l-2.5 0.2z" fill="#000" fill-opacity="0.07" stroke="none"/>
<path d="M102.1 384.7l-1.5 0.2l-1.5-0.4l-1.2-0.7l-1.3-1.3l-1-1.6l-0.9-2l-0.6-2.5l-0.4-2.5l0-2.5l0.3-2.3l0.6-2.2l0.8-1.9l1.1-1.6l1.2-1.3l1.4-0.8l1.5-0.3l1.5 0.1l1.3 0.6l1.2 0.9l1.1 1.3l1 1.5l0.7 1.7l0.5 2l0.3 2.3l0 2.2l-0.3 2.3l-0.5 2.2l-0.8 2l-0.9 1.8l-1.1 1.2l-1.2 1l-1.3 0.6zM103.9 403.1l-8.3-0.1l-2.8-0.6l-0.8-0.5l-0.3-0.5l0.7-0.8l1.7-0.6l2.5-0.4l3-0.2l3 0.1l2.8 0.4l1.8 0.5l1.1 0.7l0 0.5l-0.2 0.3l-0.8 0.5l-3.4 0.7z" fill="#000" fill-opacity="0.07" stroke="none"/>
<path d="M101.9 386.1l-1.8 0.1l-1.5-0.5l-1.5-1l-1.2-1.4l-1.2-1.9l-0.8-2.3l-0.6-2.7l-0.3-2.8l0-2.7l0.4-2.4l0.6-2.4l0.9-2l1.2-1.7l1.5-1.5l1.5-0.8l1.5-0.3l1.5 0.2l1.5 0.6l1.5 1.2l1.3 1.5l1 1.8l0.8 2l0.5 2.3l0.2 2.2l0 2.7l-0.4 2.6l-0.6 2.5l-0.8 2l-1.1 1.7l-1.3 1.5l-1.3 1l-1.5 0.5zM105.4 403.1l-10.7 0l-2.8-0.7l-0.7-0.5l-0.3-0.5l0.7-0.8l2-0.7l2.8-0.5l3.2-0.2l3.3 0.1l3 0.4l2.2 0.7l1 0.7l0 0.5l-0.7 0.7l-3 0.8z" fill="#000" fill-opacity="0.07" stroke="none"/>
<path d="M102.4 387.4l-1.8 0.2l-1.7-0.3l-1.8-1l-1.5-1.5l-1.2-2l-1-2.4l-0.7-2.8l-0.4-3l0-3l0.2-2.7l0.7-2.8l0.9-2.2l1.3-2.1l1.5-1.6l1.7-1.1l1.8-0.4l1.7 0.1l1.5 0.6l1.5 1.1l1.5 1.6l1.1 1.8l1 2.2l0.6 2.5l0.3 2.5l0 2.8l-0.2 2.7l-0.6 2.8l-0.9 2.5l-1.1 2l-1.4 1.7l-1.5 1.2l-1.5 0.6zM106.6 403.1l-13.2 0l-2.4-0.7l-0.7-0.5l-0.2-0.5l0.3-0.5l0.7-0.5l2-0.7l3-0.5l3.5-0.3l3.5 0.2l3.3 0.4l2.5 0.8l1 0.8l0 0.5l-0.5 0.6l-1 0.5l-1.8 0.4z" fill="#000" fill-opacity="0.07" stroke="none"/>
<path d="M101.9 388.9l-2 0l-2-0.6l-1.8-1.2l-1.4-1.7l-1.3-2.3l-0.9-2.5l-0.7-3.2l-0.3-3.3l0.1-3.2l0.4-3l0.7-2.8l1.1-2.5l1.4-2l1.7-1.7l1.7-1l2-0.4l1.8 0.2l1.7 0.8l1.8 1.4l1.5 1.8l1.2 2.2l0.9 2.5l0.6 2.7l0.3 2.8l-0.1 3l-0.4 3.2l-0.8 3l-1 2.5l-1.2 2l-1.5 1.6l-1.8 1.1l-1.7 0.6zM107.9 403.1l-15.7 0l-2.1-0.7l-0.6-0.5l-0.2-0.5l0.5-0.8l1-0.5l3.3-0.9l4.5-0.5l4.8 0.1l4.6 0.8l1.6 0.6l1 0.7l0.2 0.7l-0.4 0.5l-1 0.5l-1.5 0.5z" fill="#000" fill-opacity="0.07" stroke="none"/>
<path d="M102.4 390.2l-2.3 0.1l-2-0.5l-2-1.1l-1.7-1.8l-1.3-2l-1.1-2.8l-0.8-3.2l-0.4-3.8l0-3.5l0.3-3.2l0.8-3.3l1.1-2.7l1.5-2.5l1.9-2l2-1.2l2-0.5l2 0.2l1.7 0.8l1.9 1.4l1.7 2l1.4 2.3l1 2.5l0.7 3l0.3 3l0 3.2l-0.4 3.5l-0.7 3.3l-1 2.7l-1.3 2.3l-1.6 1.8l-1.7 1.2l-2 0.8zM108.9 403.1l-17.8 0l-1.9-0.7l-0.6-0.5l-0.1-0.5l0.4-0.7l0.9-0.6l3.8-1.1l4.8-0.5l4.7 0l3 0.4l2.5 0.6l1.8 0.6l1 0.8l0.2 0.7l-0.4 0.5l-0.8 0.5l-1.5 0.5z" fill="#000" fill-opacity="0.07" stroke="none"/>
<path d="M101.4 376.5l-1-0.1l-1-0.7l-0.8-1.5l-0.3-1.6l0.1-1.7l0.6-1.5l0.9-1l1-0.4l1 0.3l0.9 0.8l0.5 1.3l0.3 1.5l-0.1 1.5l-0.5 1.5l-0.7 1l-0.9 0.6M101.6 402.1l-3.2 0l-1.2-0.2l-0.5-0.3l-0.1-0.2l0.9-0.5l2.6-0.3l2.5 0.3l0.9 0.5l-0.1 0.2l-0.5 0.3l-1.3 0.2M101.4 378.6l-0.8 0l-0.7-0.2l-0.8-0.5l-0.7-0.8l-0.9-2l-0.4-2.5l0.2-2.5l0.8-2.1l1.3-1.4l1.5-0.5l1.5 0.4l1.2 1.3l0.9 1.8l0.3 2.3l-0.2 2.4l-0.7 2.1l-1.1 1.5l-1.4 0.7M102.1 402.4l-2.2 0.1l-2.3-0.2l-1.8-0.4l-0.4-0.5l0.6-0.5l0.8-0.3l3.3-0.3l3.3 0.3l0.8 0.3l0.5 0.5l0 0.2l-0.6 0.3l-2 0.5M101.4 380.4l-1 0l-1-0.4l-0.8-0.6l-0.9-1l-1.1-2.5l-0.5-3.3l0.3-3l1-2.5l1.5-1.8l1-0.5l1-0.2l1 0.2l1 0.5l1.5 1.5l1 2.3l0.4 2.8l-0.2 3l-1 2.7l-1.5 1.9l-0.7 0.5l-1 0.4M102.4 402.6l-2.8 0.1l-2.7-0.2l-1.8-0.4l-0.7-0.5l-0.1-0.2l0.5-0.5l1.6-0.5l3.7-0.4l3.8 0.4l1.4 0.5l0.5 0.5l-0.4 0.5l-0.5 0.2l-2.5 0.5M101.6 381.9l-1.2 0l-1-0.3l-1-0.6l-1-1.1l-0.8-1.3l-0.7-1.7l-0.4-1.8l-0.2-2l0.2-3.5l0.5-1.7l0.6-1.5l0.8-1.1l1-1l1-0.6l1.2-0.4l1.3 0.2l1 0.4l1 0.7l0.8 1l0.8 1.3l0.6 1.5l0.5 3.2l-0.2 3.5l-1 3.3l-0.8 1.2l-1 1.2l-1 0.7l-1 0.4M102.1 402.9l-3.2 0l-2.9-0.3l-1.8-0.5l-0.5-0.2l-0.3-0.5l0.4-0.5l1.6-0.6l2.2-0.4l2.5-0.1l2.5 0.1l2 0.4l1.7 0.6l0.4 0.5l-0.3 0.5l-1.2 0.5l-3.1 0.5M101.4 383.4l-1.3 0l-1.2-0.5l-1.3-1l-1-1.2l-0.8-1.6l-0.7-2l-0.4-2l-0.2-2.2l0-2l0.3-2l0.6-1.8l0.8-1.7l0.9-1.3l1.3-1.2l1.2-0.6l1.3-0.2l1.2 0.2l1.3 0.6l1.1 1l1 1.2l0.8 1.5l0.6 1.8l0.5 3.7l-0.4 4l-0.5 2l-0.8 1.8l-1 1.5l-1 1l-1.1 0.6l-1.2 0.4M101.1 403.1l-3.2 0l-2.8-0.4l-1.9-0.6l-0.4-0.2l-0.2-0.5l0.8-0.8l1.5-0.5l2.5-0.4l2.7-0.1l2.8 0.1l2.4 0.4l1.5 0.5l0.7 0.8l-0.2 0.5l-0.4 0.2l-1.3 0.5l-2 0.3l-2.5 0.2M102.1 384.7l-1.5 0.2l-1.5-0.4l-1.2-0.7l-1.3-1.3l-1-1.6l-0.9-2l-0.6-2.5l-0.4-2.5l0-2.5l0.3-2.3l0.6-2.2l0.8-1.9l1.1-1.6l1.2-1.3l1.4-0.8l1.5-0.3l1.5 0.1l1.3 0.6l1.2 0.9l1.1 1.3l1 1.5l0.7 1.7l0.5 2l0.3 2.3l0 2.2l-0.3 2.3l-0.5 2.2l-0.8 2l-0.9 1.8l-1.1 1.2l-1.2 1l-1.3 0.6M103.9 403.1l-8.3-0.1l-2.8-0.6l-0.8-0.5l-0.3-0.5l0.7-0.8l1.7-0.6l2.5-0.4l3-0.2l3 0.1l2.8 0.4l1.8 0.5l1.1 0.7l0 0.5l-0.2 0.3l-0.8 0.5l-3.4 0.7M101.9 386.1l-1.8 0.1l-1.5-0.5l-1.5-1l-1.2-1.4l-1.2-1.9l-0.8-2.3l-0.6-2.7l-0.3-2.8l0-2.7l0.4-2.4l0.6-2.4l0.9-2l1.2-1.7l1.5-1.5l1.5-0.8l1.5-0.3l1.5 0.2l1.5 0.6l1.5 1.2l1.3 1.5l1 1.8l0.8 2l0.5 2.3l0.2 2.2l0 2.7l-0.4 2.6l-0.6 2.5l-0.8 2l-1.1 1.7l-1.3 1.5l-1.3 1l-1.5 0.5M105.4 403.1l-10.7 0l-2.8-0.7l-0.7-0.5l-0.3-0.5l0.7-0.8l2-0.7l2.8-0.5l3.2-0.2l3.3 0.1l3 0.4l2.2 0.7l1 0.7l0 0.5l-0.7 0.7l-3 0.8M102.4 387.4l-1.8 0.2l-1.7-0.3l-1.8-1l-1.5-1.5l-1.2-2l-1-2.4l-0.7-2.8l-0.4-3l0-3l0.2-2.7l0.7-2.8l0.9-2.2l1.3-2.1l1.5-1.6l1.7-1.1l1.8-0.4l1.7 0.1l1.5 0.6l1.5 1.1l1.5 1.6l1.1 1.8l1 2.2l0.6 2.5l0.3 2.5l0 2.8l-0.2 2.7l-0.6 2.8l-0.9 2.5l-1.1 2l-1.4 1.7l-1.5 1.2l-1.5 0.6M106.6 403.1l-13.2 0l-2.4-0.7l-0.7-0.5l-0.2-0.5l0.3-0.5l0.7-0.5l2-0.7l3-0.5l3.5-0.3l3.5 0.2l3.3 0.4l2.5 0.8l1 0.8l0 0.5l-0.5 0.6l-1 0.5l-1.8 0.4M101.9 388.9l-2 0l-2-0.6l-1.8-1.2l-1.4-1.7l-1.3-2.3l-0.9-2.5l-0.7-3.2l-0.3-3.3l0.1-3.2l0.4-3l0.7-2.8l1.1-2.5l1.4-2l1.7-1.7l1.7-1l2-0.4l1.8 0.2l1.7 0.8l1.8 1.4l1.5 1.8l1.2 2.2l0.9 2.5l0.6 2.7l0.3 2.8l-0.1 3l-0.4 3.2l-0.8 3l-1 2.5l-1.2 2l-1.5 1.6l-1.8 1.1l-1.7 0.6M107.9 403.1l-15.7 0l-2.1-0.7l-0.6-0.5l-0.2-0.5l0.5-0.8l1-0.5l3.3-0.9l4.5-0.5l4.8 0.1l4.6 0.8l1.6 0.6l1 0.7l0.2 0.7l-0.4 0.5l-1 0.5l-1.5 0.5M102.4 390.2l-2.3 0.1l-2-0.5l-2-1.1l-1.7-1.8l-1.3-2l-1.1-2.8l-0.8-3.2l-0.4-3.8l0-3.5l0.3-3.2l0.8-3.3l1.1-2.7l1.5-2.5l1.9-2l2-1.2l2-0.5l2 0.2l1.7 0.8l1.9 1.4l1.7 2l1.4 2.3l1 2.5l0.7 3l0.3 3l0 3.2l-0.4 3.5l-0.7 3.3l-1 2.7l-1.3 2.3l-1.6 1.8l-1.7 1.2l-2 0.8M108.9 403.1l-17.8 0l-1.9-0.7l-0.6-0.5l-0.1-0.5l0.4-0.7l0.9-0.6l3.8-1.1l4.8-0.5l4.7 0l3 0.4l2.5 0.6l1.8 0.6l1 0.8l0.2 0.7l-0.4 0.5l-0.8 0.5l-1.5 0.5M102.1 391.6l-2.5 0.1l-2.2-0.7l-2-1.2l-1.8-1.9l-1.4-2.3l-1.1-3l-0.7-3.5l-0.4-4l0-4l0.4-3.5l0.9-3.2l1.2-3l1.6-2.6l2-2.1l2-1.3l2.3-0.6l2 0.3l2.2 1l2 1.7l1.7 2.1l1.5 2.5l1 2.7l0.8 3l0.3 3.5l0 3.8l-0.4 3.7l-0.9 3.5l-1.2 3l-1.4 2.3l-1.6 1.7l-2 1.3l-2.3 0.7M109.9 403.1l-19.9 0l-1.7-0.7l-0.6-0.5l-0.1-0.5l0.4-0.8l1.1-0.6l4-1.2l5-0.6l5 0l2.8 0.3l3 0.7l2 0.7l1.2 0.7l0.4 0.8l-0.1 0.5l-1 0.7l-1.5 0.5M101.1 393.1l-2.5-0.2l-2.5-1l-2-1.5l-1.7-2.1l-1.4-2.7l-0.9-3l-0.7-4l-0.3-4.2l0.1-4l0.6-3.8l1-3.5l1.3-3l1.8-2.7l2.2-2.3l2-1.2l2.3-0.6l2.2 0.4l2.3 1.1l2.2 2l2 2.5l1.5 2.8l1.2 3.3l0.7 3.5l0.3 3.7l-0.1 4l-0.6 4.3l-1 3.5l-1.3 3l-1.7 2.3l-2 1.8l-2.5 1.2l-2.5 0.4M111.1 403.1l-11.2 0.2l-11-0.2l-1.6-0.7l-0.5-0.5l-0.1-0.5l0.4-0.8l1-0.6l3.8-1.3l5.7-0.9l4.8 0l2.7 0.3l3.3 0.6l2.3 0.7l1.7 0.7l0.9 0.8l0.1 0.7l-0.6 0.8l-1.7 0.7M101.6 394.6l-2.7-0.1l-2.8-0.9l-2.5-1.7l-1.9-2.3l-1.4-2.5l-1.1-3.2l-0.7-4l-0.3-4.5l0.1-4.5l0.5-4l1-3.8l1.4-3.5l2-3.2l2.4-2.7l2.5-1.6l2.3-0.5l2.2 0.4l2.5 1.4l2.5 2.2l2.1 2.8l1.6 3l1.3 3.5l0.7 3.5l0.4 4l-0.1 4.5l-0.6 4.5l-0.9 3.7l-1.3 3l-1.7 2.5l-2.2 2l-2.5 1.4l-2.8 0.6M112.1 403.1l-12.2 0.2l-12.2-0.2l-1.4-0.7l-0.5-0.5l-0.1-0.5l0.4-0.8l1.1-0.7l3.9-1.4l6.5-1.2l4.3-0.2l2.7 0.4l3.8 0.8l2.7 0.8l2 0.8l1.2 1l0.1 0.7l-0.8 0.9l-1.5 0.6M113.4 403.1l-13.5 0.2l-13.3-0.2l-1.3-0.7l-0.6-0.8l0-0.5l0.3-0.5l1.6-1l2.8-1l6-1.7l1.1-0.5l0.1-0.3l-0.2-0.5l-3-2.1l-1.8-1.6l-1.4-2l-1.1-2.3l-0.9-3l-0.6-3.7l-0.3-4.5l0-4.3l0.4-3.7l0.6-3.5l1-3.3l1.4-3.2l1.8-3l2.1-2.7l2.3-2l2-1l1.7-0.2l2 0.5l2.3 1.3l2.2 2l2 2.3l1.8 2.8l1.5 3l1.1 3.2l0.8 4.5l0.3 5.3l-0.4 5.7l-0.9 5l-1.3 3.5l-1.8 2.8l-1.8 1.9l-3.4 2.3l-0.4 0.5l0.1 0.3l0.9 0.5l6.5 2l1.6 0.7l1.2 0.8l0.5 0.7l-0.1 0.8l-0.8 0.7l-1.1 0.5M98.9 330.5l-0.8 0.1l-0.7-0.4l-0.5-0.6l-0.4-1l0-1l0.2-0.7l0.4-0.7l0.8-0.4l0.7 0l0.7 0.3l0.6 0.8l0.2 0.7l0 1l-0.2 0.8l-0.5 0.7l-0.5 0.4M114.9 403.1l-14.8 0.2l-14.9-0.2l-1.2-0.7l-0.5-0.8l0-0.5l0.3-0.5l1.1-0.8l2.2-1l4.7-1.7l0.9-0.5l0.3-0.5l-0.3-0.7l-2.3-2.5l-1.4-2l-1.1-2.3l-0.8-2.5l-0.6-3.5l-0.3-4.5l0-5l0.3-4.2l0.6-3.5l0.9-3.5l1.3-3.3l1.5-3l2.1-3.3l2.5-3.2l2-1.9l1.7-0.9l1.8 0l1.7 0.8l2.5 1.9l2.8 2.9l2.2 2.9l1.8 2.8l1.4 3l1.1 3.3l0.9 4.5l0.4 5l-0.2 5.7l-0.6 5l-0.9 3.5l-1.2 2.8l-1.4 2.1l-2.8 2.9l-0.4 0.7l0.2 0.5l0.7 0.5l5 2l2 1.3l0.5 0.7l-0.1 0.8l-0.7 0.7l-0.9 0.5M99.4 334.7l-0.5 0l-0.8-0.3l-1.7-1.7l-1.1-1.8l-0.5-2l0.1-1.8l0.7-1.7l1-1.1l1.5-0.6l1.3 0.2l1.2 0.8l0.9 1.4l0.5 1.8l0 2l-0.5 2l-1.1 2l-1 0.8M116.1 403.1l-15.2 0.2l-16.5-0.2l-0.4 0l-0.8-0.5l-0.8-1l0.1-0.7l1-1l1.6-0.9l4.5-1.9l0.7-0.5l0.3-0.5l-0.3-0.7l-1.9-2.6l-1.2-2.2l-1-2.5l-0.6-2.7l-0.4-4l-0.1-5l0.2-5l0.4-4.3l1.4-5.7l2.2-5.5l8.3-14.8l1-1.4l0.8-0.6l0.7 0.2l1 0.9l3.4 4.9l6.5 8.8l2.7 5l1.8 5l0.8 4.2l0.4 5l0 5.8l-0.5 5l-0.7 3.2l-1 3l-1.2 2.3l-2.3 3l-0.4 0.7l0.2 0.5l0.5 0.5l4.6 2.3l1.6 1.2l0.3 0.8l-0.2 0.5l-0.6 0.7l-0.9 0.5M117.4 403.1l-15.5 0.2l-18.5-0.1l-0.8-0.1l-0.4-0.2l-0.6-0.5l-0.5-0.8l0.1-0.7l0.9-1l5-2.5l0.7-0.5l0.4-0.8l-0.2-0.7l-1.7-2.8l-0.9-2l-0.7-2.2l-0.5-2.5l-0.3-3.3l-0.1-4.5l0.2-5.2l0.4-4.5l0.9-4.8l1.2-4.2l1.6-4l3.9-8.5l1.5-4.8l0.5-3.2l0.3-2.8l-0.1-1.7l-0.8-5l0-1.8l0.3-1.5l0.6-1.5l0.9-1.2l1.2-1l1.2-0.6l1.5-0.1l1.5 0.6l1.4 1.1l1.1 1.7l0.5 1.5l0.4 1.8l0.4 5.5l0.5 3.7l1.3 5l1.7 3.8l4.4 7l1.7 3.2l1.5 3.5l1.2 4l0.8 4.3l0.4 4.7l0 6l-0.3 5l-0.6 3.3l-0.8 2.7l-1.1 2.3l-1.9 3l-0.2 0.7l0.2 0.8l0.5 0.5l3.7 2l1.4 1.2l0.2 0.8l-0.1 0.5l-0.6 0.7l-0.9 0.5M119.6 403.1l-14.7 0.2l-23-0.1l-1.6-0.1l-0.9-0.7l-0.4-0.8l0.1-0.7l0.8-1l4-2.5l0.8-1l-0.1-1l-1.4-2.8l-0.7-2l-0.8-4.2l-0.1-5.5l0.6-9.8l0.7-5.5l1.1-4.7l1.2-4l3.2-8.4l1.1-4.1l0.6-4.3l0.7-10.7l0.5-3.3l1.1-3.2l1.7-2.8l2-2.1l1.3-0.7l1-0.4l2 0l2 1l2 2.1l1.5 2.9l0.9 2.5l0.8 3.2l1.5 11l0.9 3.8l1.5 3.7l4.8 9.5l1.2 3.3l0.8 3l0.9 4.2l0.5 4.8l0.3 6.7l-0.1 5.3l-0.3 3.2l-0.6 2.8l-0.9 2.5l-1.6 3.2l-0.1 0.8l0.5 1l3.2 2.2l0.9 1l0.2 0.8l-0.2 0.5l-0.5 0.7l-0.9 0.5"/>
</g>
<path fill="#000" d="M107.9 324.2h1.0v1.0h-1.0zM103.1 310.0h1.0v1.0h-1.0zM115.6 310.9h1.0v1.0h-1.0zM96.6 311.2h1.0v1.0h-1.0zM121.7 328.5h1.0v1.0h-1.0zM107.8 323.9h1.0v1.0h-1.0zM116.9 341.9h1.0v1.0h-1.0zM87.7 329.9h1.0v1.0h-1.0zM99.1 313.7h1.0v1.0h-1.0zM114.2 337.0h1.0v1.0h-1.0zM99.7 315.0h1.0v1.0h-1.0zM114.7 345.0h1.0v1.0h-1.0zM87.8 306.9h1.0v1.0h-1.0zM83.2 359.1h1.0v1.0h-1.0zM106.3 309.4h1.0v1.0h-1.0zM108.5 320.8h1.0v1.0h-1.0zM86.3 319.3h1.0v1.0h-1.0zM109.0 329.2h1.0v1.0h-1.0zM88.4 331.9h1.0v1.0h-1.0zM91.2 311.6h1.0v1.0h-1.0zM82.1 345.5h1.0v1.0h-1.0zM121.5 361.2h1.0v1.0h-1.0zM99.1 315.3h1.0v1.0h-1.0zM126.9 353.2h1.0v1.0h-1.0zM119.2 365.7h1.0v1.0h-1.0zM113.8 316.0h1.0v1.0h-1.0zM80.8 336.9h1.0v1.0h-1.0zM103.1 308.3h1.0v1.0h-1.0zM116.7 320.4h1.0v1.0h-1.0zM109.6 332.3h1.0v1.0h-1.0zM100.2 311.2h1.0v1.0h-1.0zM83.5 310.3h1.0v1.0h-1.0zM108.7 332.8h1.0v1.0h-1.0zM88.3 328.6h1.0v1.0h-1.0zM79.6 379.4h1.0v1.0h-1.0zM123.1 373.3h1.0v1.0h-1.0zM84.6 321.3h1.0v1.0h-1.0zM85.3 309.5h1.0v1.0h-1.0zM107.9 331.5h1.0v1.0h-1.0zM96.1 314.8h1.0v1.0h-1.0zM87.5 313.8h1.0v1.0h-1.0zM85.3 348.8h1.0v1.0h-1.0zM74.1 388.4h1.0v1.0h-1.0zM111.2 322.0h1.0v1.0h-1.0zM116.5 337.7h1.0v1.0h-1.0zM78.7 341.7h1.0v1.0h-1.0zM109.5 319.0h1.0v1.0h-1.0zM118.3 358.7h1.0v1.0h-1.0zM109.9 334.9h1.0v1.0h-1.0zM106.4 322.9h1.0v1.0h-1.0zM110.6 315.1h1.0v1.0h-1.0zM119.4 393.6h1.0v1.0h-1.0zM80.0 371.2h1.0v1.0h-1.0zM121.9 378.9h1.0v1.0h-1.0zM123.0 362.2h1.0v1.0h-1.0zM89.0 332.9h1.0v1.0h-1.0zM105.7 314.1h1.0v1.0h-1.0zM109.9 316.0h1.0v1.0h-1.0zM111.0 315.3h1.0v1.0h-1.0zM86.5 325.8h1.0v1.0h-1.0zM101.6 314.3h1.0v1.0h-1.0zM86.5 315.9h1.0v1.0h-1.0zM106.8 325.1h1.0v1.0h-1.0zM109.1 330.0h1.0v1.0h-1.0zM87.4 330.9h1.0v1.0h-1.0zM105.7 321.8h1.0v1.0h-1.0zM101.1 316.3h1.0v1.0h-1.0zM111.1 332.6h1.0v1.0h-1.0zM117.7 326.8h1.0v1.0h-1.0zM107.8 325.5h1.0v1.0h-1.0zM94.2 307.3h1.0v1.0h-1.0zM87.5 321.3h1.0v1.0h-1.0zM83.3 335.8h1.0v1.0h-1.0zM128.8 365.7h1.0v1.0h-1.0zM96.0 316.9h1.0v1.0h-1.0zM89.7 307.1h1.0v1.0h-1.0zM89.1 327.7h1.0v1.0h-1.0zM108.3 306.0h1.0v1.0h-1.0zM80.5 342.9h1.0v1.0h-1.0zM88.1 325.6h1.0v1.0h-1.0zM81.2 349.3h1.0v1.0h-1.0zM82.4 331.0h1.0v1.0h-1.0zM108.8 330.2h1.0v1.0h-1.0zM85.0 333.5h1.0v1.0h-1.0zM92.2 306.3h1.0v1.0h-1.0zM107.3 319.4h1.0v1.0h-1.0zM116.8 330.7h1.0v1.0h-1.0zM100.5 308.2h1.0v1.0h-1.0zM111.2 334.8h1.0v1.0h-1.0zM109.9 333.2h1.0v1.0h-1.0zM91.9 318.1h1.0v1.0h-1.0zM103.3 316.2h1.0v1.0h-1.0zM102.7 308.4h1.0v1.0h-1.0zM115.0 328.5h1.0v1.0h-1.0zM93.3 317.3h1.0v1.0h-1.0zM106.2 312.8h1.0v1.0h-1.0zM88.6 335.0h1.0v1.0h-1.0zM114.7 323.7h1.0v1.0h-1.0zM80.1 345.4h1.0v1.0h-1.0zM101.2 316.0h1.0v1.0h-1.0zM97.4 314.4h1.0v1.0h-1.0zM69.4 397.7h1.0v1.0h-1.0zM85.1 333.1h1.0v1.0h-1.0zM118.2 323.2h1.0v1.0h-1.0zM90.6 325.8h1.0v1.0h-1.0zM93.0 316.0h1.0v1.0h-1.0zM99.2 306.4h1.0v1.0h-1.0zM89.8 329.0h1.0v1.0h-1.0zM89.5 340.7h1.0v1.0h-1.0zM89.7 317.1h1.0v1.0h-1.0z"/>
<line x1="36.50" y1="314.50" x2="39.50" y2="314.50" stroke="#1a1a1a" stroke-width="0.8"/>
<line x1="37.90" y1="329.74" x2="39.50" y2="329.74" stroke="#1a1a1a" stroke-width="0.8"/>
<line x1="37.90" y1="325.90" x2="39.50" y2="325.90" stroke="#1a1a1a" stroke-width="0.8"/>
<line x1="37.90" y1="323.18" x2="39.50" y2="323.18" stroke="#1a1a1a" stroke-width="0.8"/>
<line x1="37.90" y1="321.06" x2="39.50" y2="321.06" stroke="#1a1a1a" stroke-width="0.8"/>
<line x1="37.90" y1="319.34" x2="39.50" y2="319.34" stroke="#1a1a1a" stroke-width="0.8"/>
<line x1="37.90" y1="317.88" x2="39.50" y2="317.88" stroke="#1a1a1a" stroke-width="0.8"/>
<line x1="37.90" y1="316.61" x2="39.50" y2="316.61" stroke="#1a1a1a" stroke-width="0.8"/>
<line x1="37.90" y1="315.50" x2="39.50" y2="315.50" stroke="#1a1a1a" stroke-width="0.8"/>
<line x1="36.50" y1="336.30" x2="39.50" y2="336.30" stroke="#1a1a1a" stroke-width="0.8"/>
<line x1="37.90" y1="351.54" x2="39.50" y2="351.54" stroke="#1a1a1a" stroke-width="0.8"/>
<line x1="37.90" y1="347.70" x2="39.50" y2="347.70" stroke="#1a1a1a" stroke-width="0.8"/>
<line x1="37.90" y1="344.98" x2="39.50" y2="344.98" stroke="#1a1a1a" stroke-width="0.8"/>
<line x1="37.90" y1="342.86" x2="39.50" y2="342.86" stroke="#1a1a1a" stroke-width="0.8"/>
<line x1="37.90" y1="341.14" x2="39.50" y2="341.14" stroke="#1a1a1a" stroke-width="0.8"/>
<line x1="37.90" y1="339.68" x2="39.50" y2="339.68" stroke="#1a1a1a" stroke-width="0.8"/>
<line x1="37.90" y1="338.41" x2="39.50" y2="338.41" stroke="#1a1a1a" stroke-width="0.8"/>
<line x1="37.90" y1="337.30" x2="39.50" y2="337.30" stroke="#1a1a1a" stroke-width="0.8"/>
<line x1="36.50" y1="358.10" x2="39.50" y2="358.10" stroke="#1a1a1a" stroke-width="0.8"/>
<line x1="37.90" y1="373.34" x2="39.50" y2="373.34" stroke="#1a1a1a" stroke-width="0.8"/>
<line x1="37.90" y1="369.50" x2="39.50" y2="369.50" stroke="#1a1a1a" stroke-width="0.8"/>
<line x1="37.90" y1="366.78" x2="39.50" y2="366.78" stroke="#1a1a1a" stroke-width="0.8"/>
<line x1="37.90" y1="364.66" x2="39.50" y2="364.66" stroke="#1a1a1a" stroke-width="0.8"/>
<line x1="37.90" y1="362.94" x2="39.50" y2="362.94" stroke="#1a1a1a" stroke-width="0.8"/>
<line x1="37.90" y1="361.48" x2="39.50" y2="361.48" stroke="#1a1a1a" stroke-width="0.8"/>
<line x1="37.90" y1="360.21" x2="39.50" y2="360.21" stroke="#1a1a1a" stroke-width="0.8"/>
<line x1="37.90" y1="359.10" x2="39.50" y2="359.10" stroke="#1a1a1a" stroke-width="0.8"/>
<line x1="36.50" y1="379.90" x2="39.50" y2="379.90" stroke="#1a1a1a" stroke-width="0.8"/>
<line x1="37.90" y1="385.00" x2="39.50" y2="385.00" stroke="#1a1a1a" stroke-width="0.8"/>
<line x1="37.90" y1="389.00" x2="39.50" y2="389.00" stroke="#1a1a1a" stroke-width="0.8"/>
<line x1="37.90" y1="393.00" x2="39.50" y2="393.00" stroke="#1a1a1a" stroke-width="0.8"/>
<line x1="37.90" y1="397.00" x2="39.50" y2="397.00" stroke="#1a1a1a" stroke-width="0.8"/>
<line x1="37.90" y1="400.50" x2="39.50" y2="400.50" stroke="#1a1a1a" stroke-width="0.8"/>
<line x1="36.50" y1="393.00" x2="39.50" y2="393.00" stroke="#1a1a1a" stroke-width="0.8"/>
<line x1="37.90" y1="307.94" x2="39.50" y2="307.94" stroke="#1a1a1a" stroke-width="0.8"/>
<line x1="59.60" y1="403.30" x2="59.60" y2="406.30" stroke="#1a1a1a" stroke-width="0.8"/>
<line x1="66.95" y1="403.30" x2="66.95" y2="404.90" stroke="#1a1a1a" stroke-width="0.8"/>
<line x1="71.24" y1="403.30" x2="71.24" y2="404.90" stroke="#1a1a1a" stroke-width="0.8"/>
<line x1="74.29" y1="403.30" x2="74.29" y2="404.90" stroke="#1a1a1a" stroke-width="0.8"/>
<line x1="76.65" y1="403.30" x2="76.65" y2="404.90" stroke="#1a1a1a" stroke-width="0.8"/>
<line x1="78.59" y1="403.30" x2="78.59" y2="404.90" stroke="#1a1a1a" stroke-width="0.8"/>
<line x1="80.22" y1="403.30" x2="80.22" y2="404.90" stroke="#1a1a1a" stroke-width="0.8"/>
<line x1="81.64" y1="403.30" x2="81.64" y2="404.90" stroke="#1a1a1a" stroke-width="0.8"/>
<line x1="82.88" y1="403.30" x2="82.88" y2="404.90" stroke="#1a1a1a" stroke-width="0.8"/>
<line x1="84.00" y1="403.30" x2="84.00" y2="406.30" stroke="#1a1a1a" stroke-width="0.8"/>
<line x1="90.62" y1="403.30" x2="90.62" y2="404.90" stroke="#1a1a1a" stroke-width="0.8"/>
<line x1="94.50" y1="403.30" x2="94.50" y2="404.90" stroke="#1a1a1a" stroke-width="0.8"/>
<line x1="97.25" y1="403.30" x2="97.25" y2="404.90" stroke="#1a1a1a" stroke-width="0.8"/>
<line x1="99.38" y1="403.30" x2="99.38" y2="404.90" stroke="#1a1a1a" stroke-width="0.8"/>
<line x1="101.12" y1="403.30" x2="101.12" y2="404.90" stroke="#1a1a1a" stroke-width="0.8"/>
<line x1="102.59" y1="403.30" x2="102.59" y2="404.90" stroke="#1a1a1a" stroke-width="0.8"/>
<line x1="103.87" y1="403.30" x2="103.87" y2="404.90" stroke="#1a1a1a" stroke-width="0.8"/>
<line x1="104.99" y1="403.30" x2="104.99" y2="404.90" stroke="#1a1a1a" stroke-width="0.8"/>
<line x1="106.00" y1="403.30" x2="106.00" y2="406.30" stroke="#1a1a1a" stroke-width="0.8"/>
<line x1="112.47" y1="403.30" x2="112.47" y2="404.90" stroke="#1a1a1a" stroke-width="0.8"/>
<line x1="116.26" y1="403.30" x2="116.26" y2="404.90" stroke="#1a1a1a" stroke-width="0.8"/>
<line x1="118.94" y1="403.30" x2="118.94" y2="404.90" stroke="#1a1a1a" stroke-width="0.8"/>
<line x1="121.03" y1="403.30" x2="121.03" y2="404.90" stroke="#1a1a1a" stroke-width="0.8"/>
<line x1="122.73" y1="403.30" x2="122.73" y2="404.90" stroke="#1a1a1a" stroke-width="0.8"/>
<line x1="124.17" y1="403.30" x2="124.17" y2="404.90" stroke="#1a1a1a" stroke-width="0.8"/>
<line x1="125.42" y1="403.30" x2="125.42" y2="404.90" stroke="#1a1a1a" stroke-width="0.8"/>
<line x1="126.52" y1="403.30" x2="126.52" y2="404.90" stroke="#1a1a1a" stroke-width="0.8"/>
<line x1="127.50" y1="403.30" x2="127.50" y2="406.30" stroke="#1a1a1a" stroke-width="0.8"/>
<line x1="133.97" y1="403.30" x2="133.97" y2="404.90" stroke="#1a1a1a" stroke-width="0.8"/>
<line x1="42.50" y1="403.30" x2="42.50" y2="404.90" stroke="#1a1a1a" stroke-width="0.8"/>
<line x1="45.50" y1="403.30" x2="45.50" y2="404.90" stroke="#1a1a1a" stroke-width="0.8"/>
<line x1="48.80" y1="403.30" x2="48.80" y2="404.90" stroke="#1a1a1a" stroke-width="0.8"/>
<line x1="52.00" y1="403.30" x2="52.00" y2="404.90" stroke="#1a1a1a" stroke-width="0.8"/>
<line x1="55.00" y1="403.30" x2="55.00" y2="404.90" stroke="#1a1a1a" stroke-width="0.8"/>
<line x1="48.80" y1="403.30" x2="48.80" y2="406.30" stroke="#1a1a1a" stroke-width="0.8"/>
<rect x="37.10" y="305.00" width="2.40" height="98.30" fill="#000" fill-opacity="0.35"/>
<rect x="39.50" y="403.30" width="98.00" height="2.00" fill="#000" fill-opacity="0.25"/>
<rect x="39.50" y="305.00" width="98.00" height="98.30" fill="none" stroke="#000" stroke-width="1.15"/>
<text x="31.90" y="316.80" font-size="6.6" text-anchor="end" font-weight="normal" fill="#000">10</text>
<text x="32.10" y="314.10" font-size="4.6" text-anchor="start" font-weight="normal" fill="#000" style="stroke-width:0.1px">5</text>
<text x="31.90" y="338.60" font-size="6.6" text-anchor="end" font-weight="normal" fill="#000">10</text>
<text x="32.10" y="335.90" font-size="4.6" text-anchor="start" font-weight="normal" fill="#000" style="stroke-width:0.1px">4</text>
<text x="31.90" y="360.40" font-size="6.6" text-anchor="end" font-weight="normal" fill="#000">10</text>
<text x="32.10" y="357.70" font-size="4.6" text-anchor="start" font-weight="normal" fill="#000" style="stroke-width:0.1px">3</text>
<text x="31.90" y="382.20" font-size="6.6" text-anchor="end" font-weight="normal" fill="#000">10</text>
<text x="32.10" y="379.50" font-size="4.6" text-anchor="start" font-weight="normal" fill="#000" style="stroke-width:0.1px">2</text>
<text x="33.50" y="395.30" font-size="6.6" text-anchor="end" font-weight="normal" fill="#000">0</text>
<text x="48.80" y="414.50" font-size="6.6" text-anchor="middle" font-weight="normal" fill="#000">0</text>
<text x="58.10" y="414.50" font-size="6.6" text-anchor="middle" font-weight="normal" fill="#000">10</text>
<text x="61.90" y="411.80" font-size="4.6" text-anchor="start" font-weight="normal" fill="#000" style="stroke-width:0.1px">2</text>
<text x="82.50" y="414.50" font-size="6.6" text-anchor="middle" font-weight="normal" fill="#000">10</text>
<text x="86.30" y="411.80" font-size="4.6" text-anchor="start" font-weight="normal" fill="#000" style="stroke-width:0.1px">3</text>
<text x="104.50" y="414.50" font-size="6.6" text-anchor="middle" font-weight="normal" fill="#000">10</text>
<text x="108.30" y="411.80" font-size="4.6" text-anchor="start" font-weight="normal" fill="#000" style="stroke-width:0.1px">4</text>
<text x="126.00" y="414.50" font-size="6.6" text-anchor="middle" font-weight="normal" fill="#000">10</text>
<text x="129.80" y="411.80" font-size="4.6" text-anchor="start" font-weight="normal" fill="#000" style="stroke-width:0.1px">5</text>
<rect x="75.50" y="307.20" width="55.40" height="50.10" fill="none" stroke="#000" stroke-width="1.0"/>
<text x="59.00" y="318.40" font-size="8.2" text-anchor="middle" font-weight="normal" fill="#000">16</text>
<text x="91.40" y="301.40" font-size="9.0" text-anchor="middle" font-weight="normal" fill="#000">WT</text>
<g fill="none" stroke="#000" stroke-width="0.7" stroke-linejoin="round" clip-path="url(#chk)">
<path d="M204.9 377.4l-1.2-0.4l-0.9-0.8l-0.6-1.3l-0.3-1.7l0.2-1.5l0.6-1.3l1-0.9l1.2-0.4l1.3 0.3l1 0.9l0.7 1.4l0.2 1.5l-0.2 1.5l-0.7 1.5l-1 0.9l-1.3 0.3z" fill="#000" fill-opacity="0.07" stroke="none"/>
<path d="M206.2 378.9l-0.8 0.2l-1 0l-1-0.4l-0.7-0.5l-1.3-1.7l-0.6-2.1l0-2.2l0.7-2.3l1.2-1.5l0.8-0.5l0.9-0.3l1.8 0.2l1.4 0.9l1 1.5l0.6 2l0 2l-0.5 2.1l-1.1 1.6l-1.4 1zM207.7 401.9l-3.5 0.2l-1.3-0.3l-0.7-0.4l0.2-0.2l0.7-0.3l2.3-0.2l2.4 0.2l0.7 0.3l0.2 0.2l-0.2 0.3l-0.8 0.2z" fill="#000" fill-opacity="0.07" stroke="none"/>
<path d="M205.9 380.4l-1 0.2l-1-0.2l-1-0.4l-1-0.8l-0.8-1l-0.6-1.3l-0.7-2.7l0.1-2.8l1-2.5l0.8-1l1-0.9l1-0.5l1-0.2l1 0.1l1 0.3l1.7 1.2l1.2 2l0.6 2.5l-0.1 2.8l-0.9 2.4l-1.5 1.9l-1.8 0.9zM206.2 402.4l-3.9-0.2l-0.9-0.3l-0.6-0.5l0.6-0.5l0.8-0.2l3.2-0.3l3.3 0.3l0.8 0.2l0.6 0.5l-0.2 0.3l-1 0.4l-2.7 0.3z" fill="#000" fill-opacity="0.07" stroke="none"/>
<path d="M206.2 381.7l-1.3 0.1l-1.2-0.2l-1.3-0.6l-1-0.8l-1-1.3l-0.6-1.2l-0.5-1.5l-0.3-1.8l-0.1-1.7l0.2-1.5l0.5-1.5l0.7-1.5l0.9-1.2l1-0.8l1.2-0.7l1.3-0.3l1.2 0.1l1 0.3l1 0.6l1 0.9l1.4 2.3l0.8 3l-0.2 3l-1 2.9l-0.7 1.2l-1 1.1l-1 0.7l-1 0.4zM206.2 402.7l-4.3-0.3l-1.7-0.5l-0.5-0.5l0.4-0.5l1.3-0.4l4-0.4l4 0.4l1.4 0.4l0.4 0.5l-0.4 0.5l-0.9 0.3l-3.7 0.5z" fill="#000" fill-opacity="0.07" stroke="none"/>
<path d="M206.2 382.9l-1.5 0.2l-1.3-0.3l-1.2-0.6l-1.3-1l-1-1.3l-0.9-1.7l-0.5-1.8l-0.4-2l0-2l0.3-1.7l0.6-1.8l0.8-1.5l0.9-1.2l1.2-1l1.3-0.7l1.5-0.3l1.2 0l1.3 0.4l1.2 0.8l1.1 1l0.9 1.3l0.7 1.5l0.5 1.5l0.3 1.7l0 1.8l-0.3 1.7l-0.4 1.8l-0.8 1.6l-0.9 1.4l-0.9 1l-1.2 0.8l-1.2 0.4zM208.9 402.7l-3.5 0.2l-3.5-0.2l-2.3-0.5l-0.5-0.3l-0.5-0.5l0.4-0.5l1.2-0.5l2.2-0.4l2.5-0.1l4.6 0.3l1.9 0.5l0.8 0.5l0 0.5l-0.5 0.3l-2.8 0.7z" fill="#000" fill-opacity="0.07" stroke="none"/>
<path d="M205.9 384.2l-1.5 0l-1.5-0.3l-1.5-0.9l-1.2-1.2l-1.1-1.6l-0.9-1.8l-0.5-2l-0.3-2.2l0-2l0.4-2l0.6-2l0.9-1.5l1.1-1.4l1.3-1.1l1.5-0.7l1.5-0.3l1.5 0.1l1.5 0.5l1.2 0.8l1.3 1.3l1 1.5l0.7 1.5l0.5 1.8l0.2 2l0 2l-0.3 2l-0.6 1.9l-0.8 1.6l-1 1.5l-1.2 1.2l-1.3 0.8l-1.5 0.5zM208.9 402.9l-3.7 0.2l-3.8-0.2l-2.9-0.7l-0.4-0.3l-0.4-0.5l0.2-0.4l0.5-0.3l1.6-0.5l2.2-0.4l2.7-0.2l2.8 0.1l2.5 0.3l2 0.6l0.9 0.6l0 0.5l-0.7 0.5l-3.5 0.7z" fill="#000" fill-opacity="0.07" stroke="none"/>
<path d="M205.4 385.4l-1.7-0.1l-1.5-0.5l-1.5-1.1l-1.3-1.3l-1.1-1.7l-0.9-2.2l-0.6-2.3l-0.2-2.3l0.1-2.2l0.5-2.2l0.7-2l1-1.7l1.3-1.5l1.5-1.1l1.5-0.7l1.7-0.3l1.8 0.2l1.5 0.6l1.5 1.1l1.1 1.3l1.1 1.7l0.8 1.8l0.5 2l0.2 2.3l-0.1 2.2l-0.5 2.3l-0.7 2l-1 2l-1.2 1.5l-1.5 1.2l-1.5 0.7l-1.5 0.3zM208.7 403.2l-6.5 0l-1.5-0.2l-2.8-0.7l-0.7-0.4l-0.4-0.5l0.7-0.7l1.7-0.6l2.7-0.5l3-0.2l3.3 0.1l2.7 0.4l2 0.5l1.1 0.8l0 0.5l-0.2 0.2l-1 0.5l-4.1 0.8z" fill="#000" fill-opacity="0.07" stroke="none"/>
<path d="M206.4 386.5l-2 0.1l-1.7-0.4l-1.8-0.9l-1.5-1.4l-1.4-2l-1-2.2l-0.7-2.5l-0.4-2.5l0.1-2.5l0.4-2.5l0.7-2.3l1.1-1.9l1.4-1.8l1.6-1.3l1.7-0.8l1.8-0.4l1.7 0.1l1.5 0.6l1.5 0.9l1.5 1.4l1.2 1.7l1 2l0.7 2.3l0.3 2.2l0 2.3l-0.4 2.5l-0.6 2.2l-1 2.3l-1.1 1.7l-1.3 1.4l-1.5 1l-1.8 0.7zM210.4 403.2l-10.1 0l-3.2-0.8l-0.8-0.5l-0.3-0.5l0.5-0.7l2-0.8l2.9-0.5l3.5-0.2l3.5 0.1l3 0.4l2.5 0.7l1 0.8l0 0.5l-0.2 0.2l-0.9 0.5l-3.4 0.8z" fill="#000" fill-opacity="0.07" stroke="none"/>
<path d="M206.4 387.7l-2 0.1l-2-0.4l-1.7-1l-1.8-1.6l-1.3-1.9l-1.2-2.5l-0.8-2.7l-0.4-2.8l0-2.7l0.4-2.5l0.8-2.5l1.2-2.3l1.6-1.9l1.7-1.5l1.8-0.9l2-0.4l1.7 0.1l1.8 0.6l1.7 1.2l1.6 1.6l1.4 2l0.9 2l0.7 2.2l0.3 2.5l0 2.5l-0.4 2.8l-0.7 2.5l-1 2.3l-1.3 1.9l-1.5 1.6l-1.7 1.1l-1.8 0.6zM211.9 403.2l-13 0l-2.7-0.8l-0.8-0.5l-0.3-0.5l0.2-0.5l0.6-0.4l2-0.7l3.3-0.6l3.7-0.2l3.8 0.1l3.5 0.5l2.5 0.8l1 0.8l0 0.5l-0.8 0.6l-3 0.9z" fill="#000" fill-opacity="0.07" stroke="none"/>
<path d="M206.4 389.0l-2.2 0l-2-0.4l-2-1.1l-1.8-1.7l-1.5-2.1l-1.2-2.7l-0.9-3.1l-0.4-3l0.1-2.7l0.4-2.8l0.9-2.7l1.2-2.3l1.5-2l1.9-1.7l2-1.1l2.3-0.5l2 0.2l1.7 0.6l1.9 1.3l1.7 1.7l1.4 2l1 2.3l0.8 2.5l0.4 2.7l-0.1 2.8l-0.4 3l-0.7 2.7l-1.2 2.6l-1.5 2.2l-1.5 1.5l-1.8 1.1l-2 0.7zM213.2 403.2l-15.6 0l-2.4-0.8l-0.7-0.5l-0.3-0.5l0.2-0.5l0.7-0.5l2.3-0.8l3.5-0.6l4-0.3l4 0.2l3.8 0.5l2.6 0.8l0.9 0.5l0.4 0.5l0 0.5l-0.7 0.6l-2.7 0.9z" fill="#000" fill-opacity="0.07" stroke="none"/>
<path d="M204.9 377.4l-1.2-0.4l-0.9-0.8l-0.6-1.3l-0.3-1.7l0.2-1.5l0.6-1.3l1-0.9l1.2-0.4l1.3 0.3l1 0.9l0.7 1.4l0.2 1.5l-0.2 1.5l-0.7 1.5l-1 0.9l-1.3 0.3M206.2 378.9l-0.8 0.2l-1 0l-1-0.4l-0.7-0.5l-1.3-1.7l-0.6-2.1l0-2.2l0.7-2.3l1.2-1.5l0.8-0.5l0.9-0.3l1.8 0.2l1.4 0.9l1 1.5l0.6 2l0 2l-0.5 2.1l-1.1 1.6l-1.4 1M207.7 401.9l-3.5 0.2l-1.3-0.3l-0.7-0.4l0.2-0.2l0.7-0.3l2.3-0.2l2.4 0.2l0.7 0.3l0.2 0.2l-0.2 0.3l-0.8 0.2M205.9 380.4l-1 0.2l-1-0.2l-1-0.4l-1-0.8l-0.8-1l-0.6-1.3l-0.7-2.7l0.1-2.8l1-2.5l0.8-1l1-0.9l1-0.5l1-0.2l1 0.1l1 0.3l1.7 1.2l1.2 2l0.6 2.5l-0.1 2.8l-0.9 2.4l-1.5 1.9l-1.8 0.9M206.2 402.4l-3.9-0.2l-0.9-0.3l-0.6-0.5l0.6-0.5l0.8-0.2l3.2-0.3l3.3 0.3l0.8 0.2l0.6 0.5l-0.2 0.3l-1 0.4l-2.7 0.3M206.2 381.7l-1.3 0.1l-1.2-0.2l-1.3-0.6l-1-0.8l-1-1.3l-0.6-1.2l-0.5-1.5l-0.3-1.8l-0.1-1.7l0.2-1.5l0.5-1.5l0.7-1.5l0.9-1.2l1-0.8l1.2-0.7l1.3-0.3l1.2 0.1l1 0.3l1 0.6l1 0.9l1.4 2.3l0.8 3l-0.2 3l-1 2.9l-0.7 1.2l-1 1.1l-1 0.7l-1 0.4M206.2 402.7l-4.3-0.3l-1.7-0.5l-0.5-0.5l0.4-0.5l1.3-0.4l4-0.4l4 0.4l1.4 0.4l0.4 0.5l-0.4 0.5l-0.9 0.3l-3.7 0.5M206.2 382.9l-1.5 0.2l-1.3-0.3l-1.2-0.6l-1.3-1l-1-1.3l-0.9-1.7l-0.5-1.8l-0.4-2l0-2l0.3-1.7l0.6-1.8l0.8-1.5l0.9-1.2l1.2-1l1.3-0.7l1.5-0.3l1.2 0l1.3 0.4l1.2 0.8l1.1 1l0.9 1.3l0.7 1.5l0.5 1.5l0.3 1.7l0 1.8l-0.3 1.7l-0.4 1.8l-0.8 1.6l-0.9 1.4l-0.9 1l-1.2 0.8l-1.2 0.4M208.9 402.7l-3.5 0.2l-3.5-0.2l-2.3-0.5l-0.5-0.3l-0.5-0.5l0.4-0.5l1.2-0.5l2.2-0.4l2.5-0.1l4.6 0.3l1.9 0.5l0.8 0.5l0 0.5l-0.5 0.3l-2.8 0.7M205.9 384.2l-1.5 0l-1.5-0.3l-1.5-0.9l-1.2-1.2l-1.1-1.6l-0.9-1.8l-0.5-2l-0.3-2.2l0-2l0.4-2l0.6-2l0.9-1.5l1.1-1.4l1.3-1.1l1.5-0.7l1.5-0.3l1.5 0.1l1.5 0.5l1.2 0.8l1.3 1.3l1 1.5l0.7 1.5l0.5 1.8l0.2 2l0 2l-0.3 2l-0.6 1.9l-0.8 1.6l-1 1.5l-1.2 1.2l-1.3 0.8l-1.5 0.5M208.9 402.9l-3.7 0.2l-3.8-0.2l-2.9-0.7l-0.4-0.3l-0.4-0.5l0.2-0.4l0.5-0.3l1.6-0.5l2.2-0.4l2.7-0.2l2.8 0.1l2.5 0.3l2 0.6l0.9 0.6l0 0.5l-0.7 0.5l-3.5 0.7M205.4 385.4l-1.7-0.1l-1.5-0.5l-1.5-1.1l-1.3-1.3l-1.1-1.7l-0.9-2.2l-0.6-2.3l-0.2-2.3l0.1-2.2l0.5-2.2l0.7-2l1-1.7l1.3-1.5l1.5-1.1l1.5-0.7l1.7-0.3l1.8 0.2l1.5 0.6l1.5 1.1l1.1 1.3l1.1 1.7l0.8 1.8l0.5 2l0.2 2.3l-0.1 2.2l-0.5 2.3l-0.7 2l-1 2l-1.2 1.5l-1.5 1.2l-1.5 0.7l-1.5 0.3M208.7 403.2l-6.5 0l-1.5-0.2l-2.8-0.7l-0.7-0.4l-0.4-0.5l0.7-0.7l1.7-0.6l2.7-0.5l3-0.2l3.3 0.1l2.7 0.4l2 0.5l1.1 0.8l0 0.5l-0.2 0.2l-1 0.5l-4.1 0.8M206.4 386.5l-2 0.1l-1.7-0.4l-1.8-0.9l-1.5-1.4l-1.4-2l-1-2.2l-0.7-2.5l-0.4-2.5l0.1-2.5l0.4-2.5l0.7-2.3l1.1-1.9l1.4-1.8l1.6-1.3l1.7-0.8l1.8-0.4l1.7 0.1l1.5 0.6l1.5 0.9l1.5 1.4l1.2 1.7l1 2l0.7 2.3l0.3 2.2l0 2.3l-0.4 2.5l-0.6 2.2l-1 2.3l-1.1 1.7l-1.3 1.4l-1.5 1l-1.8 0.7M210.4 403.2l-10.1 0l-3.2-0.8l-0.8-0.5l-0.3-0.5l0.5-0.7l2-0.8l2.9-0.5l3.5-0.2l3.5 0.1l3 0.4l2.5 0.7l1 0.8l0 0.5l-0.2 0.2l-0.9 0.5l-3.4 0.8M206.4 387.7l-2 0.1l-2-0.4l-1.7-1l-1.8-1.6l-1.3-1.9l-1.2-2.5l-0.8-2.7l-0.4-2.8l0-2.7l0.4-2.5l0.8-2.5l1.2-2.3l1.6-1.9l1.7-1.5l1.8-0.9l2-0.4l1.7 0.1l1.8 0.6l1.7 1.2l1.6 1.6l1.4 2l0.9 2l0.7 2.2l0.3 2.5l0 2.5l-0.4 2.8l-0.7 2.5l-1 2.3l-1.3 1.9l-1.5 1.6l-1.7 1.1l-1.8 0.6M211.9 403.2l-13 0l-2.7-0.8l-0.8-0.5l-0.3-0.5l0.2-0.5l0.6-0.4l2-0.7l3.3-0.6l3.7-0.2l3.8 0.1l3.5 0.5l2.5 0.8l1 0.8l0 0.5l-0.8 0.6l-3 0.9M206.4 389.0l-2.2 0l-2-0.4l-2-1.1l-1.8-1.7l-1.5-2.1l-1.2-2.7l-0.9-3.1l-0.4-3l0.1-2.7l0.4-2.8l0.9-2.7l1.2-2.3l1.5-2l1.9-1.7l2-1.1l2.3-0.5l2 0.2l1.7 0.6l1.9 1.3l1.7 1.7l1.4 2l1 2.3l0.8 2.5l0.4 2.7l-0.1 2.8l-0.4 3l-0.7 2.7l-1.2 2.6l-1.5 2.2l-1.5 1.5l-1.8 1.1l-2 0.7M213.2 403.2l-15.6 0l-2.4-0.8l-0.7-0.5l-0.3-0.5l0.2-0.5l0.7-0.5l2.3-0.8l3.5-0.6l4-0.3l4 0.2l3.8 0.5l2.6 0.8l0.9 0.5l0.4 0.5l0 0.5l-0.7 0.6l-2.7 0.9M206.7 390.2l-2.5 0.1l-2.3-0.5l-2.1-1.1l-1.9-1.8l-1.6-2.2l-1.3-3l-0.9-3.3l-0.4-3.2l0-3.3l0.5-3l0.9-2.7l1.3-2.5l1.8-2.2l2-1.8l2.2-1.3l2.3-0.5l2 0.2l2 0.8l2 1.4l1.8 1.9l1.5 2.2l1.2 2.5l0.8 2.8l0.3 2.7l0 3l-0.4 3.3l-0.9 3l-1.2 2.7l-1.4 2.1l-1.7 1.8l-2 1.2l-2 0.7M214.4 403.2l-18.1 0l-2.1-0.8l-0.7-0.5l-0.2-0.5l0.4-0.6l0.9-0.6l3.8-1.1l5-0.6l5.3 0.1l3.2 0.4l2.5 0.5l1.9 0.7l1.1 0.7l0.1 0.8l-0.4 0.5l-1.2 0.6l-1.5 0.4M206.9 391.4l-2.5 0.2l-2.5-0.5l-2.4-1.2l-2.1-1.9l-1.7-2.3l-1.3-3l-1-3.5l-0.5-3.5l0-3.3l0.4-3.2l1-3l1.4-2.9l2-2.6l2.2-2.1l2.5-1.4l2.3-0.5l2 0.1l2.2 0.9l2.3 1.7l1.9 2l1.6 2.5l1.2 2.5l0.8 3l0.4 3l0 3.3l-0.5 3.5l-0.9 3.2l-1.2 2.8l-1.6 2.4l-1.7 1.8l-2 1.3l-2.3 0.7M215.7 403.2l-20.6 0l-1.9-0.8l-0.6-0.5l-0.2-0.5l0.4-0.7l1.1-0.7l4-1.2l5-0.6l5.3 0l3.2 0.4l3.5 0.7l2.3 0.8l1.1 0.8l0.1 0.8l-0.4 0.5l-0.8 0.5l-1.5 0.5M206.2 392.9l-2.8 0l-2.7-0.8l-2.5-1.6l-2-2.1l-1.7-2.7l-1.3-3.3l-0.8-3.7l-0.4-3.8l0.1-3.5l0.6-3.2l1.1-3.3l1.5-2.7l2.1-2.7l2.5-2.2l2.5-1.5l2.5-0.6l2.3 0.3l2.2 1.1l2.5 2.1l2.1 2.5l1.7 2.6l1.2 2.9l0.7 3l0.4 3.5l-0.1 3.7l-0.6 3.8l-1 3.2l-1.5 3l-1.6 2.3l-2 1.8l-2.5 1.3l-2.5 0.6M216.9 403.2l-11.5 0.1l-11.5-0.1l-1.7-0.8l-0.6-0.5l-0.2-0.5l0.4-0.7l0.9-0.6l1.7-0.7l2.3-0.6l5.7-0.9l5-0.1l6.5 0.9l2.6 0.7l1.9 0.8l0.9 0.7l0.1 0.8l-0.7 0.7l-1.8 0.8M205.9 394.4l-2.7-0.1l-3-0.9l-2.5-1.6l-2.3-2.3l-1.7-2.8l-1.4-3.5l-0.8-4l-0.4-4.3l0.1-3.7l0.7-3.5l1.2-3.3l1.6-3l2.5-3.2l2.7-2.5l2.8-1.7l1.2-0.4l1.3-0.2l2.2 0.5l2.5 1.5l2.8 2.5l2.2 2.8l1.7 3l1.2 3l0.8 3.2l0.3 3.8l-0.2 4l-0.6 4l-1.1 3.5l-1.6 3.1l-1.8 2.4l-2.2 1.8l-2.7 1.3l-2.8 0.6M218.2 403.2l-12.8 0.1l-12.7-0.1l-1.6-0.8l-0.5-0.5l-0.2-0.5l0.3-0.7l1.1-0.8l3.9-1.3l6.5-1.2l4.5-0.2l7 1.1l3 0.7l2.3 0.9l1.2 0.8l0.2 0.5l0 0.5l-0.6 0.7l-1.6 0.8M219.2 403.2l-14 0.1l-13.7-0.1l-1.5-0.8l-0.6-0.7l0-0.5l0.3-0.5l1.7-1.1l2.8-1l6.1-1.7l1.4-0.7l-0.4-0.5l-3.1-1.8l-2.2-1.7l-1.7-2l-1.5-2.5l-1.2-3.3l-0.9-3.7l-0.5-4l0-4l0.4-3.3l0.8-3.2l1.2-3l1.6-2.8l2.2-2.9l2.8-2.8l2.7-2.1l2.3-1.1l1.7-0.2l1.8 0.7l2.2 1.6l2.3 2.1l2.2 2.6l1.8 2.6l1.5 2.8l1.1 3l0.8 4.2l0.2 4.8l-0.5 5l-1.2 4.7l-1.5 3.3l-1.9 2.7l-2 1.9l-4 2.4l-0.2 0.5l1.5 0.7l7.9 2.1l2.7 1.2l0.8 0.7l0.1 0.8l-0.8 0.8l-1.5 0.7M220.7 403.2l-15.5 0.2l-15.2-0.2l-1.3-0.8l-0.6-0.7l0-0.5l0.3-0.5l1-0.9l2.3-1l4.6-1.6l0.9-0.5l0.3-0.5l-0.4-0.8l-2.7-2.6l-1.8-2.4l-1.5-3l-1-3.5l-0.8-4.7l-0.3-4.8l0.4-4.5l0.9-4l0.9-2.5l1.1-2.2l3.1-4.6l2.5-2.9l3-3l2.5-2.2l1.5-0.8l1.3 0.1l1.5 1l3 2.9l3.2 3.8l2.2 2.9l1.5 2.5l1.3 2.8l1 2.7l0.8 4.3l0.3 4.2l-0.3 4.8l-0.8 4.5l-1.1 3.5l-1.4 2.7l-1.7 2.3l-2.8 2.7l-0.3 0.8l0.4 0.5l1 0.5l5.7 1.9l2.5 1.3l0.6 0.8l-0.2 0.7l-0.8 0.8l-1.1 0.5M222.4 403.2l-16.5 0.2l-17.2-0.2l-0.4 0l-0.9-0.5l-0.8-1l0-0.8l1-1l5.8-2.7l0.6-0.5l0.2-0.5l-0.3-0.8l-2.3-3l-1.4-2.5l-1.1-3l-0.9-3.7l-0.5-4.8l-0.1-4.7l0.5-4.3l0.9-4l1.5-3.7l2.1-3.8l8.5-11.5l3.3-5.6l0.5-0.6l0.5-0.2l0.5 0.1l0.8 0.9l3.1 5.4l8.1 12l2 4l1.4 4l0.8 3.8l0.3 4.2l-0.1 4.8l-0.6 4.5l-0.9 3.5l-1 2.7l-1.4 2.5l-2.3 3l-0.2 0.8l0.3 0.5l0.7 0.5l5 2l2 1.2l0.4 0.8l-0.1 0.7l-0.7 0.8l-1.1 0.5M224.9 403.2l-15.5 0.2l-22.2-0.2l-1.3 0l-1.1-0.8l-0.4-0.7l0-0.8l0.6-0.7l1.2-0.9l3.4-1.9l0.5-0.5l0.3-0.7l-0.3-1l-1.9-3.3l-0.9-2.2l-0.8-3l-0.6-3.8l-0.3-5l0.1-5l0.5-4.2l0.9-3.8l1.2-3.2l1.4-3l5.5-8.8l5.2-8.9l1.3-2.5l2.2-5.4l0.7-0.9l0.6-0.5l0.5 0l0.5 0.2l1 1.4l3 7l10.5 19.1l1.4 3l1 3l0.8 3.8l0.4 4.2l0.1 5l-0.3 4.8l-0.5 3.2l-0.8 3l-1.1 2.8l-1.9 3.2l-0.1 0.8l0.2 0.5l0.5 0.5l4.4 2.2l1.5 1.3l0.3 0.7l-0.2 0.5l-0.6 0.8l-0.9 0.5"/>
</g>
<path fill="#000" d="M226.0 383.4h1.0v1.0h-1.0zM193.2 307.1h1.0v1.0h-1.0zM193.4 323.6h1.0v1.0h-1.0zM185.8 313.2h1.0v1.0h-1.0zM213.9 340.7h1.0v1.0h-1.0zM219.2 319.0h1.0v1.0h-1.0zM200.1 313.9h1.0v1.0h-1.0zM196.1 331.8h1.0v1.0h-1.0zM212.3 322.4h1.0v1.0h-1.0zM189.5 322.5h1.0v1.0h-1.0zM206.9 318.5h1.0v1.0h-1.0zM212.2 328.3h1.0v1.0h-1.0zM209.4 330.4h1.0v1.0h-1.0zM216.2 336.3h1.0v1.0h-1.0zM208.6 333.8h1.0v1.0h-1.0zM204.2 328.4h1.0v1.0h-1.0zM200.6 331.6h1.0v1.0h-1.0zM212.6 322.5h1.0v1.0h-1.0zM216.2 337.0h1.0v1.0h-1.0zM197.2 340.2h1.0v1.0h-1.0zM202.6 330.0h1.0v1.0h-1.0zM217.0 342.7h1.0v1.0h-1.0zM184.5 341.5h1.0v1.0h-1.0zM194.6 318.3h1.0v1.0h-1.0zM193.4 314.0h1.0v1.0h-1.0zM198.0 334.5h1.0v1.0h-1.0zM198.2 319.5h1.0v1.0h-1.0zM220.3 332.5h1.0v1.0h-1.0zM197.1 343.4h1.0v1.0h-1.0zM210.4 336.7h1.0v1.0h-1.0zM180.7 399.4h1.0v1.0h-1.0zM207.3 325.4h1.0v1.0h-1.0zM205.0 319.6h1.0v1.0h-1.0zM202.5 334.1h1.0v1.0h-1.0zM216.3 332.0h1.0v1.0h-1.0zM208.8 336.6h1.0v1.0h-1.0zM211.4 333.1h1.0v1.0h-1.0zM178.2 333.9h1.0v1.0h-1.0zM199.9 328.0h1.0v1.0h-1.0zM195.2 346.1h1.0v1.0h-1.0zM196.8 341.9h1.0v1.0h-1.0zM200.7 328.5h1.0v1.0h-1.0zM208.3 336.4h1.0v1.0h-1.0zM213.0 343.0h1.0v1.0h-1.0zM201.5 318.8h1.0v1.0h-1.0zM198.9 334.8h1.0v1.0h-1.0zM197.1 320.5h1.0v1.0h-1.0zM196.2 339.7h1.0v1.0h-1.0zM203.8 321.4h1.0v1.0h-1.0zM213.3 340.0h1.0v1.0h-1.0zM204.9 325.4h1.0v1.0h-1.0zM213.6 333.2h1.0v1.0h-1.0zM197.5 338.3h1.0v1.0h-1.0zM208.2 318.8h1.0v1.0h-1.0zM201.2 332.3h1.0v1.0h-1.0zM192.3 340.8h1.0v1.0h-1.0zM195.7 332.0h1.0v1.0h-1.0zM210.0 318.8h1.0v1.0h-1.0zM194.7 319.7h1.0v1.0h-1.0zM195.5 316.5h1.0v1.0h-1.0zM206.7 322.4h1.0v1.0h-1.0zM200.3 332.0h1.0v1.0h-1.0zM197.8 313.1h1.0v1.0h-1.0zM218.5 333.6h1.0v1.0h-1.0zM224.5 312.8h1.0v1.0h-1.0zM203.9 331.7h1.0v1.0h-1.0zM195.5 331.8h1.0v1.0h-1.0zM184.0 351.4h1.0v1.0h-1.0zM189.0 341.6h1.0v1.0h-1.0zM202.1 328.1h1.0v1.0h-1.0zM191.5 343.6h1.0v1.0h-1.0zM197.0 322.3h1.0v1.0h-1.0zM199.9 312.1h1.0v1.0h-1.0zM207.7 309.6h1.0v1.0h-1.0zM205.7 330.0h1.0v1.0h-1.0zM196.8 343.2h1.0v1.0h-1.0zM210.6 337.2h1.0v1.0h-1.0zM204.3 319.4h1.0v1.0h-1.0zM224.3 393.2h1.0v1.0h-1.0zM211.9 335.0h1.0v1.0h-1.0zM215.5 342.9h1.0v1.0h-1.0zM202.7 320.0h1.0v1.0h-1.0zM198.4 330.6h1.0v1.0h-1.0zM198.9 338.1h1.0v1.0h-1.0zM189.8 346.0h1.0v1.0h-1.0zM202.1 319.6h1.0v1.0h-1.0zM196.0 346.1h1.0v1.0h-1.0zM218.2 334.8h1.0v1.0h-1.0zM209.4 320.4h1.0v1.0h-1.0zM226.6 396.6h1.0v1.0h-1.0zM212.5 322.3h1.0v1.0h-1.0zM182.9 339.6h1.0v1.0h-1.0zM206.2 324.3h1.0v1.0h-1.0zM197.9 339.3h1.0v1.0h-1.0zM218.1 345.0h1.0v1.0h-1.0zM209.3 320.3h1.0v1.0h-1.0zM212.2 342.8h1.0v1.0h-1.0zM191.7 345.6h1.0v1.0h-1.0zM210.9 323.1h1.0v1.0h-1.0zM203.5 312.4h1.0v1.0h-1.0zM228.3 358.8h1.0v1.0h-1.0zM225.2 333.5h1.0v1.0h-1.0zM188.0 314.4h1.0v1.0h-1.0zM217.2 328.1h1.0v1.0h-1.0zM208.4 332.3h1.0v1.0h-1.0zM191.5 320.4h1.0v1.0h-1.0zM217.9 337.8h1.0v1.0h-1.0zM204.3 316.0h1.0v1.0h-1.0zM199.5 322.3h1.0v1.0h-1.0zM219.4 333.1h1.0v1.0h-1.0zM196.9 321.4h1.0v1.0h-1.0zM203.2 331.6h1.0v1.0h-1.0zM179.1 375.9h1.0v1.0h-1.0zM211.0 312.6h1.0v1.0h-1.0zM216.2 327.2h1.0v1.0h-1.0zM217.7 353.5h1.0v1.0h-1.0zM204.7 325.9h1.0v1.0h-1.0zM194.5 333.0h1.0v1.0h-1.0zM197.8 334.6h1.0v1.0h-1.0zM213.8 346.3h1.0v1.0h-1.0zM212.7 339.0h1.0v1.0h-1.0zM191.1 341.4h1.0v1.0h-1.0zM192.2 334.2h1.0v1.0h-1.0zM219.3 346.8h1.0v1.0h-1.0zM208.5 307.6h1.0v1.0h-1.0zM214.6 330.2h1.0v1.0h-1.0zM194.5 345.3h1.0v1.0h-1.0zM209.6 337.7h1.0v1.0h-1.0zM200.3 324.4h1.0v1.0h-1.0zM192.8 342.9h1.0v1.0h-1.0zM211.9 342.4h1.0v1.0h-1.0zM205.8 326.5h1.0v1.0h-1.0zM219.0 327.2h1.0v1.0h-1.0zM207.6 316.9h1.0v1.0h-1.0zM211.2 338.7h1.0v1.0h-1.0zM197.0 319.9h1.0v1.0h-1.0zM211.1 328.2h1.0v1.0h-1.0zM197.3 329.9h1.0v1.0h-1.0zM186.3 361.2h1.0v1.0h-1.0zM212.4 322.3h1.0v1.0h-1.0zM207.9 314.0h1.0v1.0h-1.0zM212.9 325.9h1.0v1.0h-1.0zM181.9 377.7h1.0v1.0h-1.0zM214.7 333.0h1.0v1.0h-1.0zM213.6 345.5h1.0v1.0h-1.0zM213.7 321.7h1.0v1.0h-1.0zM208.6 331.1h1.0v1.0h-1.0zM210.1 327.1h1.0v1.0h-1.0zM188.4 321.6h1.0v1.0h-1.0zM199.2 326.4h1.0v1.0h-1.0zM203.6 318.7h1.0v1.0h-1.0zM207.0 320.8h1.0v1.0h-1.0zM211.3 317.3h1.0v1.0h-1.0zM191.8 322.4h1.0v1.0h-1.0zM201.6 325.9h1.0v1.0h-1.0zM205.2 325.2h1.0v1.0h-1.0zM212.2 330.6h1.0v1.0h-1.0zM210.6 335.4h1.0v1.0h-1.0zM212.0 333.3h1.0v1.0h-1.0zM199.0 323.5h1.0v1.0h-1.0zM197.9 327.5h1.0v1.0h-1.0zM215.8 329.1h1.0v1.0h-1.0zM206.4 323.4h1.0v1.0h-1.0zM170.7 390.1h1.0v1.0h-1.0zM203.0 330.6h1.0v1.0h-1.0zM202.6 322.5h1.0v1.0h-1.0zM179.1 364.8h1.0v1.0h-1.0zM220.0 335.3h1.0v1.0h-1.0zM204.2 329.9h1.0v1.0h-1.0zM212.0 327.1h1.0v1.0h-1.0zM206.9 326.2h1.0v1.0h-1.0zM208.5 327.4h1.0v1.0h-1.0zM204.4 329.7h1.0v1.0h-1.0zM213.3 329.5h1.0v1.0h-1.0zM195.1 328.0h1.0v1.0h-1.0zM199.3 340.4h1.0v1.0h-1.0zM194.7 338.0h1.0v1.0h-1.0zM195.1 336.0h1.0v1.0h-1.0zM197.5 331.1h1.0v1.0h-1.0zM209.5 331.6h1.0v1.0h-1.0zM208.5 316.9h1.0v1.0h-1.0zM197.5 335.9h1.0v1.0h-1.0zM212.8 338.5h1.0v1.0h-1.0zM200.1 320.0h1.0v1.0h-1.0zM212.7 327.1h1.0v1.0h-1.0zM210.7 336.8h1.0v1.0h-1.0zM199.0 322.5h1.0v1.0h-1.0zM213.4 333.2h1.0v1.0h-1.0zM211.1 323.6h1.0v1.0h-1.0zM200.3 335.1h1.0v1.0h-1.0zM204.1 328.2h1.0v1.0h-1.0zM193.6 334.8h1.0v1.0h-1.0zM208.8 337.3h1.0v1.0h-1.0zM223.5 391.0h1.0v1.0h-1.0zM206.2 322.4h1.0v1.0h-1.0zM203.5 331.9h1.0v1.0h-1.0zM195.9 323.6h1.0v1.0h-1.0zM195.7 341.4h1.0v1.0h-1.0zM196.6 326.6h1.0v1.0h-1.0zM217.9 339.7h1.0v1.0h-1.0z"/>
<line x1="139.80" y1="314.30" x2="142.80" y2="314.30" stroke="#1a1a1a" stroke-width="0.8"/>
<line x1="141.20" y1="329.54" x2="142.80" y2="329.54" stroke="#1a1a1a" stroke-width="0.8"/>
<line x1="141.20" y1="325.70" x2="142.80" y2="325.70" stroke="#1a1a1a" stroke-width="0.8"/>
<line x1="141.20" y1="322.98" x2="142.80" y2="322.98" stroke="#1a1a1a" stroke-width="0.8"/>
<line x1="141.20" y1="320.86" x2="142.80" y2="320.86" stroke="#1a1a1a" stroke-width="0.8"/>
<line x1="141.20" y1="319.14" x2="142.80" y2="319.14" stroke="#1a1a1a" stroke-width="0.8"/>
<line x1="141.20" y1="317.68" x2="142.80" y2="317.68" stroke="#1a1a1a" stroke-width="0.8"/>
<line x1="141.20" y1="316.41" x2="142.80" y2="316.41" stroke="#1a1a1a" stroke-width="0.8"/>
<line x1="141.20" y1="315.30" x2="142.80" y2="315.30" stroke="#1a1a1a" stroke-width="0.8"/>
<line x1="139.80" y1="336.10" x2="142.80" y2="336.10" stroke="#1a1a1a" stroke-width="0.8"/>
<line x1="141.20" y1="351.34" x2="142.80" y2="351.34" stroke="#1a1a1a" stroke-width="0.8"/>
<line x1="141.20" y1="347.50" x2="142.80" y2="347.50" stroke="#1a1a1a" stroke-width="0.8"/>
<line x1="141.20" y1="344.78" x2="142.80" y2="344.78" stroke="#1a1a1a" stroke-width="0.8"/>
<line x1="141.20" y1="342.66" x2="142.80" y2="342.66" stroke="#1a1a1a" stroke-width="0.8"/>
<line x1="141.20" y1="340.94" x2="142.80" y2="340.94" stroke="#1a1a1a" stroke-width="0.8"/>
<line x1="141.20" y1="339.48" x2="142.80" y2="339.48" stroke="#1a1a1a" stroke-width="0.8"/>
<line x1="141.20" y1="338.21" x2="142.80" y2="338.21" stroke="#1a1a1a" stroke-width="0.8"/>
<line x1="141.20" y1="337.10" x2="142.80" y2="337.10" stroke="#1a1a1a" stroke-width="0.8"/>
<line x1="139.80" y1="357.90" x2="142.80" y2="357.90" stroke="#1a1a1a" stroke-width="0.8"/>
<line x1="141.20" y1="373.14" x2="142.80" y2="373.14" stroke="#1a1a1a" stroke-width="0.8"/>
<line x1="141.20" y1="369.30" x2="142.80" y2="369.30" stroke="#1a1a1a" stroke-width="0.8"/>
<line x1="141.20" y1="366.58" x2="142.80" y2="366.58" stroke="#1a1a1a" stroke-width="0.8"/>
<line x1="141.20" y1="364.46" x2="142.80" y2="364.46" stroke="#1a1a1a" stroke-width="0.8"/>
<line x1="141.20" y1="362.74" x2="142.80" y2="362.74" stroke="#1a1a1a" stroke-width="0.8"/>
<line x1="141.20" y1="361.28" x2="142.80" y2="361.28" stroke="#1a1a1a" stroke-width="0.8"/>
<line x1="141.20" y1="360.01" x2="142.80" y2="360.01" stroke="#1a1a1a" stroke-width="0.8"/>
<line x1="141.20" y1="358.90" x2="142.80" y2="358.90" stroke="#1a1a1a" stroke-width="0.8"/>
<line x1="139.80" y1="379.70" x2="142.80" y2="379.70" stroke="#1a1a1a" stroke-width="0.8"/>
<line x1="141.20" y1="384.80" x2="142.80" y2="384.80" stroke="#1a1a1a" stroke-width="0.8"/>
<line x1="141.20" y1="388.80" x2="142.80" y2="388.80" stroke="#1a1a1a" stroke-width="0.8"/>
<line x1="141.20" y1="392.80" x2="142.80" y2="392.80" stroke="#1a1a1a" stroke-width="0.8"/>
<line x1="141.20" y1="396.80" x2="142.80" y2="396.80" stroke="#1a1a1a" stroke-width="0.8"/>
<line x1="141.20" y1="400.30" x2="142.80" y2="400.30" stroke="#1a1a1a" stroke-width="0.8"/>
<line x1="139.80" y1="392.80" x2="142.80" y2="392.80" stroke="#1a1a1a" stroke-width="0.8"/>
<line x1="141.20" y1="307.74" x2="142.80" y2="307.74" stroke="#1a1a1a" stroke-width="0.8"/>
<line x1="162.90" y1="403.50" x2="162.90" y2="406.50" stroke="#1a1a1a" stroke-width="0.8"/>
<line x1="170.25" y1="403.50" x2="170.25" y2="405.10" stroke="#1a1a1a" stroke-width="0.8"/>
<line x1="174.54" y1="403.50" x2="174.54" y2="405.10" stroke="#1a1a1a" stroke-width="0.8"/>
<line x1="177.59" y1="403.50" x2="177.59" y2="405.10" stroke="#1a1a1a" stroke-width="0.8"/>
<line x1="179.95" y1="403.50" x2="179.95" y2="405.10" stroke="#1a1a1a" stroke-width="0.8"/>
<line x1="181.89" y1="403.50" x2="181.89" y2="405.10" stroke="#1a1a1a" stroke-width="0.8"/>
<line x1="183.52" y1="403.50" x2="183.52" y2="405.10" stroke="#1a1a1a" stroke-width="0.8"/>
<line x1="184.94" y1="403.50" x2="184.94" y2="405.10" stroke="#1a1a1a" stroke-width="0.8"/>
<line x1="186.18" y1="403.50" x2="186.18" y2="405.10" stroke="#1a1a1a" stroke-width="0.8"/>
<line x1="187.30" y1="403.50" x2="187.30" y2="406.50" stroke="#1a1a1a" stroke-width="0.8"/>
<line x1="193.92" y1="403.50" x2="193.92" y2="405.10" stroke="#1a1a1a" stroke-width="0.8"/>
<line x1="197.80" y1="403.50" x2="197.80" y2="405.10" stroke="#1a1a1a" stroke-width="0.8"/>
<line x1="200.55" y1="403.50" x2="200.55" y2="405.10" stroke="#1a1a1a" stroke-width="0.8"/>
<line x1="202.68" y1="403.50" x2="202.68" y2="405.10" stroke="#1a1a1a" stroke-width="0.8"/>
<line x1="204.42" y1="403.50" x2="204.42" y2="405.10" stroke="#1a1a1a" stroke-width="0.8"/>
<line x1="205.89" y1="403.50" x2="205.89" y2="405.10" stroke="#1a1a1a" stroke-width="0.8"/>
<line x1="207.17" y1="403.50" x2="207.17" y2="405.10" stroke="#1a1a1a" stroke-width="0.8"/>
<line x1="208.29" y1="403.50" x2="208.29" y2="405.10" stroke="#1a1a1a" stroke-width="0.8"/>
<line x1="209.30" y1="403.50" x2="209.30" y2="406.50" stroke="#1a1a1a" stroke-width="0.8"/>
<line x1="215.77" y1="403.50" x2="215.77" y2="405.10" stroke="#1a1a1a" stroke-width="0.8"/>
<line x1="219.56" y1="403.50" x2="219.56" y2="405.10" stroke="#1a1a1a" stroke-width="0.8"/>
<line x1="222.24" y1="403.50" x2="222.24" y2="405.10" stroke="#1a1a1a" stroke-width="0.8"/>
<line x1="224.33" y1="403.50" x2="224.33" y2="405.10" stroke="#1a1a1a" stroke-width="0.8"/>
<line x1="226.03" y1="403.50" x2="226.03" y2="405.10" stroke="#1a1a1a" stroke-width="0.8"/>
<line x1="227.47" y1="403.50" x2="227.47" y2="405.10" stroke="#1a1a1a" stroke-width="0.8"/>
<line x1="228.72" y1="403.50" x2="228.72" y2="405.10" stroke="#1a1a1a" stroke-width="0.8"/>
<line x1="229.82" y1="403.50" x2="229.82" y2="405.10" stroke="#1a1a1a" stroke-width="0.8"/>
<line x1="230.80" y1="403.50" x2="230.80" y2="406.50" stroke="#1a1a1a" stroke-width="0.8"/>
<line x1="237.27" y1="403.50" x2="237.27" y2="405.10" stroke="#1a1a1a" stroke-width="0.8"/>
<line x1="145.80" y1="403.50" x2="145.80" y2="405.10" stroke="#1a1a1a" stroke-width="0.8"/>
<line x1="148.80" y1="403.50" x2="148.80" y2="405.10" stroke="#1a1a1a" stroke-width="0.8"/>
<line x1="152.10" y1="403.50" x2="152.10" y2="405.10" stroke="#1a1a1a" stroke-width="0.8"/>
<line x1="155.30" y1="403.50" x2="155.30" y2="405.10" stroke="#1a1a1a" stroke-width="0.8"/>
<line x1="158.30" y1="403.50" x2="158.30" y2="405.10" stroke="#1a1a1a" stroke-width="0.8"/>
<line x1="152.10" y1="403.50" x2="152.10" y2="406.50" stroke="#1a1a1a" stroke-width="0.8"/>
<rect x="140.40" y="304.80" width="2.40" height="98.70" fill="#000" fill-opacity="0.35"/>
<rect x="142.80" y="403.50" width="98.10" height="2.00" fill="#000" fill-opacity="0.25"/>
<rect x="142.80" y="304.80" width="98.10" height="98.70" fill="none" stroke="#000" stroke-width="1.15"/>
<text x="152.10" y="414.70" font-size="6.6" text-anchor="middle" font-weight="normal" fill="#000">0</text>
<text x="161.40" y="414.70" font-size="6.6" text-anchor="middle" font-weight="normal" fill="#000">10</text>
<text x="165.20" y="412.00" font-size="4.6" text-anchor="start" font-weight="normal" fill="#000" style="stroke-width:0.1px">2</text>
<text x="185.80" y="414.70" font-size="6.6" text-anchor="middle" font-weight="normal" fill="#000">10</text>
<text x="189.60" y="412.00" font-size="4.6" text-anchor="start" font-weight="normal" fill="#000" style="stroke-width:0.1px">3</text>
<text x="207.80" y="414.70" font-size="6.6" text-anchor="middle" font-weight="normal" fill="#000">10</text>
<text x="211.60" y="412.00" font-size="4.6" text-anchor="start" font-weight="normal" fill="#000" style="stroke-width:0.1px">4</text>
<text x="229.30" y="414.70" font-size="6.6" text-anchor="middle" font-weight="normal" fill="#000">10</text>
<text x="233.10" y="412.00" font-size="4.6" text-anchor="start" font-weight="normal" fill="#000" style="stroke-width:0.1px">5</text>
<rect x="178.50" y="307.50" width="54.80" height="49.60" fill="none" stroke="#000" stroke-width="1.0"/>
<text x="165.00" y="318.20" font-size="8.2" text-anchor="middle" font-weight="normal" fill="#000">9</text>
<text x="183.70" y="301.60" font-size="9.0" text-anchor="middle" font-weight="normal" fill="#000">KO</text>
<text x="38.60" y="424.50" font-size="8.2" text-anchor="start" font-weight="normal" fill="#000">CD4</text>
<line x1="57.00" y1="422.00" x2="219.50" y2="422.00" stroke="#222" stroke-width="1.2"/>
<polygon points="224.0,422.0 217.5,419.3 217.5,424.7" fill="#111"/>
<g clip-path="url(#chist)">
<polygon points="285.00,404.30 285.60,403.00 289.00,393.40 290.80,379.60 292.50,365.80 294.20,353.70 295.50,345.00 296.30,333.80 297.50,318.80 298.30,313.10 299.20,310.80 300.40,313.70 301.50,315.40 302.70,318.80 303.60,323.50 304.40,326.90 305.60,325.80 306.70,332.70 307.90,333.80 309.00,335.60 310.20,332.70 311.30,331.50 313.10,329.80 314.20,327.50 315.40,328.10 317.10,329.20 318.30,317.70 319.80,316.00 321.10,315.40 322.90,316.50 324.60,316.00 326.80,313.60 328.10,310.50 329.40,313.30 331.10,315.60 332.90,318.90 333.90,323.00 334.80,327.60 335.80,330.00 336.60,332.20 337.90,337.80 339.20,344.00 340.10,345.00 342.70,355.40 343.90,364.00 346.20,375.30 348.70,386.50 351.30,394.30 355.70,401.20 360.90,403.50 366.00,404.30 366.00,404.3 285.00,404.3" fill="#e08c9c" fill-opacity="0.95"/>
<polyline points="285.00,404.30 285.60,403.00 289.00,393.40 290.80,379.60 292.50,365.80 294.20,353.70 295.50,345.00 296.30,333.80 297.50,318.80 298.30,313.10 299.20,310.80 300.40,313.70 301.50,315.40 302.70,318.80 303.60,323.50 304.40,326.90 305.60,325.80 306.70,332.70 307.90,333.80 309.00,335.60 310.20,332.70 311.30,331.50 313.10,329.80 314.20,327.50 315.40,328.10 317.10,329.20 318.30,317.70 319.80,316.00 321.10,315.40 322.90,316.50 324.60,316.00 326.80,313.60 328.10,310.50 329.40,313.30 331.10,315.60 332.90,318.90 333.90,323.00 334.80,327.60 335.80,330.00 336.60,332.20 337.90,337.80 339.20,344.00 340.10,345.00 342.70,355.40 343.90,364.00 346.20,375.30 348.70,386.50 351.30,394.30 355.70,401.20 360.90,403.50 366.00,404.30" fill="none" stroke="#c8102e" stroke-width="1.3"/>
<polygon points="286.00,404.30 286.50,403.00 289.90,395.20 291.70,384.80 293.40,371.00 295.10,358.80 296.80,348.50 297.60,345.00 298.70,341.90 300.40,336.10 301.50,335.60 302.70,339.60 303.80,343.10 305.60,341.90 307.30,345.40 309.00,339.60 310.80,338.40 312.50,335.00 314.20,328.10 315.40,326.90 317.10,331.50 318.30,320.00 319.40,317.70 320.60,318.80 321.70,316.50 323.40,317.70 325.20,316.00 326.70,314.20 328.10,310.80 329.20,313.70 330.90,316.00 332.70,319.40 333.60,323.50 334.40,328.10 335.20,330.40 336.10,332.70 337.30,338.40 338.40,345.00 341.00,355.40 342.70,365.80 345.30,377.90 347.90,388.30 350.50,395.20 353.90,400.40 357.40,403.00 360.00,404.30 360.00,404.3 286.00,404.3" fill="#7b9dbf"/>
<polyline points="286.00,404.30 286.50,403.00 289.90,395.20 291.70,384.80 293.40,371.00 295.10,358.80 296.80,348.50 297.60,345.00 298.70,341.90 300.40,336.10 301.50,335.60 302.70,339.60 303.80,343.10 305.60,341.90 307.30,345.40 309.00,339.60 310.80,338.40 312.50,335.00 314.20,328.10 315.40,326.90 317.10,331.50 318.30,320.00 319.40,317.70 320.60,318.80 321.70,316.50 323.40,317.70 325.20,316.00 326.70,314.20 328.10,310.80 329.20,313.70 330.90,316.00 332.70,319.40 333.60,323.50 334.40,328.10 335.20,330.40 336.10,332.70 337.30,338.40 338.40,345.00 341.00,355.40 342.70,365.80 345.30,377.90 347.90,388.30 350.50,395.20 353.90,400.40 357.40,403.00 360.00,404.30" fill="none" stroke="#235a93" stroke-width="1.3"/>
</g>
<line x1="282.30" y1="309.00" x2="284.90" y2="309.00" stroke="#1a1a1a" stroke-width="0.9"/>
<text x="278.90" y="311.60" font-size="7.2" text-anchor="end" font-weight="normal" fill="#000">100</text>
<line x1="282.30" y1="328.40" x2="284.90" y2="328.40" stroke="#1a1a1a" stroke-width="0.9"/>
<text x="278.90" y="331.00" font-size="7.2" text-anchor="end" font-weight="normal" fill="#000">80</text>
<line x1="282.30" y1="347.20" x2="284.90" y2="347.20" stroke="#1a1a1a" stroke-width="0.9"/>
<text x="278.90" y="349.80" font-size="7.2" text-anchor="end" font-weight="normal" fill="#000">60</text>
<line x1="282.30" y1="366.60" x2="284.90" y2="366.60" stroke="#1a1a1a" stroke-width="0.9"/>
<text x="278.90" y="369.20" font-size="7.2" text-anchor="end" font-weight="normal" fill="#000">40</text>
<line x1="282.30" y1="385.40" x2="284.90" y2="385.40" stroke="#1a1a1a" stroke-width="0.9"/>
<text x="278.90" y="388.00" font-size="7.2" text-anchor="end" font-weight="normal" fill="#000">20</text>
<line x1="282.30" y1="404.30" x2="284.90" y2="404.30" stroke="#1a1a1a" stroke-width="0.9"/>
<text x="278.90" y="406.90" font-size="7.2" text-anchor="end" font-weight="normal" fill="#000">0</text>
<line x1="283.50" y1="309.00" x2="284.90" y2="309.00" stroke="#1a1a1a" stroke-width="0.6"/>
<line x1="283.50" y1="313.76" x2="284.90" y2="313.76" stroke="#1a1a1a" stroke-width="0.6"/>
<line x1="283.50" y1="318.53" x2="284.90" y2="318.53" stroke="#1a1a1a" stroke-width="0.6"/>
<line x1="283.50" y1="323.30" x2="284.90" y2="323.30" stroke="#1a1a1a" stroke-width="0.6"/>
<line x1="283.50" y1="328.06" x2="284.90" y2="328.06" stroke="#1a1a1a" stroke-width="0.6"/>
<line x1="283.50" y1="332.82" x2="284.90" y2="332.82" stroke="#1a1a1a" stroke-width="0.6"/>
<line x1="283.50" y1="337.59" x2="284.90" y2="337.59" stroke="#1a1a1a" stroke-width="0.6"/>
<line x1="283.50" y1="342.36" x2="284.90" y2="342.36" stroke="#1a1a1a" stroke-width="0.6"/>
<line x1="283.50" y1="347.12" x2="284.90" y2="347.12" stroke="#1a1a1a" stroke-width="0.6"/>
<line x1="283.50" y1="351.88" x2="284.90" y2="351.88" stroke="#1a1a1a" stroke-width="0.6"/>
<line x1="283.50" y1="356.65" x2="284.90" y2="356.65" stroke="#1a1a1a" stroke-width="0.6"/>
<line x1="283.50" y1="361.42" x2="284.90" y2="361.42" stroke="#1a1a1a" stroke-width="0.6"/>
<line x1="283.50" y1="366.18" x2="284.90" y2="366.18" stroke="#1a1a1a" stroke-width="0.6"/>
<line x1="283.50" y1="370.94" x2="284.90" y2="370.94" stroke="#1a1a1a" stroke-width="0.6"/>
<line x1="283.50" y1="375.71" x2="284.90" y2="375.71" stroke="#1a1a1a" stroke-width="0.6"/>
<line x1="283.50" y1="380.48" x2="284.90" y2="380.48" stroke="#1a1a1a" stroke-width="0.6"/>
<line x1="283.50" y1="385.24" x2="284.90" y2="385.24" stroke="#1a1a1a" stroke-width="0.6"/>
<line x1="283.50" y1="390.00" x2="284.90" y2="390.00" stroke="#1a1a1a" stroke-width="0.6"/>
<line x1="283.50" y1="394.77" x2="284.90" y2="394.77" stroke="#1a1a1a" stroke-width="0.6"/>
<line x1="283.50" y1="399.53" x2="284.90" y2="399.53" stroke="#1a1a1a" stroke-width="0.6"/>
<line x1="295.50" y1="404.30" x2="295.50" y2="406.90" stroke="#1a1a1a" stroke-width="0.8"/>
<line x1="305.00" y1="404.30" x2="305.00" y2="406.90" stroke="#1a1a1a" stroke-width="0.8"/>
<line x1="328.00" y1="404.30" x2="328.00" y2="406.90" stroke="#1a1a1a" stroke-width="0.8"/>
<line x1="351.50" y1="404.30" x2="351.50" y2="406.90" stroke="#1a1a1a" stroke-width="0.8"/>
<line x1="374.50" y1="404.30" x2="374.50" y2="406.90" stroke="#1a1a1a" stroke-width="0.8"/>
<line x1="311.92" y1="404.30" x2="311.92" y2="405.80" stroke="#1a1a1a" stroke-width="0.6"/>
<line x1="315.97" y1="404.30" x2="315.97" y2="405.80" stroke="#1a1a1a" stroke-width="0.6"/>
<line x1="318.85" y1="404.30" x2="318.85" y2="405.80" stroke="#1a1a1a" stroke-width="0.6"/>
<line x1="321.08" y1="404.30" x2="321.08" y2="405.80" stroke="#1a1a1a" stroke-width="0.6"/>
<line x1="322.90" y1="404.30" x2="322.90" y2="405.80" stroke="#1a1a1a" stroke-width="0.6"/>
<line x1="324.44" y1="404.30" x2="324.44" y2="405.80" stroke="#1a1a1a" stroke-width="0.6"/>
<line x1="325.77" y1="404.30" x2="325.77" y2="405.80" stroke="#1a1a1a" stroke-width="0.6"/>
<line x1="326.95" y1="404.30" x2="326.95" y2="405.80" stroke="#1a1a1a" stroke-width="0.6"/>
<line x1="335.07" y1="404.30" x2="335.07" y2="405.80" stroke="#1a1a1a" stroke-width="0.6"/>
<line x1="339.21" y1="404.30" x2="339.21" y2="405.80" stroke="#1a1a1a" stroke-width="0.6"/>
<line x1="342.15" y1="404.30" x2="342.15" y2="405.80" stroke="#1a1a1a" stroke-width="0.6"/>
<line x1="344.43" y1="404.30" x2="344.43" y2="405.80" stroke="#1a1a1a" stroke-width="0.6"/>
<line x1="346.29" y1="404.30" x2="346.29" y2="405.80" stroke="#1a1a1a" stroke-width="0.6"/>
<line x1="347.86" y1="404.30" x2="347.86" y2="405.80" stroke="#1a1a1a" stroke-width="0.6"/>
<line x1="349.22" y1="404.30" x2="349.22" y2="405.80" stroke="#1a1a1a" stroke-width="0.6"/>
<line x1="350.42" y1="404.30" x2="350.42" y2="405.80" stroke="#1a1a1a" stroke-width="0.6"/>
<line x1="358.42" y1="404.30" x2="358.42" y2="405.80" stroke="#1a1a1a" stroke-width="0.6"/>
<line x1="362.47" y1="404.30" x2="362.47" y2="405.80" stroke="#1a1a1a" stroke-width="0.6"/>
<line x1="365.35" y1="404.30" x2="365.35" y2="405.80" stroke="#1a1a1a" stroke-width="0.6"/>
<line x1="367.58" y1="404.30" x2="367.58" y2="405.80" stroke="#1a1a1a" stroke-width="0.6"/>
<line x1="369.40" y1="404.30" x2="369.40" y2="405.80" stroke="#1a1a1a" stroke-width="0.6"/>
<line x1="370.94" y1="404.30" x2="370.94" y2="405.80" stroke="#1a1a1a" stroke-width="0.6"/>
<line x1="372.27" y1="404.30" x2="372.27" y2="405.80" stroke="#1a1a1a" stroke-width="0.6"/>
<line x1="373.45" y1="404.30" x2="373.45" y2="405.80" stroke="#1a1a1a" stroke-width="0.6"/>
<line x1="381.42" y1="404.30" x2="381.42" y2="405.80" stroke="#1a1a1a" stroke-width="0.6"/>
<line x1="287.50" y1="404.30" x2="287.50" y2="405.80" stroke="#1a1a1a" stroke-width="0.6"/>
<line x1="290.50" y1="404.30" x2="290.50" y2="405.80" stroke="#1a1a1a" stroke-width="0.6"/>
<line x1="293.00" y1="404.30" x2="293.00" y2="405.80" stroke="#1a1a1a" stroke-width="0.6"/>
<line x1="298.00" y1="404.30" x2="298.00" y2="405.80" stroke="#1a1a1a" stroke-width="0.6"/>
<line x1="301.00" y1="404.30" x2="301.00" y2="405.80" stroke="#1a1a1a" stroke-width="0.6"/>
<rect x="284.90" y="304.60" width="99.40" height="99.70" fill="none" stroke="#000" stroke-width="1.1"/>
<text x="295.50" y="416.00" font-size="6.6" text-anchor="middle" font-weight="normal" fill="#000">0</text>
<text x="303.50" y="416.00" font-size="6.6" text-anchor="middle" font-weight="normal" fill="#000">10</text>
<text x="307.30" y="413.30" font-size="4.6" text-anchor="start" font-weight="normal" fill="#000" style="stroke-width:0.1px">2</text>
<text x="326.50" y="416.00" font-size="6.6" text-anchor="middle" font-weight="normal" fill="#000">10</text>
<text x="330.30" y="413.30" font-size="4.6" text-anchor="start" font-weight="normal" fill="#000" style="stroke-width:0.1px">3</text>
<text x="350.00" y="416.00" font-size="6.6" text-anchor="middle" font-weight="normal" fill="#000">10</text>
<text x="353.80" y="413.30" font-size="4.6" text-anchor="start" font-weight="normal" fill="#000" style="stroke-width:0.1px">4</text>
<text x="373.00" y="416.00" font-size="6.6" text-anchor="middle" font-weight="normal" fill="#000">10</text>
<text x="376.80" y="413.30" font-size="4.6" text-anchor="start" font-weight="normal" fill="#000" style="stroke-width:0.1px">5</text>
<line x1="441.60" y1="283.10" x2="441.60" y2="347.80" stroke="#1a1a1a" stroke-width="1.3"/>
<line x1="439.20" y1="347.80" x2="441.60" y2="347.80" stroke="#1a1a1a" stroke-width="1.0"/>
<text x="436.10" y="350.49" font-size="7.5" text-anchor="end" font-weight="normal" fill="#000">0</text>
<line x1="439.20" y1="332.80" x2="441.60" y2="332.80" stroke="#1a1a1a" stroke-width="1.0"/>
<text x="436.10" y="335.49" font-size="7.5" text-anchor="end" font-weight="normal" fill="#000">5</text>
<line x1="439.20" y1="317.80" x2="441.60" y2="317.80" stroke="#1a1a1a" stroke-width="1.0"/>
<text x="436.10" y="320.49" font-size="7.5" text-anchor="end" font-weight="normal" fill="#000">10</text>
<line x1="439.20" y1="302.80" x2="441.60" y2="302.80" stroke="#1a1a1a" stroke-width="1.0"/>
<text x="436.10" y="305.49" font-size="7.5" text-anchor="end" font-weight="normal" fill="#000">15</text>
<line x1="439.20" y1="287.80" x2="441.60" y2="287.80" stroke="#1a1a1a" stroke-width="1.0"/>
<text x="436.10" y="290.49" font-size="7.5" text-anchor="end" font-weight="normal" fill="#000">20</text>
<line x1="441.00" y1="347.80" x2="476.10" y2="347.80" stroke="#1a1a1a" stroke-width="1.3"/>
<line x1="454.20" y1="347.80" x2="454.20" y2="350.00" stroke="#1a1a1a" stroke-width="1.0"/>
<line x1="468.70" y1="347.80" x2="468.70" y2="350.00" stroke="#1a1a1a" stroke-width="1.0"/>
<rect x="449.80" y="304.20" width="8.70" height="43.60" fill="#dd8596" stroke="#d97a8d" stroke-width="0.7"/>
<rect x="464.50" y="321.20" width="8.70" height="26.60" fill="#87a7c4" stroke="#789cbd" stroke-width="0.7"/>
<line x1="454.20" y1="304.20" x2="454.20" y2="301.60" stroke="#111" stroke-width="1.0"/>
<line x1="451.95" y1="301.60" x2="456.45" y2="301.60" stroke="#111" stroke-width="1.1"/>
<line x1="468.90" y1="321.20" x2="468.90" y2="315.50" stroke="#111" stroke-width="1.0"/>
<line x1="466.65" y1="315.50" x2="471.15" y2="315.50" stroke="#111" stroke-width="1.1"/>
<rect x="449.70" y="297.20" width="4.40" height="4.40" fill="#c8102e"/>
<rect x="454.90" y="297.20" width="4.40" height="4.40" fill="#c8102e"/>
<rect x="449.70" y="306.30" width="4.40" height="4.40" fill="#c8102e"/>
<rect x="454.90" y="306.30" width="4.40" height="4.40" fill="#c8102e"/>
<polygon points="465.40,312.60 462.71,317.44 468.09,317.44" fill="#1b4f8c"/>
<polygon points="471.30,308.80 468.61,313.64 473.99,313.64" fill="#1b4f8c"/>
<polygon points="469.20,317.80 466.51,322.64 471.89,322.64" fill="#1b4f8c"/>
<polygon points="468.90,333.30 466.21,338.14 471.59,338.14" fill="#1b4f8c"/>
<text x="470.10" y="304.60" font-size="9.0" text-anchor="middle" font-weight="normal" fill="#000">*</text>
<line x1="441.60" y1="358.10" x2="441.60" y2="423.40" stroke="#1a1a1a" stroke-width="1.3"/>
<line x1="439.20" y1="423.40" x2="441.60" y2="423.40" stroke="#1a1a1a" stroke-width="1.0"/>
<text x="436.10" y="426.08" font-size="7.5" text-anchor="end" font-weight="normal" fill="#000">0</text>
<line x1="439.20" y1="403.00" x2="441.60" y2="403.00" stroke="#1a1a1a" stroke-width="1.0"/>
<text x="436.10" y="405.69" font-size="7.5" text-anchor="end" font-weight="normal" fill="#000">400</text>
<line x1="439.20" y1="382.60" x2="441.60" y2="382.60" stroke="#1a1a1a" stroke-width="1.0"/>
<text x="436.10" y="385.28" font-size="7.5" text-anchor="end" font-weight="normal" fill="#000">800</text>
<line x1="439.20" y1="362.20" x2="441.60" y2="362.20" stroke="#1a1a1a" stroke-width="1.0"/>
<text x="436.10" y="364.88" font-size="7.5" text-anchor="end" font-weight="normal" fill="#000">1200</text>
<line x1="441.00" y1="423.40" x2="479.70" y2="423.40" stroke="#1a1a1a" stroke-width="1.3"/>
<line x1="454.30" y1="423.40" x2="454.30" y2="425.60" stroke="#1a1a1a" stroke-width="1.0"/>
<line x1="468.80" y1="423.40" x2="468.80" y2="425.60" stroke="#1a1a1a" stroke-width="1.0"/>
<rect x="449.70" y="384.60" width="9.20" height="38.80" fill="#dd8596" stroke="#d97a8d" stroke-width="0.7"/>
<rect x="464.20" y="373.10" width="9.20" height="50.30" fill="#87a7c4" stroke="#789cbd" stroke-width="0.7"/>
<line x1="454.30" y1="384.60" x2="454.30" y2="377.30" stroke="#111" stroke-width="1.0"/>
<line x1="452.05" y1="377.30" x2="456.55" y2="377.30" stroke="#111" stroke-width="1.1"/>
<line x1="468.80" y1="373.10" x2="468.80" y2="369.50" stroke="#111" stroke-width="1.0"/>
<line x1="466.55" y1="369.50" x2="471.05" y2="369.50" stroke="#111" stroke-width="1.1"/>
<rect x="449.80" y="381.80" width="4.40" height="4.40" fill="#c8102e"/>
<rect x="453.80" y="379.80" width="4.40" height="4.40" fill="#c8102e"/>
<rect x="451.80" y="383.80" width="4.40" height="4.40" fill="#c8102e"/>
<polygon points="465.80,366.70 463.11,371.54 468.49,371.54" fill="#1b4f8c"/>
<polygon points="471.60,369.10 468.91,373.94 474.29,373.94" fill="#1b4f8c"/>
<polygon points="469.30,370.10 466.61,374.94 471.99,374.94" fill="#1b4f8c"/>
<polygon points="468.80,377.10 466.11,381.94 471.49,381.94" fill="#1b4f8c"/>
<text x="469.80" y="365.80" font-size="7.6" text-anchor="middle" font-weight="normal" fill="#000">**</text>
<rect x="492.00" y="352.40" width="5.90" height="5.80" fill="#c8102e"/>
<rect x="492.00" y="364.90" width="5.90" height="5.80" fill="#1e508c"/>
<text x="501.00" y="358.00" font-size="7.6" text-anchor="start" font-weight="normal" fill="#000">WT</text>
<text x="501.00" y="370.50" font-size="7.6" text-anchor="start" font-weight="normal" fill="#000">KO</text>
<text transform="translate(255.20 69.60) rotate(-90)" font-size="8.2" font-weight="bold" text-anchor="middle" textLength="47.5" lengthAdjust="spacingAndGlyphs">% Foxp3<tspan font-size="5.0" dy="-3.2">+</tspan><tspan dy="3.2">CD25</tspan><tspan font-size="5.0" dy="-3.2">+</tspan></text>
<text transform="translate(346.40 70.50) rotate(-90)" font-size="7.3" font-weight="bold" text-anchor="middle" textLength="24.3" lengthAdjust="spacingAndGlyphs">% Nrp1<tspan font-size="5.0" dy="-3.2">+</tspan></text>
<text transform="translate(12.90 210.00) rotate(-90)" font-size="7.3" font-weight="bold" text-anchor="middle" textLength="27.1" lengthAdjust="spacingAndGlyphs">% Foxp3<tspan font-size="5.0" dy="-3.2">+</tspan></text>
<text transform="translate(144.80 210.00) rotate(-90)" font-size="7.8" font-weight="bold" text-anchor="middle" textLength="24.3" lengthAdjust="spacingAndGlyphs">% IFN&#947;<tspan font-size="5.0" dy="-3.2">+</tspan></text>
<text transform="translate(273.00 209.60) rotate(-90)" font-size="8.0" font-weight="bold" text-anchor="middle" textLength="36.7" lengthAdjust="spacingAndGlyphs">% Dead cells</text>
<text transform="translate(404.40 209.40) rotate(-90)" font-size="7.6" font-weight="bold" text-anchor="middle" textLength="30.4" lengthAdjust="spacingAndGlyphs">% CFSE<tspan font-size="5.2" dy="-3.4">dim</tspan></text>
<text transform="translate(419.20 318.00) rotate(-90)" font-size="7.8" font-weight="bold" text-anchor="middle" textLength="24.7" lengthAdjust="spacingAndGlyphs">% IFN&#947;<tspan font-size="5.0" dy="-3.2">+</tspan></text>
<text transform="translate(415.50 392.50) rotate(-90)" font-size="8.5" font-weight="bold" text-anchor="middle" textLength="34.7" lengthAdjust="spacingAndGlyphs">MFI of CD25</text>
<text transform="translate(260.80 353.10) rotate(-90)" font-size="8.5" font-weight="bold" text-anchor="middle" textLength="20.6" lengthAdjust="spacingAndGlyphs"># Cells</text>
<text transform="translate(329.70 428.30) rotate(0)" font-size="9.4" font-weight="normal" text-anchor="middle" textLength="15.2" lengthAdjust="spacingAndGlyphs">CD25</text>
<text transform="translate(19.30 69.80) rotate(-90)" font-size="8.8" font-weight="bold" text-anchor="middle" textLength="14.6" lengthAdjust="spacingAndGlyphs">CD25</text>
<text transform="translate(18.40 353.00) rotate(-90)" font-size="8.6" font-weight="bold" text-anchor="middle" textLength="14.2" lengthAdjust="spacingAndGlyphs">IFN&#947;</text>
<rect x="0" y="0" width="520" height="1.0" fill="#000"/>
<rect x="0" y="0" width="1.4" height="436" fill="#000"/>
<rect x="518.6" y="0" width="1.4" height="436" fill="#000"/>
<rect x="0" y="434.7" width="520" height="1.3" fill="#000"/>
</svg>
</body></html>
